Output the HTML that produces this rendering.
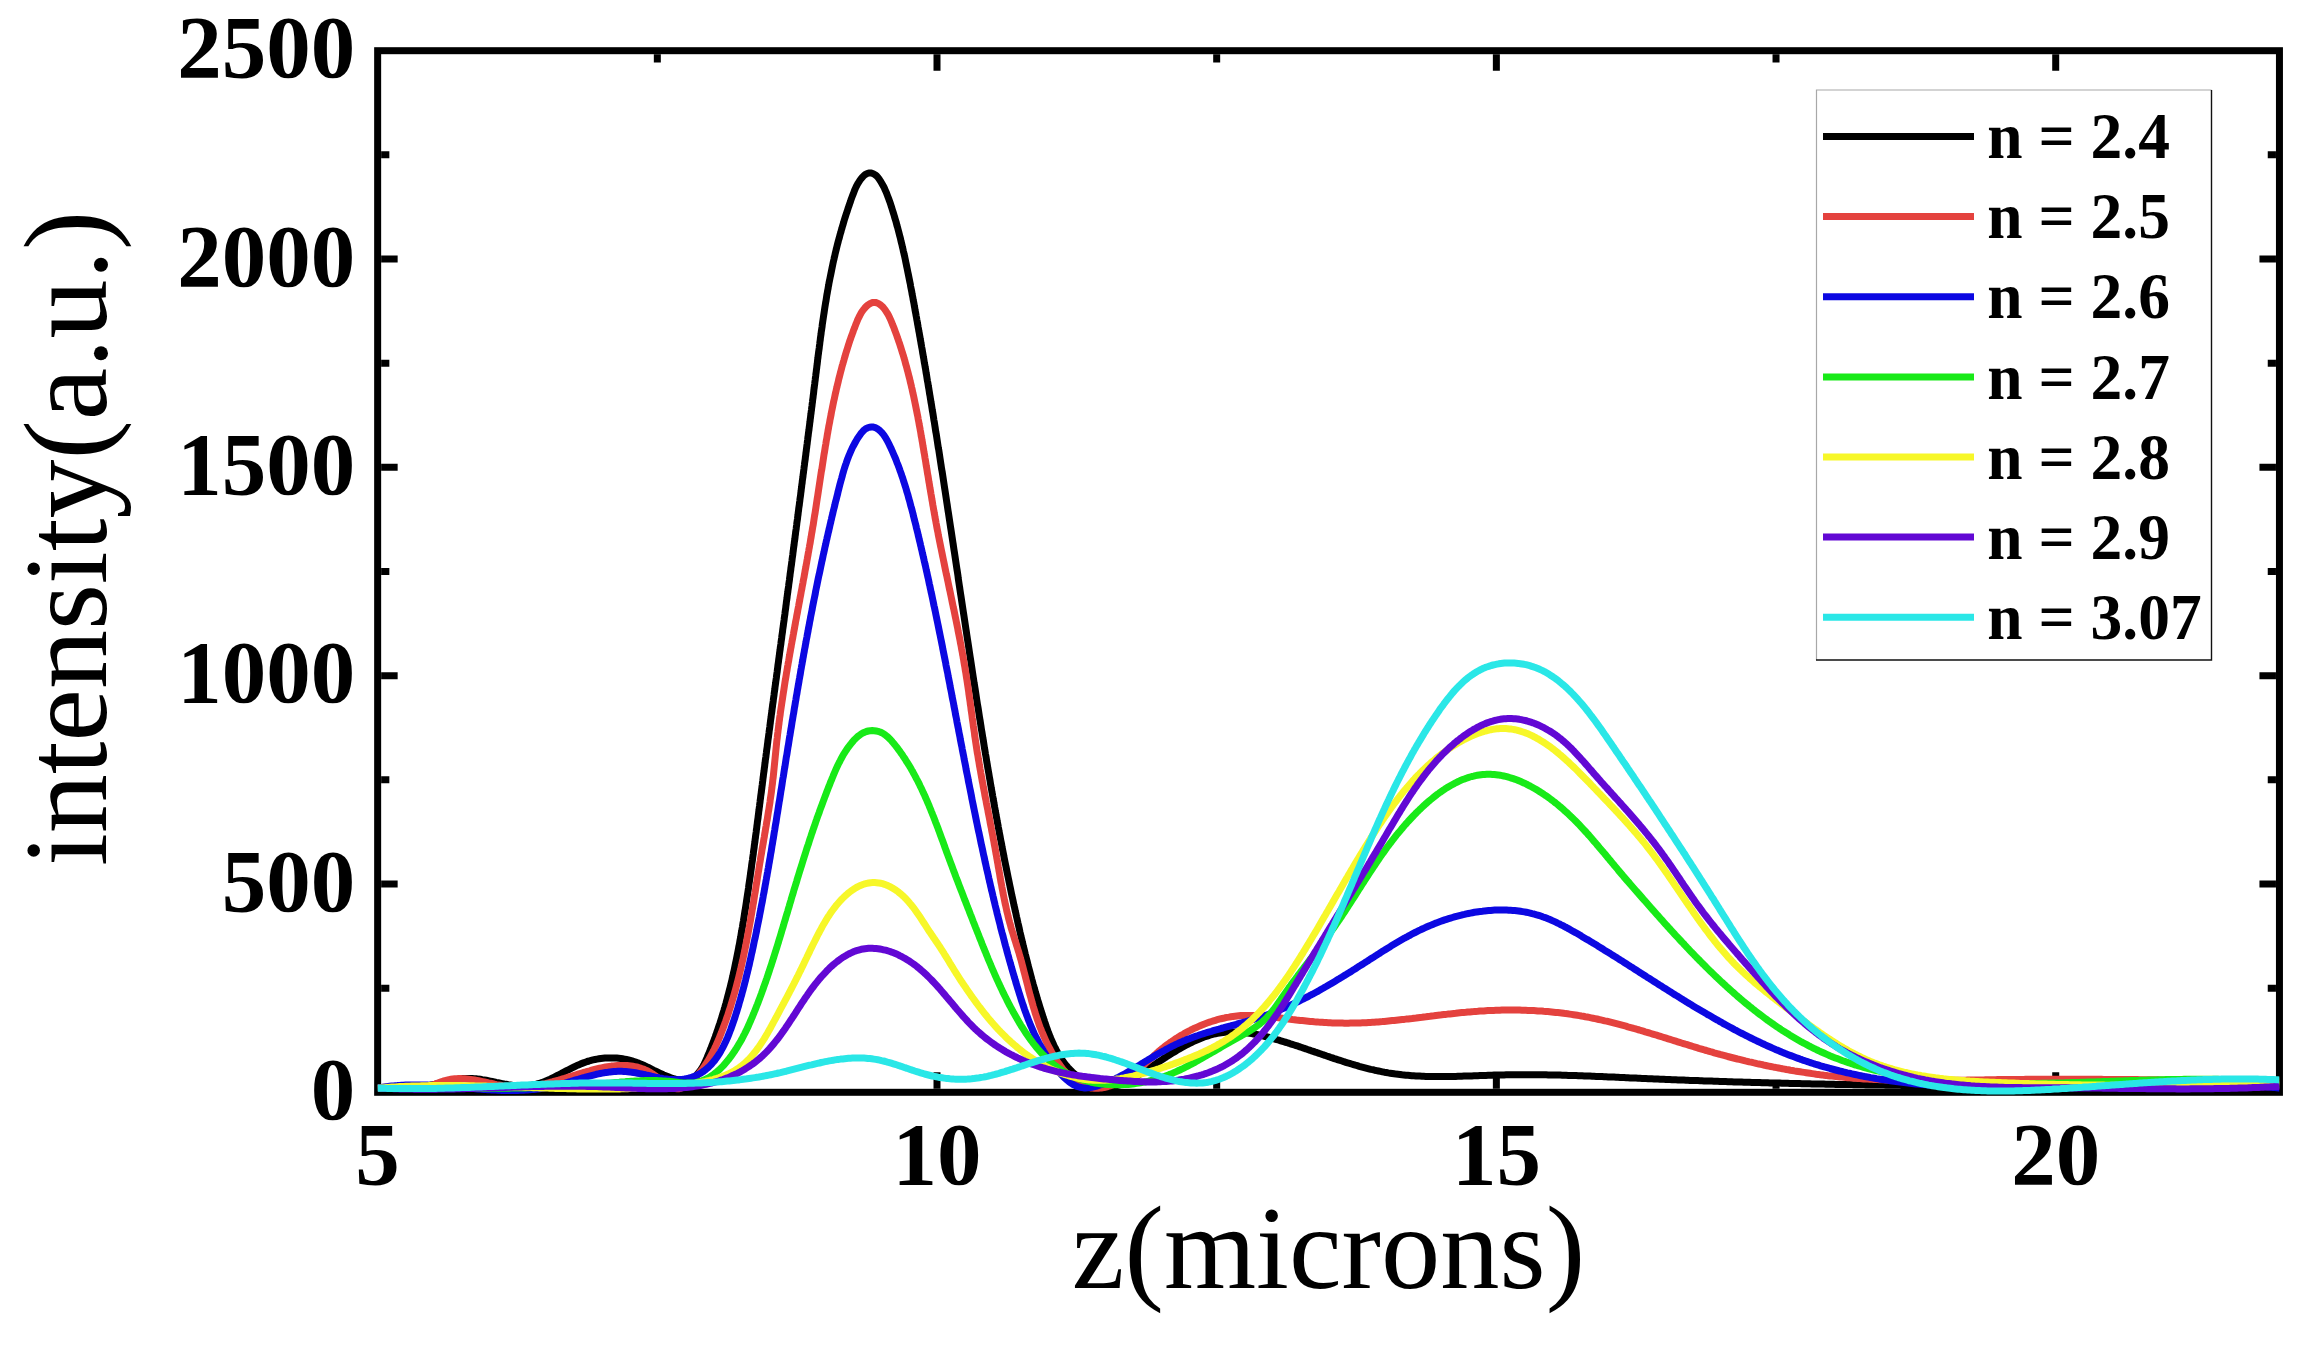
<!DOCTYPE html><html><head><meta charset="utf-8"><title>intensity vs z</title>
<style>html,body{margin:0;padding:0;background:#fff}svg{display:block}text{font-family:"Liberation Serif","Times New Roman",serif;fill:#000}</style></head><body>
<svg width="2304" height="1350" viewBox="0 0 2304 1350">
<rect width="2304" height="1350" fill="#fff"/>
<path d="M937.00 1088.80v-16.5M937.00 54.20v16.5M1496.36 1088.80v-16.5M1496.36 54.20v16.5M2055.71 1088.80v-16.5M2055.71 54.20v16.5M657.33 1088.80v-8.2M657.33 54.20v8.2M1216.68 1088.80v-8.2M1216.68 54.20v8.2M1776.03 1088.80v-8.2M1776.03 54.20v8.2M381.15 883.98h16.5M2275.95 883.98h-16.5M381.15 675.66h16.5M2275.95 675.66h-16.5M381.15 467.34h16.5M2275.95 467.34h-16.5M381.15 259.02h16.5M2275.95 259.02h-16.5M381.15 988.14h8.2M2275.95 988.14h-8.2M381.15 779.82h8.2M2275.95 779.82h-8.2M381.15 571.50h8.2M2275.95 571.50h-8.2M381.15 363.18h8.2M2275.95 363.18h-8.2M381.15 154.86h8.2M2275.95 154.86h-8.2" stroke="#000" stroke-width="7.0" fill="none"/>
<rect x="377.65" y="50.7" width="1901.80" height="1041.60" fill="none" stroke="#000" stroke-width="7.0"/>
<rect x="1816.5" y="90" width="395" height="570" fill="#fff" stroke="none"/>
<path d="M1816.5 660V90H2211.5" fill="none" stroke="#a8a8a8" stroke-width="1.2"/>
<path d="M1816 660H2211.5V90" fill="none" stroke="#111" stroke-width="1.4"/>
<clipPath id="c"><rect x="377.65" y="0" width="1901.80" height="1350"/></clipPath>
<g clip-path="url(#c)" fill="none" stroke-width="7" stroke-linejoin="round">
<path d="M377.6 1088.0 L379.6 1088.0 L381.5 1088.1 L383.5 1088.1 L385.5 1088.2 L387.5 1088.2 L389.5 1088.3 L391.5 1088.3 L393.5 1088.3 L395.5 1088.3 L397.5 1088.3 L399.5 1088.3 L401.5 1088.3 L403.6 1088.2 L405.6 1088.1 L407.6 1088.1 L409.6 1087.9 L411.6 1087.8 L413.6 1087.7 L415.7 1087.5 L417.7 1087.3 L419.7 1087.0 L421.6 1086.8 L423.6 1086.5 L425.6 1086.2 L427.6 1085.8 L429.5 1085.4 L431.5 1085.0 L433.4 1084.6 L435.4 1084.1 L437.3 1083.7 L439.3 1083.2 L441.2 1082.7 L443.1 1082.2 L445.0 1081.8 L447.0 1081.3 L448.9 1080.9 L450.8 1080.5 L452.7 1080.1 L454.7 1079.7 L456.6 1079.4 L458.5 1079.1 L460.5 1078.8 L462.4 1078.6 L464.3 1078.5 L466.3 1078.4 L468.3 1078.4 L470.2 1078.4 L472.2 1078.5 L474.2 1078.7 L476.2 1078.8 L478.2 1079.1 L480.2 1079.3 L482.2 1079.7 L484.2 1080.0 L486.2 1080.3 L488.2 1080.7 L490.2 1081.1 L492.2 1081.5 L494.2 1081.9 L496.2 1082.4 L498.2 1082.8 L500.2 1083.2 L502.2 1083.6 L504.2 1084.0 L506.2 1084.3 L508.2 1084.7 L510.2 1085.0 L512.1 1085.3 L514.1 1085.5 L516.1 1085.7 L518.1 1085.9 L520.0 1086.0 L522.0 1086.0 L523.9 1086.0 L525.8 1085.9 L527.8 1085.8 L529.7 1085.6 L531.6 1085.3 L533.5 1085.0 L535.3 1084.5 L537.2 1084.0 L539.1 1083.5 L540.9 1082.9 L542.8 1082.2 L544.6 1081.5 L546.5 1080.7 L548.3 1079.9 L550.1 1079.1 L552.0 1078.2 L553.8 1077.3 L555.6 1076.4 L557.4 1075.5 L559.3 1074.5 L561.1 1073.6 L562.9 1072.6 L564.7 1071.7 L566.6 1070.7 L568.4 1069.8 L570.3 1068.8 L572.1 1067.9 L574.0 1067.0 L575.8 1066.1 L577.7 1065.2 L579.6 1064.4 L581.5 1063.6 L583.4 1062.9 L585.3 1062.2 L587.2 1061.5 L589.1 1061.0 L591.1 1060.4 L593.0 1059.9 L595.0 1059.5 L597.0 1059.1 L598.9 1058.8 L600.9 1058.5 L602.9 1058.3 L604.9 1058.1 L606.9 1058.0 L608.9 1057.9 L610.8 1057.9 L612.8 1057.9 L614.8 1058.0 L616.8 1058.1 L618.7 1058.3 L620.7 1058.5 L622.6 1058.8 L624.5 1059.1 L626.5 1059.5 L628.4 1059.9 L630.2 1060.4 L632.1 1060.9 L634.0 1061.5 L635.8 1062.1 L637.6 1062.7 L639.4 1063.5 L641.2 1064.2 L643.0 1065.0 L644.8 1065.8 L646.6 1066.7 L648.4 1067.5 L650.2 1068.4 L652.0 1069.3 L653.9 1070.3 L655.8 1071.2 L657.8 1072.2 L659.7 1073.1 L661.7 1074.0 L663.7 1074.9 L665.7 1075.7 L667.7 1076.5 L669.7 1077.3 L671.6 1078.0 L673.6 1078.6 L675.6 1079.1 L677.5 1079.5 L679.4 1079.9 L681.3 1080.1 L683.1 1080.2 L684.9 1080.2 L686.6 1080.0 L688.3 1079.7 L690.0 1079.2 L691.5 1078.6 L693.1 1077.8 L694.5 1076.8 L695.9 1075.7 L697.2 1074.4 L698.4 1073.0 L699.6 1071.4 L700.8 1069.8 L701.9 1068.0 L703.0 1066.2 L704.0 1064.3 L704.9 1062.4 L705.9 1060.4 L706.8 1058.4 L707.6 1056.3 L708.5 1054.3 L709.3 1052.3 L710.1 1050.2 L710.9 1048.3 L711.6 1046.3 L712.4 1044.4 L713.1 1042.5 L713.8 1040.6 L714.5 1038.7 L715.2 1036.9 L715.8 1035.0 L716.5 1033.2 L717.1 1031.3 L717.8 1029.5 L718.4 1027.6 L719.0 1025.8 L719.7 1023.9 L720.3 1022.0 L720.9 1020.2 L721.5 1018.3 L722.1 1016.4 L722.6 1014.5 L723.2 1012.6 L723.8 1010.7 L724.3 1008.9 L724.9 1007.0 L725.4 1005.1 L726.0 1003.2 L726.5 1001.2 L727.0 999.3 L727.5 997.4 L728.0 995.5 L728.5 993.6 L729.0 991.7 L729.5 989.7 L730.0 987.8 L730.5 985.9 L730.9 984.0 L731.4 982.0 L731.9 980.1 L732.3 978.1 L732.8 976.2 L733.2 974.3 L733.6 972.3 L734.1 970.4 L734.5 968.4 L734.9 966.5 L735.3 964.5 L735.7 962.5 L736.1 960.6 L736.5 958.6 L736.9 956.7 L737.3 954.7 L737.7 952.7 L738.1 950.8 L738.5 948.8 L738.8 946.8 L739.2 944.9 L739.6 942.9 L739.9 940.9 L740.3 938.9 L740.7 937.0 L741.0 935.0 L741.3 933.0 L741.7 931.0 L742.0 929.1 L742.4 927.1 L742.7 925.1 L743.0 923.1 L743.4 921.1 L743.7 919.1 L744.0 917.2 L744.3 915.2 L744.6 913.2 L744.9 911.2 L745.3 909.2 L745.6 907.2 L745.9 905.3 L746.2 903.3 L746.5 901.3 L746.8 899.3 L747.1 897.3 L747.4 895.3 L747.7 893.4 L748.0 891.4 L748.3 889.4 L748.6 887.4 L748.8 885.4 L749.1 883.4 L749.4 881.5 L749.7 879.5 L750.0 877.5 L750.3 875.5 L750.5 873.5 L750.8 871.5 L751.1 869.6 L751.4 867.6 L751.6 865.6 L751.9 863.6 L752.2 861.6 L752.5 859.7 L752.7 857.7 L753.0 855.7 L753.3 853.7 L753.5 851.7 L753.8 849.7 L754.1 847.8 L754.3 845.8 L754.6 843.8 L754.9 841.8 L755.1 839.8 L755.4 837.9 L755.6 835.9 L755.9 833.9 L756.2 831.9 L756.4 829.9 L756.7 828.0 L756.9 826.0 L757.2 824.0 L757.4 822.0 L757.7 820.0 L758.0 818.1 L758.2 816.1 L758.5 814.1 L758.7 812.1 L759.0 810.1 L759.2 808.2 L759.5 806.2 L759.7 804.2 L760.0 802.2 L760.2 800.2 L760.5 798.3 L760.7 796.3 L761.0 794.3 L761.3 792.3 L761.5 790.3 L761.8 788.4 L762.0 786.4 L762.3 784.4 L762.5 782.4 L762.8 780.4 L763.0 778.5 L763.3 776.5 L763.5 774.5 L763.8 772.5 L764.1 770.5 L764.3 768.5 L764.6 766.6 L764.8 764.6 L765.1 762.6 L765.3 760.6 L765.6 758.6 L765.9 756.7 L766.1 754.7 L766.4 752.7 L766.6 750.7 L766.9 748.7 L767.2 746.8 L767.4 744.8 L767.7 742.8 L767.9 740.8 L768.2 738.8 L768.5 736.8 L768.7 734.9 L769.0 732.9 L769.2 730.9 L769.5 728.9 L769.8 726.9 L770.0 725.0 L770.3 723.0 L770.5 721.0 L770.8 719.0 L771.1 717.0 L771.3 715.0 L771.6 713.1 L771.9 711.1 L772.1 709.1 L772.4 707.1 L772.6 705.1 L772.9 703.2 L773.2 701.2 L773.4 699.2 L773.7 697.2 L774.0 695.2 L774.2 693.2 L774.5 691.3 L774.8 689.3 L775.0 687.3 L775.3 685.3 L775.6 683.3 L775.8 681.4 L776.1 679.4 L776.4 677.4 L776.6 675.4 L776.9 673.4 L777.2 671.4 L777.4 669.5 L777.7 667.5 L777.9 665.5 L778.2 663.5 L778.5 661.5 L778.7 659.5 L779.0 657.6 L779.3 655.6 L779.5 653.6 L779.8 651.6 L780.1 649.6 L780.3 647.6 L780.6 645.7 L780.9 643.7 L781.1 641.7 L781.4 639.7 L781.7 637.7 L781.9 635.7 L782.2 633.8 L782.5 631.8 L782.7 629.8 L783.0 627.8 L783.3 625.8 L783.5 623.9 L783.8 621.9 L784.1 619.9 L784.3 617.9 L784.6 615.9 L784.9 613.9 L785.1 612.0 L785.4 610.0 L785.7 608.0 L785.9 606.0 L786.2 604.0 L786.4 602.0 L786.7 600.1 L787.0 598.1 L787.2 596.1 L787.5 594.1 L787.8 592.1 L788.0 590.1 L788.3 588.2 L788.6 586.2 L788.8 584.2 L789.1 582.2 L789.4 580.2 L789.6 578.2 L789.9 576.3 L790.1 574.3 L790.4 572.3 L790.7 570.3 L790.9 568.3 L791.2 566.3 L791.5 564.4 L791.7 562.4 L792.0 560.4 L792.2 558.4 L792.5 556.4 L792.8 554.4 L793.0 552.5 L793.3 550.5 L793.5 548.5 L793.8 546.5 L794.1 544.5 L794.3 542.5 L794.6 540.6 L794.9 538.6 L795.1 536.6 L795.4 534.6 L795.6 532.6 L795.9 530.6 L796.2 528.7 L796.4 526.7 L796.7 524.7 L796.9 522.7 L797.2 520.7 L797.5 518.7 L797.7 516.8 L798.0 514.8 L798.2 512.8 L798.5 510.8 L798.7 508.8 L799.0 506.8 L799.3 504.9 L799.5 502.9 L799.8 500.9 L800.0 498.9 L800.3 496.9 L800.6 495.0 L800.8 493.0 L801.1 491.0 L801.3 489.0 L801.6 487.0 L801.8 485.0 L802.1 483.1 L802.3 481.1 L802.6 479.1 L802.9 477.1 L803.1 475.1 L803.4 473.1 L803.6 471.2 L803.9 469.2 L804.1 467.2 L804.4 465.2 L804.6 463.2 L804.9 461.2 L805.2 459.3 L805.4 457.3 L805.7 455.3 L805.9 453.3 L806.2 451.3 L806.4 449.3 L806.7 447.4 L806.9 445.4 L807.2 443.4 L807.4 441.4 L807.7 439.4 L807.9 437.4 L808.2 435.5 L808.4 433.5 L808.7 431.5 L809.0 429.5 L809.2 427.5 L809.5 425.5 L809.7 423.6 L810.0 421.6 L810.2 419.6 L810.5 417.6 L810.7 415.6 L811.0 413.6 L811.2 411.7 L811.5 409.7 L811.7 407.7 L812.0 405.7 L812.2 403.7 L812.5 401.7 L812.7 399.7 L813.0 397.8 L813.2 395.8 L813.5 393.8 L813.7 391.8 L813.9 389.8 L814.2 387.8 L814.4 385.9 L814.7 383.9 L814.9 381.9 L815.2 379.9 L815.4 377.9 L815.7 375.9 L815.9 374.0 L816.2 372.0 L816.4 370.0 L816.7 368.0 L816.9 366.0 L817.2 364.0 L817.4 362.1 L817.6 360.1 L817.9 358.1 L818.1 356.1 L818.4 354.1 L818.6 352.2 L818.9 350.2 L819.2 348.2 L819.4 346.2 L819.7 344.2 L819.9 342.2 L820.2 340.3 L820.4 338.3 L820.7 336.3 L821.0 334.3 L821.2 332.3 L821.5 330.4 L821.8 328.4 L822.1 326.4 L822.3 324.4 L822.6 322.4 L822.9 320.5 L823.2 318.5 L823.5 316.5 L823.8 314.5 L824.1 312.6 L824.4 310.6 L824.7 308.6 L825.0 306.6 L825.3 304.7 L825.6 302.7 L826.0 300.7 L826.3 298.8 L826.6 296.8 L826.9 294.8 L827.3 292.8 L827.6 290.9 L828.0 288.9 L828.3 286.9 L828.7 285.0 L829.0 283.0 L829.4 281.0 L829.8 279.1 L830.2 277.1 L830.6 275.2 L831.0 273.2 L831.4 271.2 L831.8 269.3 L832.2 267.3 L832.6 265.4 L833.0 263.4 L833.4 261.5 L833.9 259.5 L834.3 257.5 L834.8 255.6 L835.2 253.6 L835.7 251.7 L836.2 249.7 L836.6 247.8 L837.1 245.9 L837.6 243.9 L838.1 242.0 L838.6 240.0 L839.2 238.1 L839.7 236.1 L840.2 234.2 L840.8 232.3 L841.3 230.3 L841.9 228.4 L842.4 226.5 L843.0 224.6 L843.6 222.6 L844.1 220.7 L844.7 218.8 L845.3 216.9 L845.9 215.0 L846.5 213.1 L847.2 211.2 L847.8 209.3 L848.4 207.4 L849.1 205.5 L849.7 203.6 L850.4 201.7 L851.0 199.8 L851.7 197.9 L852.4 196.1 L853.1 194.2 L853.8 192.4 L854.5 190.5 L855.3 188.7 L856.1 186.9 L857.0 185.1 L858.0 183.3 L859.1 181.6 L860.2 179.9 L861.5 178.3 L862.8 176.7 L864.3 175.3 L865.9 174.1 L867.6 173.3 L869.4 172.9 L871.3 173.0 L873.3 173.7 L875.1 174.7 L876.7 176.0 L878.0 177.5 L879.2 179.1 L880.3 180.8 L881.3 182.5 L882.3 184.2 L883.3 186.0 L884.2 187.7 L885.0 189.6 L885.8 191.4 L886.6 193.2 L887.3 195.1 L888.0 196.9 L888.7 198.8 L889.4 200.7 L890.1 202.6 L890.7 204.5 L891.3 206.4 L891.9 208.3 L892.5 210.2 L893.1 212.1 L893.7 214.1 L894.3 216.0 L894.8 217.9 L895.4 219.8 L896.0 221.7 L896.5 223.7 L897.0 225.6 L897.6 227.5 L898.1 229.5 L898.6 231.4 L899.1 233.3 L899.6 235.3 L900.1 237.2 L900.6 239.2 L901.0 241.1 L901.5 243.0 L902.0 245.0 L902.4 246.9 L902.9 248.9 L903.3 250.8 L903.8 252.8 L904.2 254.7 L904.7 256.7 L905.1 258.6 L905.5 260.6 L905.9 262.6 L906.3 264.5 L906.7 266.5 L907.1 268.4 L907.5 270.4 L907.9 272.4 L908.3 274.3 L908.7 276.3 L909.1 278.2 L909.5 280.2 L909.9 282.2 L910.3 284.1 L910.6 286.1 L911.0 288.1 L911.4 290.0 L911.8 292.0 L912.1 294.0 L912.5 295.9 L912.9 297.9 L913.2 299.9 L913.6 301.8 L914.0 303.8 L914.3 305.8 L914.7 307.7 L915.0 309.7 L915.4 311.7 L915.8 313.7 L916.1 315.6 L916.5 317.6 L916.8 319.6 L917.2 321.5 L917.5 323.5 L917.9 325.5 L918.2 327.4 L918.6 329.4 L918.9 331.4 L919.3 333.3 L919.6 335.3 L920.0 337.3 L920.3 339.2 L920.7 341.2 L921.0 343.2 L921.4 345.2 L921.7 347.1 L922.1 349.1 L922.4 351.1 L922.7 353.0 L923.1 355.0 L923.4 357.0 L923.8 358.9 L924.1 360.9 L924.4 362.9 L924.8 364.9 L925.1 366.8 L925.5 368.8 L925.8 370.8 L926.1 372.7 L926.5 374.7 L926.8 376.7 L927.1 378.7 L927.4 380.6 L927.8 382.6 L928.1 384.6 L928.4 386.5 L928.8 388.5 L929.1 390.5 L929.4 392.4 L929.7 394.4 L930.1 396.4 L930.4 398.4 L930.7 400.3 L931.0 402.3 L931.4 404.3 L931.7 406.3 L932.0 408.2 L932.3 410.2 L932.7 412.2 L933.0 414.1 L933.3 416.1 L933.6 418.1 L933.9 420.1 L934.3 422.0 L934.6 424.0 L934.9 426.0 L935.2 427.9 L935.5 429.9 L935.8 431.9 L936.2 433.9 L936.5 435.8 L936.8 437.8 L937.1 439.8 L937.4 441.8 L937.7 443.7 L938.0 445.7 L938.3 447.7 L938.7 449.6 L939.0 451.6 L939.3 453.6 L939.6 455.6 L939.9 457.5 L940.2 459.5 L940.5 461.5 L940.8 463.5 L941.1 465.4 L941.4 467.4 L941.7 469.4 L942.1 471.4 L942.4 473.3 L942.7 475.3 L943.0 477.3 L943.3 479.3 L943.6 481.2 L943.9 483.2 L944.2 485.2 L944.5 487.2 L944.8 489.1 L945.1 491.1 L945.4 493.1 L945.7 495.1 L946.0 497.0 L946.3 499.0 L946.6 501.0 L946.9 503.0 L947.2 504.9 L947.5 506.9 L947.8 508.9 L948.1 510.9 L948.4 512.8 L948.7 514.8 L949.0 516.8 L949.3 518.8 L949.6 520.7 L949.9 522.7 L950.2 524.7 L950.5 526.7 L950.8 528.6 L951.1 530.6 L951.4 532.6 L951.7 534.6 L952.0 536.5 L952.3 538.5 L952.6 540.5 L952.9 542.5 L953.2 544.4 L953.5 546.4 L953.8 548.4 L954.1 550.4 L954.4 552.3 L954.7 554.3 L955.0 556.3 L955.3 558.3 L955.6 560.3 L955.9 562.2 L956.2 564.2 L956.5 566.2 L956.8 568.2 L957.1 570.1 L957.4 572.1 L957.7 574.1 L958.0 576.1 L958.2 578.0 L958.5 580.0 L958.8 582.0 L959.1 584.0 L959.4 586.0 L959.7 587.9 L960.0 589.9 L960.3 591.9 L960.6 593.9 L960.9 595.8 L961.2 597.8 L961.5 599.8 L961.8 601.8 L962.1 603.8 L962.4 605.7 L962.7 607.7 L963.0 609.7 L963.3 611.7 L963.6 613.6 L963.9 615.6 L964.2 617.6 L964.5 619.6 L964.8 621.6 L965.1 623.5 L965.4 625.5 L965.7 627.5 L966.0 629.5 L966.3 631.4 L966.6 633.4 L966.9 635.4 L967.2 637.4 L967.5 639.4 L967.8 641.3 L968.1 643.3 L968.4 645.3 L968.7 647.3 L969.0 649.3 L969.3 651.2 L969.6 653.2 L969.9 655.2 L970.2 657.2 L970.5 659.1 L970.8 661.1 L971.1 663.1 L971.4 665.1 L971.7 667.1 L972.0 669.0 L972.3 671.0 L972.6 673.0 L972.9 675.0 L973.2 677.0 L973.5 678.9 L973.8 680.9 L974.1 682.9 L974.5 684.9 L974.8 686.9 L975.1 688.8 L975.4 690.8 L975.7 692.8 L976.0 694.8 L976.3 696.8 L976.6 698.7 L976.9 700.7 L977.2 702.7 L977.5 704.7 L977.9 706.7 L978.2 708.6 L978.5 710.6 L978.8 712.6 L979.1 714.6 L979.4 716.6 L979.7 718.5 L980.1 720.5 L980.4 722.5 L980.7 724.5 L981.0 726.4 L981.3 728.4 L981.6 730.4 L982.0 732.4 L982.3 734.4 L982.6 736.3 L982.9 738.3 L983.3 740.3 L983.6 742.3 L983.9 744.3 L984.2 746.2 L984.5 748.2 L984.9 750.2 L985.2 752.2 L985.5 754.1 L985.9 756.1 L986.2 758.1 L986.5 760.1 L986.8 762.0 L987.2 764.0 L987.5 766.0 L987.8 768.0 L988.2 769.9 L988.5 771.9 L988.9 773.9 L989.2 775.9 L989.5 777.8 L989.9 779.8 L990.2 781.8 L990.5 783.8 L990.9 785.7 L991.2 787.7 L991.6 789.7 L991.9 791.7 L992.3 793.6 L992.6 795.6 L993.0 797.6 L993.3 799.5 L993.7 801.5 L994.0 803.5 L994.4 805.5 L994.7 807.4 L995.1 809.4 L995.4 811.4 L995.8 813.3 L996.1 815.3 L996.5 817.3 L996.9 819.2 L997.2 821.2 L997.6 823.2 L998.0 825.1 L998.3 827.1 L998.7 829.1 L999.0 831.0 L999.4 833.0 L999.8 835.0 L1000.2 836.9 L1000.5 838.9 L1000.9 840.9 L1001.3 842.8 L1001.7 844.8 L1002.0 846.7 L1002.4 848.7 L1002.8 850.7 L1003.2 852.6 L1003.6 854.6 L1003.9 856.5 L1004.3 858.5 L1004.7 860.5 L1005.1 862.4 L1005.5 864.4 L1005.9 866.3 L1006.3 868.3 L1006.7 870.2 L1007.1 872.2 L1007.5 874.2 L1007.9 876.1 L1008.3 878.1 L1008.7 880.0 L1009.1 882.0 L1009.5 883.9 L1009.9 885.9 L1010.3 887.8 L1010.7 889.8 L1011.1 891.7 L1011.5 893.7 L1011.9 895.6 L1012.4 897.6 L1012.8 899.5 L1013.2 901.5 L1013.6 903.4 L1014.0 905.4 L1014.5 907.3 L1014.9 909.3 L1015.3 911.2 L1015.8 913.1 L1016.2 915.1 L1016.6 917.0 L1017.1 919.0 L1017.5 920.9 L1017.9 922.8 L1018.4 924.8 L1018.8 926.7 L1019.3 928.7 L1019.7 930.6 L1020.1 932.5 L1020.6 934.5 L1021.0 936.4 L1021.5 938.3 L1022.0 940.3 L1022.4 942.2 L1022.9 944.1 L1023.3 946.1 L1023.8 948.0 L1024.3 949.9 L1024.8 951.9 L1025.2 953.8 L1025.7 955.7 L1026.2 957.7 L1026.7 959.6 L1027.2 961.5 L1027.7 963.5 L1028.1 965.4 L1028.6 967.3 L1029.2 969.3 L1029.7 971.2 L1030.2 973.1 L1030.7 975.1 L1031.2 977.0 L1031.7 978.9 L1032.3 980.9 L1032.8 982.8 L1033.3 984.7 L1033.9 986.7 L1034.4 988.6 L1035.0 990.5 L1035.5 992.5 L1036.1 994.4 L1036.7 996.3 L1037.2 998.3 L1037.8 1000.2 L1038.4 1002.1 L1039.0 1004.1 L1039.6 1006.0 L1040.2 1008.0 L1040.8 1009.9 L1041.4 1011.9 L1042.1 1013.8 L1042.7 1015.7 L1043.3 1017.7 L1044.0 1019.6 L1044.6 1021.6 L1045.3 1023.5 L1045.9 1025.5 L1046.6 1027.4 L1047.3 1029.3 L1048.0 1031.3 L1048.7 1033.2 L1049.5 1035.1 L1050.2 1037.0 L1051.0 1038.8 L1051.8 1040.7 L1052.6 1042.5 L1053.4 1044.4 L1054.3 1046.2 L1055.2 1048.0 L1056.1 1049.7 L1057.0 1051.5 L1057.9 1053.2 L1058.9 1054.9 L1059.9 1056.6 L1060.9 1058.2 L1062.0 1059.8 L1063.1 1061.4 L1064.2 1062.9 L1065.4 1064.4 L1066.6 1065.9 L1067.8 1067.3 L1069.1 1068.7 L1070.4 1070.1 L1071.8 1071.4 L1073.1 1072.7 L1074.6 1073.9 L1076.0 1075.1 L1077.6 1076.2 L1079.1 1077.3 L1080.7 1078.4 L1082.4 1079.4 L1084.1 1080.3 L1085.8 1081.2 L1087.6 1082.0 L1089.4 1082.8 L1091.3 1083.5 L1093.2 1084.1 L1095.2 1084.7 L1097.1 1085.2 L1099.1 1085.6 L1101.1 1086.0 L1103.1 1086.2 L1105.1 1086.4 L1107.1 1086.5 L1109.1 1086.5 L1111.1 1086.5 L1113.0 1086.3 L1115.0 1086.0 L1116.9 1085.6 L1118.8 1085.1 L1120.6 1084.6 L1122.4 1083.9 L1124.2 1083.1 L1126.0 1082.3 L1127.8 1081.4 L1129.5 1080.4 L1131.3 1079.4 L1133.0 1078.4 L1134.7 1077.3 L1136.5 1076.3 L1138.2 1075.2 L1140.0 1074.1 L1141.7 1073.0 L1143.4 1071.8 L1145.2 1070.7 L1146.9 1069.6 L1148.7 1068.4 L1150.4 1067.3 L1152.2 1066.1 L1153.9 1065.0 L1155.7 1063.8 L1157.4 1062.6 L1159.2 1061.5 L1161.0 1060.3 L1162.7 1059.2 L1164.5 1058.0 L1166.3 1056.9 L1168.0 1055.8 L1169.8 1054.7 L1171.6 1053.5 L1173.4 1052.5 L1175.2 1051.4 L1177.0 1050.3 L1178.8 1049.3 L1180.6 1048.2 L1182.4 1047.2 L1184.2 1046.2 L1186.0 1045.2 L1187.8 1044.3 L1189.6 1043.4 L1191.4 1042.5 L1193.2 1041.6 L1195.1 1040.8 L1196.9 1040.0 L1198.7 1039.2 L1200.6 1038.4 L1202.4 1037.7 L1204.2 1037.0 L1206.1 1036.4 L1208.0 1035.8 L1209.8 1035.2 L1211.7 1034.7 L1213.5 1034.2 L1215.4 1033.8 L1217.3 1033.4 L1219.2 1033.0 L1221.1 1032.7 L1223.0 1032.5 L1224.9 1032.3 L1226.8 1032.1 L1228.7 1032.0 L1230.6 1031.9 L1232.5 1031.9 L1234.4 1031.9 L1236.3 1032.0 L1238.2 1032.1 L1240.2 1032.2 L1242.1 1032.3 L1244.0 1032.5 L1246.0 1032.8 L1247.9 1033.0 L1249.8 1033.3 L1251.8 1033.6 L1253.7 1034.0 L1255.6 1034.3 L1257.6 1034.7 L1259.5 1035.2 L1261.5 1035.6 L1263.4 1036.0 L1265.3 1036.5 L1267.3 1037.0 L1269.2 1037.5 L1271.1 1038.0 L1273.1 1038.6 L1275.0 1039.1 L1276.9 1039.7 L1278.9 1040.2 L1280.8 1040.8 L1282.7 1041.4 L1284.6 1042.0 L1286.6 1042.5 L1288.5 1043.1 L1290.4 1043.8 L1292.3 1044.4 L1294.2 1045.0 L1296.1 1045.6 L1298.1 1046.2 L1300.0 1046.9 L1301.9 1047.5 L1303.8 1048.2 L1305.7 1048.8 L1307.6 1049.5 L1309.5 1050.1 L1311.4 1050.8 L1313.3 1051.4 L1315.3 1052.1 L1317.2 1052.7 L1319.1 1053.4 L1321.0 1054.0 L1322.9 1054.7 L1324.8 1055.3 L1326.7 1056.0 L1328.6 1056.6 L1330.5 1057.3 L1332.4 1057.9 L1334.3 1058.6 L1336.2 1059.2 L1338.1 1059.8 L1340.1 1060.4 L1342.0 1061.0 L1343.9 1061.7 L1345.8 1062.3 L1347.7 1062.9 L1349.6 1063.4 L1351.5 1064.0 L1353.5 1064.6 L1355.4 1065.2 L1357.3 1065.7 L1359.2 1066.3 L1361.1 1066.8 L1363.1 1067.3 L1365.0 1067.8 L1366.9 1068.3 L1368.8 1068.8 L1370.8 1069.3 L1372.7 1069.7 L1374.6 1070.2 L1376.6 1070.6 L1378.5 1071.0 L1380.5 1071.4 L1382.4 1071.8 L1384.3 1072.2 L1386.3 1072.5 L1388.2 1072.9 L1390.2 1073.2 L1392.2 1073.5 L1394.1 1073.8 L1396.1 1074.1 L1398.0 1074.3 L1400.0 1074.5 L1402.0 1074.8 L1403.9 1075.0 L1405.9 1075.2 L1407.9 1075.3 L1409.9 1075.5 L1411.8 1075.7 L1413.8 1075.8 L1415.8 1075.9 L1417.8 1076.0 L1419.8 1076.1 L1421.8 1076.2 L1423.8 1076.3 L1425.7 1076.4 L1427.7 1076.4 L1429.7 1076.5 L1431.7 1076.5 L1433.7 1076.5 L1435.7 1076.6 L1437.7 1076.6 L1439.7 1076.6 L1441.7 1076.6 L1443.7 1076.6 L1445.7 1076.5 L1447.7 1076.5 L1449.8 1076.5 L1451.8 1076.4 L1453.8 1076.4 L1455.8 1076.4 L1457.8 1076.3 L1459.8 1076.3 L1461.8 1076.2 L1463.8 1076.1 L1465.8 1076.1 L1467.8 1076.0 L1469.9 1075.9 L1471.9 1075.9 L1473.9 1075.8 L1475.9 1075.7 L1477.9 1075.7 L1479.9 1075.6 L1481.9 1075.5 L1484.0 1075.4 L1486.0 1075.4 L1488.0 1075.3 L1490.0 1075.2 L1492.0 1075.2 L1494.0 1075.1 L1496.0 1075.1 L1498.0 1075.0 L1500.1 1075.0 L1502.1 1074.9 L1504.1 1074.9 L1506.1 1074.8 L1508.1 1074.8 L1510.1 1074.8 L1512.1 1074.7 L1514.1 1074.7 L1516.1 1074.7 L1518.1 1074.7 L1520.1 1074.7 L1522.1 1074.7 L1524.2 1074.7 L1526.2 1074.7 L1528.2 1074.7 L1530.2 1074.7 L1532.2 1074.7 L1534.2 1074.7 L1536.2 1074.7 L1538.2 1074.7 L1540.2 1074.8 L1542.2 1074.8 L1544.2 1074.8 L1546.2 1074.8 L1548.2 1074.9 L1550.2 1074.9 L1552.2 1075.0 L1554.2 1075.0 L1556.2 1075.0 L1558.2 1075.1 L1560.2 1075.1 L1562.2 1075.2 L1564.2 1075.3 L1566.2 1075.3 L1568.2 1075.4 L1570.2 1075.4 L1572.2 1075.5 L1574.2 1075.6 L1576.2 1075.6 L1578.2 1075.7 L1580.2 1075.8 L1582.2 1075.8 L1584.2 1075.9 L1586.2 1076.0 L1588.2 1076.1 L1590.1 1076.1 L1592.1 1076.2 L1594.1 1076.3 L1596.1 1076.4 L1598.1 1076.5 L1600.1 1076.5 L1602.1 1076.6 L1604.1 1076.7 L1606.1 1076.8 L1608.1 1076.9 L1610.1 1077.0 L1612.1 1077.1 L1614.1 1077.1 L1616.1 1077.2 L1618.1 1077.3 L1620.1 1077.4 L1622.1 1077.5 L1624.1 1077.6 L1626.1 1077.7 L1628.0 1077.8 L1630.0 1077.9 L1632.0 1077.9 L1634.0 1078.0 L1636.0 1078.1 L1638.0 1078.2 L1640.0 1078.3 L1642.0 1078.4 L1644.0 1078.5 L1646.0 1078.6 L1648.0 1078.7 L1650.0 1078.7 L1652.0 1078.8 L1654.0 1078.9 L1656.0 1079.0 L1658.0 1079.1 L1660.0 1079.2 L1662.0 1079.3 L1663.9 1079.3 L1665.9 1079.4 L1667.9 1079.5 L1669.9 1079.6 L1671.9 1079.7 L1673.9 1079.7 L1675.9 1079.8 L1677.9 1079.9 L1679.9 1080.0 L1681.9 1080.1 L1683.9 1080.1 L1685.9 1080.2 L1687.9 1080.3 L1689.9 1080.4 L1691.9 1080.4 L1693.9 1080.5 L1695.9 1080.6 L1697.9 1080.6 L1699.9 1080.7 L1701.9 1080.8 L1703.9 1080.9 L1705.9 1080.9 L1707.9 1081.0 L1709.9 1081.1 L1711.9 1081.1 L1713.8 1081.2 L1715.8 1081.3 L1717.8 1081.3 L1719.8 1081.4 L1721.8 1081.5 L1723.8 1081.5 L1725.8 1081.6 L1727.8 1081.7 L1729.8 1081.7 L1731.8 1081.8 L1733.8 1081.9 L1735.8 1081.9 L1737.8 1082.0 L1739.8 1082.0 L1741.8 1082.1 L1743.8 1082.2 L1745.8 1082.2 L1747.8 1082.3 L1749.8 1082.3 L1751.8 1082.4 L1753.8 1082.4 L1755.8 1082.5 L1757.8 1082.6 L1759.8 1082.6 L1761.8 1082.7 L1763.8 1082.7 L1765.8 1082.8 L1767.8 1082.8 L1769.8 1082.9 L1771.8 1082.9 L1773.8 1083.0 L1775.8 1083.0 L1777.8 1083.1 L1779.8 1083.1 L1781.8 1083.2 L1783.8 1083.2 L1785.8 1083.3 L1787.8 1083.3 L1789.8 1083.4 L1791.8 1083.4 L1793.8 1083.5 L1795.8 1083.5 L1797.8 1083.6 L1799.8 1083.6 L1801.8 1083.7 L1803.8 1083.7 L1805.8 1083.8 L1807.8 1083.8 L1809.8 1083.8 L1811.8 1083.9 L1813.8 1083.9 L1815.8 1084.0 L1817.8 1084.0 L1819.8 1084.1 L1821.8 1084.1 L1823.8 1084.1 L1825.8 1084.2 L1827.8 1084.2 L1829.8 1084.2 L1831.8 1084.3 L1833.8 1084.3 L1835.8 1084.4 L1837.8 1084.4 L1839.8 1084.4 L1841.8 1084.5 L1843.8 1084.5 L1845.8 1084.5 L1847.8 1084.6 L1849.8 1084.6 L1851.8 1084.6 L1853.8 1084.7 L1855.8 1084.7 L1857.8 1084.7 L1859.8 1084.8 L1861.8 1084.8 L1863.8 1084.8 L1865.8 1084.9 L1867.8 1084.9 L1869.8 1084.9 L1871.8 1085.0 L1873.8 1085.0 L1875.8 1085.0 L1877.8 1085.1 L1879.8 1085.1 L1881.8 1085.1 L1883.8 1085.1 L1885.8 1085.2 L1887.8 1085.2 L1889.8 1085.2 L1891.8 1085.2 L1893.8 1085.3 L1895.8 1085.3 L1897.8 1085.3 L1899.8 1085.3 L1901.8 1085.4 L1903.8 1085.4 L1905.8 1085.4 L1907.8 1085.4 L1909.8 1085.5 L1911.8 1085.5 L1913.8 1085.5 L1915.8 1085.5 L1917.8 1085.6 L1919.8 1085.6 L1921.8 1085.6 L1923.8 1085.6 L1925.8 1085.6 L1927.8 1085.7 L1929.8 1085.7 L1931.8 1085.7 L1933.8 1085.7 L1935.8 1085.7 L1937.8 1085.8 L1939.8 1085.8 L1941.8 1085.8 L1943.8 1085.8 L1945.8 1085.8 L1947.8 1085.8 L1949.8 1085.9 L1951.8 1085.9 L1953.8 1085.9 L1955.8 1085.9 L1957.8 1085.9 L1959.8 1085.9 L1961.8 1085.9 L1963.8 1086.0 L1965.8 1086.0 L1967.8 1086.0 L1969.8 1086.0 L1971.8 1086.0 L1973.8 1086.0 L1975.8 1086.0 L1977.8 1086.1 L1979.8 1086.1 L1981.8 1086.1 L1983.8 1086.1 L1985.8 1086.1 L1987.8 1086.1 L1989.8 1086.1 L1991.8 1086.1 L1993.8 1086.1 L1995.8 1086.1 L1997.8 1086.2 L1999.8 1086.2 L2001.8 1086.2 L2003.8 1086.2 L2005.8 1086.2 L2007.8 1086.2 L2009.8 1086.2 L2011.8 1086.2 L2013.8 1086.2 L2015.8 1086.2 L2017.8 1086.2 L2019.8 1086.2 L2021.8 1086.3 L2023.8 1086.3 L2025.8 1086.3 L2027.8 1086.3 L2029.8 1086.3 L2031.8 1086.3 L2033.8 1086.3 L2035.8 1086.3 L2037.8 1086.3 L2039.8 1086.3 L2041.8 1086.3 L2043.8 1086.3 L2045.8 1086.3 L2047.8 1086.3 L2049.8 1086.3 L2051.8 1086.3 L2053.8 1086.3 L2055.8 1086.3 L2057.8 1086.3 L2059.9 1086.3 L2061.9 1086.3 L2063.9 1086.3 L2065.9 1086.3 L2067.9 1086.3 L2069.9 1086.3 L2071.9 1086.3 L2073.9 1086.3 L2075.9 1086.3 L2077.9 1086.3 L2079.9 1086.3 L2081.9 1086.3 L2083.9 1086.3 L2085.9 1086.3 L2087.9 1086.3 L2089.9 1086.3 L2091.9 1086.3 L2093.9 1086.3 L2095.9 1086.3 L2097.9 1086.3 L2099.9 1086.3 L2101.9 1086.3 L2103.9 1086.3 L2105.9 1086.3 L2107.9 1086.3 L2109.9 1086.3 L2111.9 1086.3 L2113.9 1086.3 L2115.9 1086.3 L2117.9 1086.3 L2119.9 1086.3 L2121.9 1086.3 L2123.9 1086.3 L2125.9 1086.3 L2127.9 1086.3 L2129.9 1086.3 L2131.9 1086.3 L2133.9 1086.3 L2135.9 1086.3 L2137.9 1086.3 L2139.9 1086.3 L2141.9 1086.3 L2143.9 1086.3 L2145.9 1086.3 L2147.9 1086.3 L2149.9 1086.3 L2151.9 1086.3 L2153.9 1086.3 L2155.9 1086.3 L2157.9 1086.2 L2159.9 1086.2 L2161.9 1086.2 L2163.9 1086.2 L2165.9 1086.2 L2167.9 1086.2 L2169.9 1086.2 L2171.9 1086.2 L2173.9 1086.2 L2175.9 1086.2 L2177.9 1086.2 L2179.9 1086.2 L2181.9 1086.2 L2183.9 1086.2 L2185.9 1086.2 L2187.9 1086.2 L2189.9 1086.2 L2191.9 1086.2 L2193.9 1086.1 L2195.9 1086.1 L2197.9 1086.1 L2199.9 1086.1 L2201.9 1086.1 L2203.9 1086.1 L2205.9 1086.1 L2207.9 1086.1 L2209.9 1086.1 L2211.9 1086.1 L2213.9 1086.1 L2215.9 1086.1 L2217.9 1086.1 L2219.9 1086.1 L2221.9 1086.1 L2223.8 1086.0 L2225.8 1086.0 L2227.8 1086.0 L2229.8 1086.0 L2231.8 1086.0 L2233.8 1086.0 L2235.8 1086.0 L2237.8 1086.0 L2239.8 1086.0 L2241.8 1086.0 L2243.8 1086.0 L2245.8 1086.0 L2247.8 1086.0 L2249.8 1086.0 L2251.8 1085.9 L2253.8 1085.9 L2255.8 1085.9 L2257.8 1085.9 L2259.8 1085.9 L2261.8 1085.9 L2263.8 1085.9 L2265.8 1085.9 L2267.8 1085.9 L2269.8 1085.9 L2271.8 1085.9 L2273.8 1085.9 L2275.8 1085.9 L2277.8 1085.9 L2279.5 1085.9" stroke="#000000"/>
<path d="M377.6 1088.0 L379.6 1087.6 L381.5 1087.4 L383.5 1087.2 L385.5 1087.1 L387.5 1087.0 L389.5 1087.0 L391.5 1087.1 L393.5 1087.2 L395.5 1087.3 L397.5 1087.5 L399.5 1087.6 L401.6 1087.8 L403.6 1087.9 L405.6 1088.1 L407.6 1088.2 L409.6 1088.3 L411.7 1088.4 L413.7 1088.4 L415.7 1088.4 L417.7 1088.3 L419.7 1088.2 L421.7 1087.9 L423.6 1087.6 L425.6 1087.2 L427.6 1086.7 L429.5 1086.2 L431.5 1085.5 L433.4 1084.8 L435.3 1084.1 L437.3 1083.3 L439.2 1082.6 L441.1 1081.9 L443.0 1081.2 L445.0 1080.6 L446.9 1080.1 L448.9 1079.6 L450.8 1079.3 L452.8 1079.0 L454.7 1078.8 L456.7 1078.7 L458.7 1078.6 L460.7 1078.6 L462.6 1078.7 L464.6 1078.8 L466.6 1079.0 L468.6 1079.2 L470.6 1079.4 L472.6 1079.7 L474.6 1080.0 L476.6 1080.4 L478.6 1080.8 L480.6 1081.2 L482.6 1081.6 L484.6 1082.0 L486.6 1082.4 L488.6 1082.9 L490.6 1083.3 L492.6 1083.7 L494.6 1084.2 L496.6 1084.6 L498.6 1084.9 L500.6 1085.3 L502.5 1085.7 L504.5 1086.0 L506.5 1086.2 L508.5 1086.5 L510.4 1086.7 L512.4 1086.8 L514.4 1086.9 L516.3 1087.0 L518.3 1087.0 L520.2 1087.0 L522.2 1086.9 L524.1 1086.8 L526.0 1086.7 L528.0 1086.5 L529.9 1086.3 L531.8 1086.1 L533.8 1085.8 L535.7 1085.5 L537.6 1085.2 L539.5 1084.8 L541.5 1084.4 L543.4 1084.0 L545.3 1083.6 L547.2 1083.1 L549.1 1082.7 L551.0 1082.2 L553.0 1081.7 L554.9 1081.1 L556.8 1080.6 L558.7 1080.1 L560.6 1079.5 L562.6 1078.9 L564.5 1078.4 L566.4 1077.8 L568.3 1077.2 L570.3 1076.6 L572.2 1076.0 L574.1 1075.4 L576.1 1074.8 L578.0 1074.2 L579.9 1073.6 L581.9 1073.0 L583.8 1072.4 L585.8 1071.9 L587.7 1071.3 L589.7 1070.8 L591.7 1070.2 L593.6 1069.7 L595.6 1069.2 L597.6 1068.7 L599.6 1068.2 L601.5 1067.8 L603.5 1067.4 L605.5 1067.0 L607.5 1066.7 L609.4 1066.4 L611.4 1066.1 L613.4 1065.9 L615.3 1065.7 L617.3 1065.5 L619.3 1065.4 L621.2 1065.4 L623.2 1065.4 L625.1 1065.4 L627.0 1065.5 L629.0 1065.7 L630.9 1065.9 L632.8 1066.2 L634.7 1066.6 L636.6 1067.0 L638.5 1067.5 L640.4 1068.1 L642.2 1068.7 L644.1 1069.4 L645.9 1070.3 L647.8 1071.1 L649.6 1072.1 L651.4 1073.2 L653.2 1074.3 L655.0 1075.6 L656.7 1076.9 L658.5 1078.2 L660.2 1079.6 L661.9 1080.9 L663.7 1082.2 L665.4 1083.5 L667.1 1084.6 L668.8 1085.7 L670.4 1086.7 L672.1 1087.4 L673.8 1088.1 L675.4 1088.5 L677.1 1088.7 L678.7 1088.7 L680.4 1088.4 L682.0 1087.8 L683.7 1087.0 L685.3 1086.0 L686.9 1084.9 L688.4 1083.7 L690.0 1082.5 L691.4 1081.2 L692.9 1079.8 L694.3 1078.5 L695.7 1077.1 L697.0 1075.6 L698.3 1074.2 L699.6 1072.7 L700.8 1071.1 L702.0 1069.6 L703.2 1068.0 L704.3 1066.4 L705.4 1064.8 L706.5 1063.1 L707.6 1061.4 L708.6 1059.7 L709.6 1058.0 L710.6 1056.3 L711.5 1054.5 L712.5 1052.7 L713.4 1051.0 L714.3 1049.2 L715.1 1047.3 L716.0 1045.5 L716.8 1043.7 L717.6 1041.8 L718.4 1040.0 L719.2 1038.1 L720.0 1036.2 L720.7 1034.3 L721.5 1032.4 L722.2 1030.5 L722.9 1028.7 L723.6 1026.8 L724.3 1024.9 L725.0 1023.0 L725.7 1021.1 L726.3 1019.2 L727.0 1017.3 L727.7 1015.4 L728.3 1013.4 L728.9 1011.5 L729.5 1009.6 L730.2 1007.7 L730.8 1005.8 L731.3 1003.9 L731.9 1002.0 L732.5 1000.0 L733.1 998.1 L733.6 996.2 L734.2 994.3 L734.7 992.3 L735.3 990.4 L735.8 988.5 L736.3 986.6 L736.8 984.6 L737.3 982.7 L737.8 980.8 L738.3 978.8 L738.8 976.9 L739.3 974.9 L739.7 973.0 L740.2 971.1 L740.7 969.1 L741.1 967.2 L741.6 965.2 L742.0 963.3 L742.4 961.3 L742.9 959.4 L743.3 957.4 L743.7 955.5 L744.1 953.5 L744.5 951.6 L744.9 949.6 L745.3 947.7 L745.7 945.7 L746.1 943.8 L746.5 941.8 L746.9 939.8 L747.2 937.9 L747.6 935.9 L748.0 934.0 L748.3 932.0 L748.7 930.0 L749.1 928.1 L749.4 926.1 L749.8 924.1 L750.1 922.2 L750.5 920.2 L750.8 918.2 L751.1 916.3 L751.5 914.3 L751.8 912.3 L752.1 910.4 L752.5 908.4 L752.8 906.4 L753.1 904.5 L753.5 902.5 L753.8 900.5 L754.1 898.6 L754.4 896.6 L754.7 894.6 L755.1 892.6 L755.4 890.7 L755.7 888.7 L756.0 886.7 L756.3 884.8 L756.7 882.8 L757.0 880.8 L757.3 878.8 L757.6 876.9 L757.9 874.9 L758.2 872.9 L758.6 870.9 L758.9 869.0 L759.2 867.0 L759.5 865.0 L759.8 863.1 L760.2 861.1 L760.5 859.1 L760.8 857.1 L761.1 855.2 L761.5 853.2 L761.8 851.2 L762.1 849.2 L762.5 847.3 L762.8 845.3 L763.2 843.3 L763.5 841.4 L763.8 839.4 L764.2 837.4 L764.5 835.5 L764.8 833.5 L765.2 831.5 L765.5 829.5 L765.8 827.6 L766.2 825.6 L766.5 823.6 L766.8 821.6 L767.2 819.7 L767.5 817.7 L767.8 815.7 L768.1 813.7 L768.4 811.8 L768.8 809.8 L769.1 807.8 L769.4 805.8 L769.7 803.9 L770.0 801.9 L770.2 799.9 L770.5 797.9 L770.8 795.9 L771.1 794.0 L771.4 792.0 L771.6 790.0 L771.9 788.0 L772.1 786.0 L772.4 784.0 L772.6 782.0 L772.8 780.1 L773.1 778.1 L773.3 776.1 L773.5 774.1 L773.7 772.1 L773.9 770.1 L774.1 768.1 L774.3 766.1 L774.5 764.1 L774.7 762.1 L774.9 760.1 L775.1 758.1 L775.3 756.1 L775.5 754.1 L775.7 752.1 L775.9 750.1 L776.1 748.1 L776.3 746.1 L776.5 744.2 L776.7 742.2 L776.9 740.2 L777.2 738.2 L777.4 736.2 L777.6 734.2 L777.9 732.2 L778.1 730.2 L778.4 728.3 L778.6 726.3 L778.9 724.3 L779.1 722.3 L779.4 720.3 L779.6 718.3 L779.9 716.4 L780.2 714.4 L780.4 712.4 L780.7 710.4 L781.0 708.4 L781.3 706.5 L781.6 704.5 L781.9 702.5 L782.2 700.5 L782.5 698.6 L782.8 696.6 L783.1 694.6 L783.4 692.6 L783.7 690.7 L784.0 688.7 L784.3 686.7 L784.6 684.8 L784.9 682.8 L785.2 680.8 L785.6 678.8 L785.9 676.9 L786.2 674.9 L786.5 672.9 L786.9 671.0 L787.2 669.0 L787.5 667.0 L787.9 665.1 L788.2 663.1 L788.6 661.1 L788.9 659.2 L789.2 657.2 L789.6 655.2 L789.9 653.3 L790.3 651.3 L790.6 649.3 L791.0 647.4 L791.3 645.4 L791.7 643.4 L792.0 641.5 L792.4 639.5 L792.8 637.5 L793.1 635.6 L793.5 633.6 L793.8 631.7 L794.2 629.7 L794.6 627.7 L794.9 625.8 L795.3 623.8 L795.6 621.8 L796.0 619.9 L796.4 617.9 L796.7 615.9 L797.1 614.0 L797.5 612.0 L797.8 610.1 L798.2 608.1 L798.6 606.1 L798.9 604.2 L799.3 602.2 L799.7 600.2 L800.0 598.3 L800.4 596.3 L800.8 594.3 L801.1 592.4 L801.5 590.4 L801.9 588.5 L802.2 586.5 L802.6 584.5 L803.0 582.6 L803.3 580.6 L803.7 578.6 L804.1 576.7 L804.4 574.7 L804.8 572.7 L805.1 570.8 L805.5 568.8 L805.9 566.8 L806.2 564.9 L806.6 562.9 L806.9 560.9 L807.3 558.9 L807.6 557.0 L808.0 555.0 L808.3 553.0 L808.7 551.1 L809.0 549.1 L809.4 547.1 L809.7 545.1 L810.1 543.2 L810.4 541.2 L810.7 539.2 L811.1 537.2 L811.4 535.3 L811.7 533.3 L812.1 531.3 L812.4 529.3 L812.7 527.4 L813.1 525.4 L813.4 523.4 L813.7 521.4 L814.0 519.4 L814.3 517.5 L814.6 515.5 L815.0 513.5 L815.3 511.5 L815.6 509.5 L815.9 507.6 L816.2 505.6 L816.5 503.6 L816.8 501.6 L817.1 499.6 L817.4 497.6 L817.7 495.7 L818.0 493.7 L818.3 491.7 L818.6 489.7 L818.9 487.7 L819.2 485.7 L819.5 483.7 L819.8 481.8 L820.1 479.8 L820.4 477.8 L820.7 475.8 L821.0 473.8 L821.3 471.8 L821.7 469.9 L822.0 467.9 L822.3 465.9 L822.6 463.9 L822.9 461.9 L823.2 459.9 L823.5 458.0 L823.8 456.0 L824.1 454.0 L824.5 452.0 L824.8 450.0 L825.1 448.1 L825.4 446.1 L825.8 444.1 L826.1 442.1 L826.4 440.1 L826.8 438.2 L827.1 436.2 L827.4 434.2 L827.8 432.3 L828.1 430.3 L828.5 428.3 L828.8 426.3 L829.2 424.4 L829.6 422.4 L829.9 420.4 L830.3 418.5 L830.7 416.5 L831.1 414.5 L831.4 412.6 L831.8 410.6 L832.2 408.7 L832.6 406.7 L833.0 404.7 L833.4 402.8 L833.8 400.8 L834.3 398.9 L834.7 396.9 L835.1 395.0 L835.5 393.0 L836.0 391.1 L836.4 389.1 L836.9 387.2 L837.3 385.3 L837.8 383.3 L838.3 381.4 L838.7 379.4 L839.2 377.5 L839.7 375.6 L840.2 373.6 L840.7 371.7 L841.2 369.8 L841.7 367.9 L842.2 365.9 L842.8 364.0 L843.3 362.1 L843.9 360.2 L844.4 358.3 L845.0 356.4 L845.5 354.5 L846.1 352.5 L846.7 350.6 L847.3 348.7 L847.9 346.8 L848.5 344.9 L849.1 343.0 L849.7 341.1 L850.4 339.3 L851.0 337.4 L851.7 335.5 L852.4 333.6 L853.1 331.7 L853.7 329.8 L854.5 328.0 L855.2 326.1 L855.9 324.2 L856.7 322.4 L857.4 320.5 L858.2 318.7 L859.1 316.9 L860.0 315.1 L861.0 313.3 L862.0 311.6 L863.2 310.0 L864.5 308.4 L865.8 306.9 L867.4 305.4 L869.0 304.2 L870.7 303.2 L872.4 302.6 L874.2 302.4 L876.1 302.6 L877.9 303.2 L879.6 304.2 L881.2 305.5 L882.7 306.9 L884.1 308.5 L885.3 310.1 L886.4 311.8 L887.5 313.5 L888.5 315.3 L889.4 317.1 L890.2 318.9 L891.0 320.7 L891.8 322.6 L892.5 324.4 L893.3 326.3 L894.0 328.1 L894.7 330.0 L895.4 331.9 L896.1 333.7 L896.8 335.6 L897.4 337.5 L898.1 339.4 L898.7 341.2 L899.4 343.1 L900.0 345.0 L900.6 346.9 L901.2 348.8 L901.8 350.7 L902.4 352.6 L903.0 354.5 L903.6 356.4 L904.1 358.3 L904.7 360.2 L905.2 362.1 L905.7 364.1 L906.3 366.0 L906.8 367.9 L907.3 369.8 L907.8 371.7 L908.3 373.7 L908.8 375.6 L909.3 377.5 L909.8 379.5 L910.2 381.4 L910.7 383.4 L911.2 385.3 L911.6 387.3 L912.1 389.2 L912.5 391.2 L912.9 393.1 L913.4 395.1 L913.8 397.0 L914.2 399.0 L914.6 400.9 L915.0 402.9 L915.4 404.8 L915.8 406.8 L916.2 408.8 L916.6 410.7 L917.0 412.7 L917.4 414.7 L917.8 416.6 L918.1 418.6 L918.5 420.6 L918.9 422.6 L919.2 424.5 L919.6 426.5 L920.0 428.5 L920.3 430.4 L920.7 432.4 L921.0 434.4 L921.3 436.4 L921.7 438.3 L922.0 440.3 L922.4 442.3 L922.7 444.3 L923.0 446.2 L923.4 448.2 L923.7 450.2 L924.0 452.2 L924.4 454.1 L924.7 456.1 L925.0 458.1 L925.4 460.1 L925.7 462.0 L926.0 464.0 L926.3 466.0 L926.7 468.0 L927.0 469.9 L927.3 471.9 L927.6 473.9 L928.0 475.9 L928.3 477.8 L928.6 479.8 L928.9 481.8 L929.3 483.7 L929.6 485.7 L929.9 487.7 L930.3 489.7 L930.6 491.6 L930.9 493.6 L931.3 495.6 L931.6 497.5 L931.9 499.5 L932.3 501.5 L932.6 503.5 L932.9 505.4 L933.3 507.4 L933.6 509.4 L934.0 511.3 L934.3 513.3 L934.7 515.3 L935.0 517.2 L935.4 519.2 L935.8 521.2 L936.1 523.1 L936.5 525.1 L936.8 527.0 L937.2 529.0 L937.6 531.0 L938.0 532.9 L938.3 534.9 L938.7 536.9 L939.1 538.8 L939.5 540.8 L939.9 542.7 L940.3 544.7 L940.7 546.7 L941.1 548.6 L941.5 550.6 L941.9 552.5 L942.3 554.5 L942.7 556.5 L943.1 558.4 L943.5 560.4 L943.9 562.3 L944.3 564.3 L944.7 566.3 L945.1 568.2 L945.5 570.2 L945.9 572.1 L946.3 574.1 L946.8 576.0 L947.2 578.0 L947.6 580.0 L948.0 581.9 L948.4 583.9 L948.8 585.8 L949.2 587.8 L949.6 589.7 L950.1 591.7 L950.5 593.7 L950.9 595.6 L951.3 597.6 L951.7 599.5 L952.1 601.5 L952.5 603.5 L952.9 605.4 L953.3 607.4 L953.8 609.3 L954.2 611.3 L954.6 613.2 L955.0 615.2 L955.4 617.2 L955.8 619.1 L956.2 621.1 L956.6 623.1 L957.0 625.0 L957.4 627.0 L957.8 628.9 L958.1 630.9 L958.5 632.9 L958.9 634.8 L959.3 636.8 L959.7 638.7 L960.1 640.7 L960.4 642.7 L960.8 644.6 L961.2 646.6 L961.5 648.6 L961.9 650.5 L962.3 652.5 L962.6 654.5 L963.0 656.4 L963.3 658.4 L963.7 660.4 L964.0 662.4 L964.3 664.3 L964.7 666.3 L965.0 668.3 L965.3 670.2 L965.7 672.2 L966.0 674.2 L966.3 676.2 L966.6 678.1 L966.9 680.1 L967.2 682.1 L967.5 684.1 L967.8 686.0 L968.1 688.0 L968.4 690.0 L968.7 692.0 L968.9 694.0 L969.2 695.9 L969.5 697.9 L969.8 699.9 L970.1 701.9 L970.3 703.9 L970.6 705.8 L970.9 707.8 L971.1 709.8 L971.4 711.8 L971.7 713.8 L972.0 715.8 L972.2 717.7 L972.5 719.7 L972.8 721.7 L973.1 723.7 L973.3 725.7 L973.6 727.6 L973.9 729.6 L974.2 731.6 L974.5 733.6 L974.7 735.6 L975.0 737.5 L975.3 739.5 L975.6 741.5 L975.9 743.5 L976.2 745.5 L976.5 747.4 L976.8 749.4 L977.1 751.4 L977.4 753.4 L977.8 755.3 L978.1 757.3 L978.4 759.3 L978.8 761.3 L979.1 763.2 L979.4 765.2 L979.8 767.2 L980.1 769.1 L980.5 771.1 L980.8 773.1 L981.2 775.1 L981.5 777.0 L981.9 779.0 L982.2 781.0 L982.6 782.9 L983.0 784.9 L983.3 786.9 L983.7 788.8 L984.1 790.8 L984.5 792.8 L984.8 794.7 L985.2 796.7 L985.6 798.7 L986.0 800.6 L986.3 802.6 L986.7 804.6 L987.1 806.5 L987.5 808.5 L987.9 810.4 L988.2 812.4 L988.6 814.4 L989.0 816.3 L989.4 818.3 L989.8 820.3 L990.1 822.2 L990.5 824.2 L990.9 826.2 L991.3 828.1 L991.6 830.1 L992.0 832.1 L992.4 834.0 L992.8 836.0 L993.1 838.0 L993.5 839.9 L993.9 841.9 L994.2 843.8 L994.6 845.8 L995.0 847.8 L995.3 849.7 L995.7 851.7 L996.0 853.7 L996.4 855.6 L996.7 857.6 L997.1 859.6 L997.4 861.5 L997.8 863.5 L998.1 865.5 L998.4 867.4 L998.8 869.4 L999.1 871.4 L999.5 873.3 L999.8 875.3 L1000.1 877.3 L1000.5 879.2 L1000.8 881.2 L1001.2 883.2 L1001.6 885.1 L1001.9 887.1 L1002.3 889.1 L1002.7 891.0 L1003.0 893.0 L1003.4 894.9 L1003.8 896.9 L1004.2 898.9 L1004.6 900.8 L1005.0 902.8 L1005.4 904.7 L1005.9 906.7 L1006.3 908.6 L1006.7 910.6 L1007.2 912.5 L1007.7 914.5 L1008.1 916.4 L1008.6 918.4 L1009.1 920.3 L1009.6 922.2 L1010.2 924.2 L1010.7 926.1 L1011.2 928.0 L1011.8 930.0 L1012.4 931.9 L1013.0 933.8 L1013.6 935.8 L1014.2 937.7 L1014.8 939.6 L1015.4 941.5 L1016.0 943.4 L1016.6 945.4 L1017.2 947.3 L1017.8 949.2 L1018.4 951.1 L1019.0 953.0 L1019.5 955.0 L1020.1 956.9 L1020.6 958.8 L1021.2 960.7 L1021.7 962.7 L1022.2 964.6 L1022.7 966.5 L1023.2 968.4 L1023.7 970.4 L1024.2 972.3 L1024.7 974.2 L1025.2 976.1 L1025.7 978.0 L1026.2 980.0 L1026.7 981.9 L1027.2 983.8 L1027.7 985.7 L1028.1 987.6 L1028.6 989.6 L1029.1 991.5 L1029.6 993.4 L1030.1 995.3 L1030.7 997.2 L1031.2 999.1 L1031.7 1001.0 L1032.2 1002.9 L1032.8 1004.8 L1033.3 1006.7 L1033.9 1008.6 L1034.5 1010.5 L1035.0 1012.4 L1035.6 1014.3 L1036.3 1016.2 L1036.9 1018.1 L1037.5 1020.0 L1038.2 1021.9 L1038.8 1023.8 L1039.5 1025.7 L1040.2 1027.5 L1041.0 1029.4 L1041.7 1031.3 L1042.5 1033.2 L1043.3 1035.0 L1044.1 1036.9 L1044.9 1038.7 L1045.7 1040.6 L1046.6 1042.5 L1047.5 1044.3 L1048.4 1046.2 L1049.4 1048.0 L1050.4 1049.8 L1051.4 1051.7 L1052.4 1053.5 L1053.5 1055.3 L1054.5 1057.1 L1055.7 1058.9 L1056.8 1060.7 L1058.0 1062.4 L1059.2 1064.1 L1060.4 1065.8 L1061.6 1067.5 L1062.9 1069.1 L1064.2 1070.7 L1065.6 1072.2 L1066.9 1073.7 L1068.3 1075.1 L1069.7 1076.5 L1071.2 1077.8 L1072.7 1079.1 L1074.2 1080.2 L1075.7 1081.4 L1077.3 1082.4 L1078.9 1083.4 L1080.5 1084.3 L1082.1 1085.1 L1083.8 1085.9 L1085.5 1086.5 L1087.2 1087.1 L1089.0 1087.5 L1090.8 1087.9 L1092.6 1088.1 L1094.4 1088.3 L1096.3 1088.3 L1098.2 1088.3 L1100.1 1088.1 L1102.0 1087.9 L1104.0 1087.5 L1106.0 1087.0 L1107.9 1086.5 L1109.9 1085.9 L1111.9 1085.2 L1113.9 1084.5 L1115.8 1083.6 L1117.8 1082.7 L1119.7 1081.8 L1121.6 1080.8 L1123.5 1079.8 L1125.4 1078.7 L1127.2 1077.6 L1129.0 1076.4 L1130.7 1075.3 L1132.4 1074.1 L1134.1 1072.9 L1135.7 1071.6 L1137.3 1070.4 L1138.8 1069.1 L1140.4 1067.9 L1141.9 1066.6 L1143.3 1065.3 L1144.8 1064.0 L1146.3 1062.7 L1147.7 1061.4 L1149.1 1060.1 L1150.6 1058.8 L1152.0 1057.5 L1153.4 1056.2 L1154.8 1054.9 L1156.3 1053.6 L1157.7 1052.3 L1159.2 1051.0 L1160.7 1049.8 L1162.2 1048.5 L1163.8 1047.3 L1165.3 1046.1 L1166.9 1044.9 L1168.5 1043.7 L1170.1 1042.5 L1171.8 1041.4 L1173.4 1040.3 L1175.1 1039.1 L1176.8 1038.1 L1178.5 1037.0 L1180.2 1035.9 L1182.0 1034.9 L1183.7 1033.9 L1185.5 1032.9 L1187.3 1031.9 L1189.1 1031.0 L1190.9 1030.0 L1192.7 1029.1 L1194.5 1028.2 L1196.4 1027.4 L1198.2 1026.6 L1200.1 1025.8 L1202.0 1025.0 L1203.9 1024.2 L1205.8 1023.5 L1207.7 1022.8 L1209.6 1022.1 L1211.5 1021.5 L1213.4 1020.9 L1215.4 1020.3 L1217.3 1019.7 L1219.2 1019.2 L1221.2 1018.7 L1223.2 1018.3 L1225.1 1017.8 L1227.1 1017.4 L1229.0 1017.1 L1231.0 1016.7 L1233.0 1016.4 L1235.0 1016.2 L1236.9 1016.0 L1238.9 1015.8 L1240.9 1015.6 L1242.8 1015.5 L1244.8 1015.4 L1246.8 1015.4 L1248.8 1015.4 L1250.7 1015.4 L1252.7 1015.4 L1254.7 1015.5 L1256.7 1015.6 L1258.6 1015.7 L1260.6 1015.8 L1262.6 1016.0 L1264.6 1016.1 L1266.5 1016.3 L1268.5 1016.5 L1270.5 1016.7 L1272.5 1017.0 L1274.4 1017.2 L1276.4 1017.4 L1278.4 1017.7 L1280.4 1017.9 L1282.4 1018.2 L1284.3 1018.5 L1286.3 1018.7 L1288.3 1019.0 L1290.3 1019.2 L1292.3 1019.5 L1294.3 1019.7 L1296.3 1020.0 L1298.3 1020.2 L1300.3 1020.4 L1302.3 1020.6 L1304.3 1020.8 L1306.3 1021.0 L1308.3 1021.2 L1310.3 1021.4 L1312.3 1021.6 L1314.3 1021.8 L1316.3 1021.9 L1318.3 1022.1 L1320.3 1022.2 L1322.3 1022.3 L1324.3 1022.5 L1326.3 1022.6 L1328.3 1022.7 L1330.3 1022.8 L1332.3 1022.9 L1334.3 1022.9 L1336.3 1023.0 L1338.4 1023.1 L1340.4 1023.1 L1342.4 1023.1 L1344.4 1023.2 L1346.4 1023.2 L1348.4 1023.2 L1350.4 1023.1 L1352.4 1023.1 L1354.4 1023.1 L1356.4 1023.0 L1358.4 1023.0 L1360.4 1022.9 L1362.4 1022.8 L1364.4 1022.7 L1366.4 1022.7 L1368.4 1022.5 L1370.4 1022.4 L1372.3 1022.3 L1374.3 1022.2 L1376.3 1022.0 L1378.3 1021.9 L1380.3 1021.7 L1382.3 1021.6 L1384.3 1021.4 L1386.3 1021.2 L1388.3 1021.0 L1390.3 1020.8 L1392.3 1020.6 L1394.2 1020.4 L1396.2 1020.2 L1398.2 1020.0 L1400.2 1019.8 L1402.2 1019.6 L1404.2 1019.4 L1406.2 1019.1 L1408.2 1018.9 L1410.1 1018.7 L1412.1 1018.5 L1414.1 1018.2 L1416.1 1018.0 L1418.1 1017.7 L1420.1 1017.5 L1422.1 1017.3 L1424.1 1017.0 L1426.0 1016.8 L1428.0 1016.5 L1430.0 1016.3 L1432.0 1016.0 L1434.0 1015.8 L1436.0 1015.5 L1438.0 1015.3 L1439.9 1015.1 L1441.9 1014.8 L1443.9 1014.6 L1445.9 1014.4 L1447.9 1014.1 L1449.9 1013.9 L1451.9 1013.7 L1453.9 1013.5 L1455.8 1013.3 L1457.8 1013.0 L1459.8 1012.8 L1461.8 1012.6 L1463.8 1012.4 L1465.8 1012.3 L1467.8 1012.1 L1469.8 1011.9 L1471.8 1011.7 L1473.8 1011.6 L1475.8 1011.4 L1477.8 1011.3 L1479.8 1011.1 L1481.8 1011.0 L1483.8 1010.9 L1485.8 1010.7 L1487.8 1010.6 L1489.7 1010.5 L1491.7 1010.4 L1493.7 1010.4 L1495.8 1010.3 L1497.8 1010.2 L1499.8 1010.2 L1501.8 1010.1 L1503.8 1010.1 L1505.8 1010.1 L1507.8 1010.0 L1509.8 1010.0 L1511.8 1010.0 L1513.8 1010.0 L1515.8 1010.1 L1517.8 1010.1 L1519.8 1010.1 L1521.8 1010.2 L1523.8 1010.2 L1525.8 1010.3 L1527.8 1010.4 L1529.8 1010.4 L1531.8 1010.5 L1533.8 1010.6 L1535.8 1010.7 L1537.8 1010.9 L1539.8 1011.0 L1541.8 1011.1 L1543.7 1011.3 L1545.7 1011.4 L1547.7 1011.6 L1549.7 1011.8 L1551.7 1012.0 L1553.7 1012.2 L1555.7 1012.4 L1557.7 1012.6 L1559.7 1012.8 L1561.6 1013.0 L1563.6 1013.3 L1565.6 1013.6 L1567.6 1013.8 L1569.5 1014.1 L1571.5 1014.4 L1573.5 1014.7 L1575.5 1015.0 L1577.4 1015.3 L1579.4 1015.6 L1581.4 1016.0 L1583.3 1016.3 L1585.3 1016.7 L1587.2 1017.0 L1589.2 1017.4 L1591.1 1017.8 L1593.1 1018.2 L1595.0 1018.6 L1597.0 1019.0 L1598.9 1019.5 L1600.9 1019.9 L1602.8 1020.3 L1604.8 1020.8 L1606.7 1021.2 L1608.6 1021.7 L1610.6 1022.2 L1612.5 1022.7 L1614.4 1023.2 L1616.4 1023.7 L1618.3 1024.2 L1620.2 1024.7 L1622.1 1025.2 L1624.1 1025.7 L1626.0 1026.2 L1627.9 1026.8 L1629.8 1027.3 L1631.8 1027.8 L1633.7 1028.4 L1635.6 1028.9 L1637.5 1029.5 L1639.4 1030.0 L1641.4 1030.6 L1643.3 1031.2 L1645.2 1031.8 L1647.1 1032.3 L1649.0 1032.9 L1650.9 1033.5 L1652.8 1034.1 L1654.8 1034.7 L1656.7 1035.2 L1658.6 1035.8 L1660.5 1036.4 L1662.4 1037.0 L1664.3 1037.6 L1666.2 1038.2 L1668.1 1038.8 L1670.1 1039.4 L1672.0 1040.0 L1673.9 1040.6 L1675.8 1041.2 L1677.7 1041.8 L1679.6 1042.4 L1681.5 1043.0 L1683.4 1043.6 L1685.4 1044.2 L1687.3 1044.7 L1689.2 1045.3 L1691.1 1045.9 L1693.0 1046.5 L1695.0 1047.1 L1696.9 1047.7 L1698.8 1048.3 L1700.7 1048.8 L1702.6 1049.4 L1704.6 1050.0 L1706.5 1050.5 L1708.4 1051.1 L1710.3 1051.7 L1712.3 1052.2 L1714.2 1052.8 L1716.1 1053.3 L1718.1 1053.8 L1720.0 1054.4 L1721.9 1054.9 L1723.9 1055.4 L1725.8 1055.9 L1727.7 1056.5 L1729.7 1057.0 L1731.6 1057.5 L1733.6 1058.0 L1735.5 1058.5 L1737.5 1059.0 L1739.4 1059.4 L1741.4 1059.9 L1743.3 1060.4 L1745.3 1060.9 L1747.2 1061.3 L1749.2 1061.8 L1751.1 1062.2 L1753.1 1062.7 L1755.0 1063.1 L1757.0 1063.6 L1758.9 1064.0 L1760.9 1064.4 L1762.9 1064.8 L1764.8 1065.3 L1766.8 1065.7 L1768.7 1066.1 L1770.7 1066.5 L1772.7 1066.9 L1774.6 1067.3 L1776.6 1067.6 L1778.6 1068.0 L1780.5 1068.4 L1782.5 1068.8 L1784.5 1069.1 L1786.4 1069.5 L1788.4 1069.8 L1790.4 1070.2 L1792.4 1070.5 L1794.3 1070.9 L1796.3 1071.2 L1798.3 1071.5 L1800.3 1071.8 L1802.2 1072.1 L1804.2 1072.4 L1806.2 1072.7 L1808.2 1073.0 L1810.2 1073.3 L1812.1 1073.6 L1814.1 1073.9 L1816.1 1074.2 L1818.1 1074.4 L1820.1 1074.7 L1822.0 1074.9 L1824.0 1075.2 L1826.0 1075.4 L1828.0 1075.7 L1830.0 1075.9 L1832.0 1076.1 L1834.0 1076.3 L1835.9 1076.5 L1837.9 1076.7 L1839.9 1076.9 L1841.9 1077.1 L1843.9 1077.3 L1845.9 1077.5 L1847.9 1077.7 L1849.9 1077.8 L1851.8 1078.0 L1853.8 1078.2 L1855.8 1078.3 L1857.8 1078.5 L1859.8 1078.6 L1861.8 1078.7 L1863.8 1078.9 L1865.8 1079.0 L1867.8 1079.1 L1869.8 1079.2 L1871.8 1079.3 L1873.7 1079.4 L1875.7 1079.5 L1877.7 1079.6 L1879.7 1079.7 L1881.7 1079.8 L1883.7 1079.8 L1885.7 1079.9 L1887.7 1080.0 L1889.7 1080.0 L1891.7 1080.1 L1893.7 1080.1 L1895.7 1080.2 L1897.7 1080.2 L1899.7 1080.3 L1901.7 1080.3 L1903.7 1080.4 L1905.7 1080.4 L1907.7 1080.4 L1909.7 1080.4 L1911.7 1080.5 L1913.7 1080.5 L1915.6 1080.5 L1917.6 1080.5 L1919.6 1080.5 L1921.6 1080.5 L1923.6 1080.5 L1925.6 1080.5 L1927.6 1080.5 L1929.6 1080.5 L1931.6 1080.5 L1933.6 1080.5 L1935.6 1080.5 L1937.6 1080.5 L1939.6 1080.5 L1941.6 1080.5 L1943.6 1080.4 L1945.6 1080.4 L1947.6 1080.4 L1949.6 1080.4 L1951.6 1080.4 L1953.6 1080.3 L1955.6 1080.3 L1957.6 1080.3 L1959.6 1080.2 L1961.6 1080.2 L1963.6 1080.2 L1965.6 1080.2 L1967.6 1080.1 L1969.6 1080.1 L1971.6 1080.1 L1973.6 1080.0 L1975.6 1080.0 L1977.6 1080.0 L1979.6 1079.9 L1981.6 1079.9 L1983.6 1079.9 L1985.6 1079.8 L1987.6 1079.8 L1989.6 1079.8 L1991.6 1079.7 L1993.6 1079.7 L1995.6 1079.7 L1997.6 1079.6 L1999.6 1079.6 L2001.6 1079.6 L2003.6 1079.6 L2005.6 1079.5 L2007.6 1079.5 L2009.6 1079.5 L2011.6 1079.5 L2013.6 1079.4 L2015.6 1079.4 L2017.6 1079.4 L2019.6 1079.4 L2021.6 1079.4 L2023.6 1079.4 L2025.6 1079.3 L2027.6 1079.3 L2029.6 1079.3 L2031.6 1079.3 L2033.6 1079.3 L2035.6 1079.3 L2037.6 1079.3 L2039.6 1079.3 L2041.6 1079.3 L2043.6 1079.2 L2045.6 1079.2 L2047.6 1079.2 L2049.6 1079.2 L2051.6 1079.2 L2053.6 1079.2 L2055.6 1079.2 L2057.6 1079.2 L2059.6 1079.2 L2061.6 1079.2 L2063.6 1079.2 L2065.6 1079.2 L2067.6 1079.2 L2069.6 1079.2 L2071.6 1079.2 L2073.6 1079.2 L2075.6 1079.2 L2077.6 1079.2 L2079.6 1079.2 L2081.6 1079.3 L2083.6 1079.3 L2085.6 1079.3 L2087.6 1079.3 L2089.6 1079.3 L2091.6 1079.3 L2093.6 1079.3 L2095.6 1079.3 L2097.6 1079.3 L2099.6 1079.3 L2101.6 1079.3 L2103.6 1079.4 L2105.6 1079.4 L2107.6 1079.4 L2109.6 1079.4 L2111.6 1079.4 L2113.6 1079.4 L2115.6 1079.4 L2117.6 1079.5 L2119.6 1079.5 L2121.6 1079.5 L2123.6 1079.5 L2125.6 1079.5 L2127.6 1079.5 L2129.6 1079.6 L2131.6 1079.6 L2133.6 1079.6 L2135.6 1079.6 L2137.6 1079.6 L2139.6 1079.7 L2141.6 1079.7 L2143.6 1079.7 L2145.6 1079.7 L2147.6 1079.7 L2149.6 1079.8 L2151.6 1079.8 L2153.6 1079.8 L2155.6 1079.8 L2157.6 1079.8 L2159.6 1079.9 L2161.6 1079.9 L2163.6 1079.9 L2165.6 1079.9 L2167.6 1079.9 L2169.6 1080.0 L2171.6 1080.0 L2173.6 1080.0 L2175.6 1080.0 L2177.6 1080.1 L2179.6 1080.1 L2181.6 1080.1 L2183.6 1080.1 L2185.6 1080.1 L2187.6 1080.2 L2189.6 1080.2 L2191.6 1080.2 L2193.6 1080.2 L2195.6 1080.3 L2197.6 1080.3 L2199.6 1080.3 L2201.6 1080.3 L2203.6 1080.4 L2205.6 1080.4 L2207.6 1080.4 L2209.6 1080.4 L2211.6 1080.4 L2213.6 1080.5 L2215.6 1080.5 L2217.6 1080.5 L2219.6 1080.5 L2221.6 1080.5 L2223.6 1080.6 L2225.6 1080.6 L2227.6 1080.6 L2229.6 1080.6 L2231.6 1080.7 L2233.6 1080.7 L2235.6 1080.7 L2237.6 1080.7 L2239.6 1080.7 L2241.6 1080.7 L2243.6 1080.8 L2245.6 1080.8 L2247.6 1080.8 L2249.6 1080.8 L2251.6 1080.8 L2253.6 1080.9 L2255.6 1080.9 L2257.6 1080.9 L2259.6 1080.9 L2261.6 1080.9 L2263.6 1080.9 L2265.6 1080.9 L2267.6 1081.0 L2269.6 1081.0 L2271.6 1081.0 L2273.6 1081.0 L2275.6 1081.0 L2277.6 1081.0 L2279.5 1081.0" stroke="#e4423e"/>
<path d="M377.6 1088.2 L379.6 1087.8 L381.6 1087.5 L383.5 1087.2 L385.5 1086.9 L387.5 1086.6 L389.5 1086.3 L391.5 1086.1 L393.4 1085.9 L395.4 1085.7 L397.4 1085.6 L399.4 1085.4 L401.4 1085.3 L403.4 1085.2 L405.4 1085.1 L407.4 1085.0 L409.4 1085.0 L411.4 1084.9 L413.4 1084.9 L415.4 1084.9 L417.4 1084.9 L419.4 1084.9 L421.4 1085.0 L423.4 1085.0 L425.4 1085.1 L427.4 1085.1 L429.4 1085.2 L431.4 1085.3 L433.4 1085.4 L435.4 1085.5 L437.4 1085.7 L439.4 1085.8 L441.5 1085.9 L443.5 1086.1 L445.5 1086.2 L447.5 1086.4 L449.5 1086.5 L451.5 1086.7 L453.5 1086.9 L455.5 1087.0 L457.6 1087.2 L459.6 1087.4 L461.6 1087.6 L463.6 1087.7 L465.6 1087.9 L467.6 1088.1 L469.6 1088.3 L471.6 1088.4 L473.7 1088.6 L475.7 1088.8 L477.7 1088.9 L479.7 1089.1 L481.7 1089.2 L483.7 1089.4 L485.7 1089.5 L487.7 1089.7 L489.7 1089.8 L491.8 1089.9 L493.8 1090.0 L495.8 1090.1 L497.8 1090.2 L499.8 1090.3 L501.8 1090.4 L503.8 1090.4 L505.8 1090.4 L507.8 1090.5 L509.8 1090.5 L511.8 1090.5 L513.8 1090.5 L515.8 1090.5 L517.8 1090.4 L519.8 1090.3 L521.8 1090.3 L523.8 1090.2 L525.7 1090.1 L527.7 1089.9 L529.7 1089.8 L531.7 1089.6 L533.7 1089.4 L535.7 1089.2 L537.6 1088.9 L539.6 1088.7 L541.6 1088.4 L543.6 1088.1 L545.5 1087.7 L547.5 1087.4 L549.5 1087.0 L551.4 1086.6 L553.4 1086.1 L555.4 1085.7 L557.3 1085.2 L559.3 1084.7 L561.2 1084.1 L563.2 1083.6 L565.1 1083.1 L567.1 1082.5 L569.1 1081.9 L571.0 1081.4 L572.9 1080.8 L574.9 1080.2 L576.8 1079.6 L578.8 1079.1 L580.7 1078.5 L582.7 1077.9 L584.6 1077.4 L586.6 1076.8 L588.5 1076.3 L590.5 1075.8 L592.4 1075.3 L594.4 1074.8 L596.3 1074.3 L598.3 1073.9 L600.2 1073.5 L602.2 1073.1 L604.1 1072.8 L606.1 1072.4 L608.0 1072.2 L610.0 1071.9 L611.9 1071.7 L613.9 1071.5 L615.9 1071.4 L617.8 1071.3 L619.8 1071.3 L621.8 1071.3 L623.7 1071.4 L625.7 1071.5 L627.7 1071.7 L629.7 1071.9 L631.6 1072.2 L633.6 1072.5 L635.6 1072.8 L637.6 1073.2 L639.6 1073.6 L641.5 1074.0 L643.5 1074.4 L645.5 1074.8 L647.5 1075.3 L649.5 1075.7 L651.5 1076.2 L653.4 1076.6 L655.4 1077.1 L657.4 1077.5 L659.4 1077.9 L661.3 1078.2 L663.3 1078.6 L665.3 1078.9 L667.2 1079.1 L669.2 1079.4 L671.2 1079.5 L673.1 1079.6 L675.1 1079.7 L677.0 1079.7 L678.9 1079.6 L680.9 1079.5 L682.8 1079.3 L684.7 1079.0 L686.6 1078.6 L688.5 1078.2 L690.4 1077.7 L692.2 1077.1 L694.0 1076.4 L695.7 1075.7 L697.5 1074.9 L699.1 1074.0 L700.8 1073.1 L702.3 1072.1 L703.9 1071.0 L705.4 1069.9 L706.8 1068.7 L708.2 1067.5 L709.6 1066.1 L710.9 1064.8 L712.2 1063.4 L713.4 1061.9 L714.7 1060.4 L715.8 1058.8 L717.0 1057.2 L718.1 1055.6 L719.2 1053.9 L720.2 1052.2 L721.2 1050.4 L722.2 1048.6 L723.2 1046.8 L724.1 1045.0 L725.0 1043.1 L725.9 1041.2 L726.7 1039.3 L727.6 1037.4 L728.4 1035.4 L729.2 1033.4 L729.9 1031.5 L730.7 1029.5 L731.4 1027.5 L732.1 1025.5 L732.8 1023.5 L733.5 1021.5 L734.2 1019.5 L734.9 1017.5 L735.5 1015.5 L736.1 1013.5 L736.8 1011.5 L737.4 1009.5 L738.0 1007.5 L738.6 1005.6 L739.1 1003.6 L739.7 1001.6 L740.3 999.7 L740.8 997.7 L741.4 995.8 L741.9 993.8 L742.4 991.9 L743.0 990.0 L743.5 988.0 L744.0 986.1 L744.5 984.2 L745.0 982.2 L745.5 980.3 L745.9 978.4 L746.4 976.5 L746.9 974.5 L747.4 972.6 L747.8 970.7 L748.3 968.8 L748.7 966.9 L749.2 965.0 L749.6 963.0 L750.0 961.1 L750.5 959.2 L750.9 957.3 L751.3 955.4 L751.7 953.4 L752.2 951.5 L752.6 949.6 L753.0 947.7 L753.4 945.7 L753.8 943.8 L754.2 941.9 L754.6 939.9 L755.1 938.0 L755.5 936.1 L755.9 934.1 L756.3 932.2 L756.7 930.3 L757.0 928.3 L757.4 926.4 L757.8 924.4 L758.2 922.5 L758.6 920.5 L759.0 918.6 L759.4 916.6 L759.7 914.7 L760.1 912.7 L760.5 910.8 L760.9 908.8 L761.2 906.9 L761.6 904.9 L762.0 903.0 L762.4 901.0 L762.7 899.1 L763.1 897.1 L763.4 895.1 L763.8 893.2 L764.2 891.2 L764.5 889.3 L764.9 887.3 L765.2 885.3 L765.6 883.4 L765.9 881.4 L766.3 879.4 L766.6 877.5 L767.0 875.5 L767.3 873.5 L767.7 871.6 L768.0 869.6 L768.4 867.6 L768.7 865.7 L769.0 863.7 L769.4 861.7 L769.7 859.7 L770.1 857.8 L770.4 855.8 L770.7 853.8 L771.1 851.9 L771.4 849.9 L771.7 847.9 L772.0 845.9 L772.4 844.0 L772.7 842.0 L773.0 840.0 L773.4 838.0 L773.7 836.0 L774.0 834.1 L774.3 832.1 L774.7 830.1 L775.0 828.1 L775.3 826.1 L775.6 824.2 L776.0 822.2 L776.3 820.2 L776.6 818.2 L776.9 816.2 L777.2 814.3 L777.6 812.3 L777.9 810.3 L778.2 808.3 L778.5 806.3 L778.8 804.4 L779.1 802.4 L779.5 800.4 L779.8 798.4 L780.1 796.4 L780.4 794.5 L780.7 792.5 L781.0 790.5 L781.4 788.5 L781.7 786.5 L782.0 784.6 L782.3 782.6 L782.6 780.6 L782.9 778.6 L783.3 776.6 L783.6 774.7 L783.9 772.7 L784.2 770.7 L784.5 768.7 L784.9 766.7 L785.2 764.8 L785.5 762.8 L785.8 760.8 L786.1 758.8 L786.4 756.8 L786.8 754.9 L787.1 752.9 L787.4 750.9 L787.7 748.9 L788.0 747.0 L788.4 745.0 L788.7 743.0 L789.0 741.0 L789.3 739.1 L789.6 737.1 L790.0 735.1 L790.3 733.1 L790.6 731.2 L790.9 729.2 L791.3 727.2 L791.6 725.2 L791.9 723.3 L792.2 721.3 L792.6 719.3 L792.9 717.3 L793.2 715.4 L793.6 713.4 L793.9 711.4 L794.2 709.4 L794.5 707.5 L794.9 705.5 L795.2 703.5 L795.5 701.6 L795.9 699.6 L796.2 697.6 L796.5 695.6 L796.9 693.7 L797.2 691.7 L797.5 689.7 L797.9 687.8 L798.2 685.8 L798.6 683.8 L798.9 681.9 L799.2 679.9 L799.6 677.9 L799.9 676.0 L800.3 674.0 L800.6 672.0 L800.9 670.0 L801.3 668.1 L801.6 666.1 L802.0 664.1 L802.3 662.2 L802.7 660.2 L803.0 658.2 L803.4 656.3 L803.7 654.3 L804.1 652.4 L804.4 650.4 L804.8 648.4 L805.2 646.5 L805.5 644.5 L805.9 642.5 L806.2 640.6 L806.6 638.6 L807.0 636.6 L807.3 634.7 L807.7 632.7 L808.1 630.7 L808.4 628.8 L808.8 626.8 L809.2 624.9 L809.5 622.9 L809.9 620.9 L810.3 619.0 L810.6 617.0 L811.0 615.1 L811.4 613.1 L811.8 611.1 L812.2 609.2 L812.5 607.2 L812.9 605.2 L813.3 603.3 L813.7 601.3 L814.1 599.4 L814.5 597.4 L814.9 595.5 L815.3 593.5 L815.6 591.5 L816.0 589.6 L816.4 587.6 L816.8 585.7 L817.2 583.7 L817.6 581.8 L818.0 579.8 L818.4 577.8 L818.8 575.9 L819.3 573.9 L819.7 572.0 L820.1 570.0 L820.5 568.1 L820.9 566.1 L821.3 564.2 L821.7 562.2 L822.2 560.2 L822.6 558.3 L823.0 556.3 L823.4 554.4 L823.9 552.4 L824.3 550.5 L824.7 548.5 L825.1 546.6 L825.6 544.6 L826.0 542.7 L826.4 540.7 L826.9 538.8 L827.3 536.8 L827.8 534.9 L828.2 532.9 L828.7 531.0 L829.1 529.0 L829.6 527.1 L830.0 525.1 L830.5 523.2 L830.9 521.2 L831.4 519.3 L831.8 517.3 L832.3 515.4 L832.8 513.4 L833.2 511.5 L833.7 509.5 L834.2 507.6 L834.7 505.6 L835.1 503.7 L835.6 501.7 L836.1 499.8 L836.6 497.9 L837.1 495.9 L837.6 494.0 L838.0 492.0 L838.5 490.1 L839.0 488.1 L839.5 486.2 L840.0 484.2 L840.5 482.3 L841.0 480.4 L841.6 478.4 L842.1 476.5 L842.6 474.6 L843.2 472.6 L843.7 470.7 L844.3 468.8 L844.9 466.9 L845.5 465.0 L846.2 463.1 L846.8 461.2 L847.5 459.3 L848.2 457.5 L848.9 455.6 L849.7 453.8 L850.5 451.9 L851.3 450.1 L852.1 448.3 L853.0 446.5 L854.0 444.7 L854.9 443.0 L855.9 441.2 L856.9 439.5 L858.0 437.7 L859.2 436.0 L860.3 434.4 L861.6 432.7 L862.9 431.2 L864.3 429.8 L865.9 428.7 L867.7 427.8 L869.5 427.2 L871.5 427.0 L873.4 427.1 L875.3 427.6 L877.0 428.5 L878.7 429.6 L880.2 431.0 L881.6 432.4 L883.0 434.0 L884.2 435.6 L885.3 437.3 L886.3 439.0 L887.3 440.7 L888.2 442.5 L889.1 444.3 L890.0 446.2 L890.9 448.0 L891.7 449.8 L892.5 451.6 L893.3 453.5 L894.1 455.3 L894.9 457.2 L895.7 459.0 L896.4 460.9 L897.1 462.8 L897.9 464.6 L898.6 466.5 L899.3 468.4 L899.9 470.2 L900.6 472.1 L901.3 474.0 L901.9 475.9 L902.6 477.8 L903.2 479.7 L903.8 481.6 L904.4 483.5 L905.0 485.4 L905.6 487.3 L906.2 489.2 L906.7 491.1 L907.3 493.0 L907.9 494.9 L908.4 496.9 L908.9 498.8 L909.5 500.7 L910.0 502.6 L910.5 504.6 L911.0 506.5 L911.6 508.4 L912.1 510.4 L912.6 512.3 L913.1 514.2 L913.5 516.2 L914.0 518.1 L914.5 520.0 L915.0 522.0 L915.5 523.9 L916.0 525.8 L916.4 527.8 L916.9 529.7 L917.4 531.7 L917.9 533.6 L918.3 535.6 L918.8 537.5 L919.2 539.4 L919.7 541.4 L920.2 543.3 L920.6 545.3 L921.1 547.2 L921.5 549.2 L922.0 551.1 L922.4 553.1 L922.9 555.0 L923.3 556.9 L923.8 558.9 L924.2 560.8 L924.7 562.8 L925.1 564.7 L925.6 566.7 L926.0 568.6 L926.4 570.6 L926.9 572.5 L927.3 574.5 L927.7 576.4 L928.2 578.4 L928.6 580.3 L929.0 582.3 L929.4 584.3 L929.9 586.2 L930.3 588.2 L930.7 590.1 L931.1 592.1 L931.6 594.0 L932.0 596.0 L932.4 597.9 L932.8 599.9 L933.2 601.8 L933.6 603.8 L934.0 605.8 L934.5 607.7 L934.9 609.7 L935.3 611.6 L935.7 613.6 L936.1 615.6 L936.5 617.5 L936.9 619.5 L937.3 621.4 L937.7 623.4 L938.1 625.3 L938.5 627.3 L938.9 629.3 L939.3 631.2 L939.7 633.2 L940.1 635.1 L940.5 637.1 L940.9 639.1 L941.3 641.0 L941.7 643.0 L942.1 645.0 L942.5 646.9 L942.8 648.9 L943.2 650.8 L943.6 652.8 L944.0 654.8 L944.4 656.7 L944.8 658.7 L945.2 660.7 L945.6 662.6 L945.9 664.6 L946.3 666.6 L946.7 668.5 L947.1 670.5 L947.5 672.4 L947.9 674.4 L948.2 676.4 L948.6 678.3 L949.0 680.3 L949.4 682.3 L949.8 684.2 L950.1 686.2 L950.5 688.2 L950.9 690.1 L951.3 692.1 L951.7 694.1 L952.0 696.0 L952.4 698.0 L952.8 700.0 L953.2 701.9 L953.6 703.9 L953.9 705.8 L954.3 707.8 L954.7 709.8 L955.1 711.7 L955.4 713.7 L955.8 715.7 L956.2 717.6 L956.6 719.6 L956.9 721.6 L957.3 723.5 L957.7 725.5 L958.1 727.5 L958.5 729.4 L958.8 731.4 L959.2 733.4 L959.6 735.3 L960.0 737.3 L960.3 739.3 L960.7 741.2 L961.1 743.2 L961.5 745.2 L961.9 747.1 L962.2 749.1 L962.6 751.0 L963.0 753.0 L963.4 755.0 L963.8 756.9 L964.1 758.9 L964.5 760.9 L964.9 762.8 L965.3 764.8 L965.7 766.8 L966.0 768.7 L966.4 770.7 L966.8 772.7 L967.2 774.6 L967.6 776.6 L968.0 778.5 L968.3 780.5 L968.7 782.5 L969.1 784.4 L969.5 786.4 L969.9 788.4 L970.3 790.3 L970.7 792.3 L971.1 794.2 L971.5 796.2 L971.8 798.2 L972.2 800.1 L972.6 802.1 L973.0 804.0 L973.4 806.0 L973.8 808.0 L974.2 809.9 L974.6 811.9 L975.0 813.8 L975.4 815.8 L975.8 817.8 L976.2 819.7 L976.6 821.7 L977.0 823.6 L977.4 825.6 L977.8 827.5 L978.2 829.5 L978.6 831.4 L979.1 833.4 L979.5 835.4 L979.9 837.3 L980.3 839.3 L980.7 841.2 L981.1 843.2 L981.5 845.1 L982.0 847.1 L982.4 849.0 L982.8 851.0 L983.2 852.9 L983.6 854.9 L984.1 856.8 L984.5 858.8 L984.9 860.8 L985.3 862.7 L985.8 864.7 L986.2 866.6 L986.6 868.6 L987.1 870.5 L987.5 872.4 L988.0 874.4 L988.4 876.3 L988.8 878.3 L989.3 880.2 L989.7 882.2 L990.2 884.1 L990.6 886.1 L991.1 888.0 L991.5 890.0 L992.0 891.9 L992.5 893.9 L992.9 895.8 L993.4 897.7 L993.8 899.7 L994.3 901.6 L994.8 903.6 L995.2 905.5 L995.7 907.5 L996.2 909.4 L996.7 911.3 L997.1 913.3 L997.6 915.2 L998.1 917.2 L998.6 919.1 L999.1 921.0 L999.6 923.0 L1000.1 924.9 L1000.5 926.9 L1001.0 928.8 L1001.5 930.7 L1002.0 932.7 L1002.6 934.6 L1003.1 936.5 L1003.6 938.5 L1004.1 940.4 L1004.6 942.3 L1005.1 944.3 L1005.6 946.2 L1006.2 948.1 L1006.7 950.1 L1007.2 952.0 L1007.7 953.9 L1008.3 955.9 L1008.8 957.8 L1009.3 959.7 L1009.9 961.7 L1010.4 963.6 L1011.0 965.5 L1011.5 967.5 L1012.1 969.4 L1012.6 971.3 L1013.2 973.2 L1013.8 975.2 L1014.3 977.1 L1014.9 979.0 L1015.5 980.9 L1016.0 982.9 L1016.6 984.8 L1017.2 986.7 L1017.8 988.6 L1018.4 990.6 L1019.0 992.5 L1019.6 994.4 L1020.2 996.3 L1020.8 998.2 L1021.4 1000.1 L1022.0 1002.0 L1022.7 1003.9 L1023.3 1005.8 L1024.0 1007.7 L1024.6 1009.6 L1025.3 1011.5 L1026.0 1013.4 L1026.7 1015.3 L1027.4 1017.1 L1028.1 1019.0 L1028.8 1020.9 L1029.6 1022.7 L1030.3 1024.6 L1031.1 1026.4 L1031.9 1028.2 L1032.7 1030.1 L1033.5 1031.9 L1034.3 1033.7 L1035.2 1035.5 L1036.1 1037.3 L1037.0 1039.0 L1037.9 1040.8 L1038.8 1042.6 L1039.7 1044.3 L1040.7 1046.1 L1041.7 1047.8 L1042.7 1049.5 L1043.7 1051.2 L1044.7 1052.9 L1045.8 1054.6 L1046.9 1056.3 L1048.0 1057.9 L1049.2 1059.6 L1050.3 1061.2 L1051.5 1062.8 L1052.7 1064.4 L1054.0 1066.0 L1055.2 1067.6 L1056.5 1069.2 L1057.9 1070.7 L1059.2 1072.2 L1060.6 1073.8 L1062.0 1075.3 L1063.4 1076.7 L1064.9 1078.2 L1066.4 1079.5 L1068.0 1080.8 L1069.5 1082.1 L1071.2 1083.2 L1072.8 1084.3 L1074.5 1085.2 L1076.3 1086.1 L1078.1 1086.7 L1079.9 1087.3 L1081.8 1087.6 L1083.7 1087.9 L1085.7 1087.9 L1087.7 1087.8 L1089.8 1087.6 L1091.8 1087.2 L1093.9 1086.8 L1096.0 1086.3 L1098.0 1085.7 L1100.1 1085.0 L1102.0 1084.4 L1104.0 1083.7 L1105.9 1082.9 L1107.9 1082.2 L1109.7 1081.4 L1111.6 1080.6 L1113.4 1079.7 L1115.2 1078.9 L1117.0 1078.0 L1118.8 1077.1 L1120.6 1076.1 L1122.3 1075.2 L1124.0 1074.3 L1125.8 1073.3 L1127.5 1072.3 L1129.2 1071.3 L1130.9 1070.3 L1132.6 1069.3 L1134.3 1068.3 L1136.0 1067.2 L1137.7 1066.2 L1139.4 1065.2 L1141.1 1064.1 L1142.8 1063.1 L1144.5 1062.0 L1146.2 1061.0 L1147.9 1060.0 L1149.6 1058.9 L1151.3 1057.9 L1153.0 1056.9 L1154.8 1055.9 L1156.5 1054.8 L1158.2 1053.8 L1160.0 1052.8 L1161.7 1051.8 L1163.5 1050.9 L1165.2 1049.9 L1167.0 1049.0 L1168.8 1048.0 L1170.5 1047.1 L1172.3 1046.2 L1174.1 1045.3 L1175.9 1044.4 L1177.7 1043.6 L1179.5 1042.7 L1181.4 1041.9 L1183.2 1041.1 L1185.0 1040.4 L1186.9 1039.6 L1188.7 1038.9 L1190.6 1038.2 L1192.4 1037.5 L1194.3 1036.8 L1196.2 1036.1 L1198.1 1035.5 L1200.0 1034.8 L1201.8 1034.2 L1203.7 1033.6 L1205.6 1033.0 L1207.5 1032.4 L1209.5 1031.8 L1211.4 1031.3 L1213.3 1030.7 L1215.2 1030.1 L1217.1 1029.6 L1219.0 1029.1 L1221.0 1028.5 L1222.9 1028.0 L1224.8 1027.4 L1226.7 1026.9 L1228.7 1026.4 L1230.6 1025.9 L1232.5 1025.3 L1234.5 1024.8 L1236.4 1024.3 L1238.3 1023.7 L1240.2 1023.2 L1242.2 1022.7 L1244.1 1022.1 L1246.0 1021.6 L1247.9 1021.0 L1249.8 1020.4 L1251.8 1019.9 L1253.7 1019.3 L1255.6 1018.7 L1257.5 1018.1 L1259.4 1017.5 L1261.3 1016.9 L1263.2 1016.2 L1265.1 1015.6 L1266.9 1014.9 L1268.8 1014.2 L1270.7 1013.5 L1272.6 1012.8 L1274.4 1012.1 L1276.3 1011.3 L1278.1 1010.6 L1280.0 1009.8 L1281.8 1009.0 L1283.7 1008.3 L1285.5 1007.5 L1287.3 1006.6 L1289.2 1005.8 L1291.0 1005.0 L1292.8 1004.1 L1294.6 1003.3 L1296.4 1002.4 L1298.2 1001.5 L1300.0 1000.6 L1301.8 999.7 L1303.6 998.8 L1305.4 997.9 L1307.2 997.0 L1309.0 996.1 L1310.7 995.1 L1312.5 994.2 L1314.3 993.2 L1316.1 992.2 L1317.8 991.3 L1319.6 990.3 L1321.3 989.3 L1323.1 988.3 L1324.8 987.3 L1326.6 986.3 L1328.3 985.3 L1330.0 984.3 L1331.8 983.2 L1333.5 982.2 L1335.2 981.2 L1337.0 980.1 L1338.7 979.1 L1340.4 978.0 L1342.1 977.0 L1343.8 975.9 L1345.6 974.9 L1347.3 973.8 L1349.0 972.8 L1350.7 971.7 L1352.4 970.6 L1354.1 969.6 L1355.8 968.5 L1357.4 967.4 L1359.1 966.3 L1360.8 965.3 L1362.5 964.2 L1364.2 963.1 L1365.9 962.0 L1367.6 961.0 L1369.2 959.9 L1370.9 958.8 L1372.6 957.7 L1374.3 956.7 L1375.9 955.6 L1377.6 954.5 L1379.3 953.5 L1380.9 952.4 L1382.6 951.3 L1384.3 950.3 L1386.0 949.2 L1387.6 948.2 L1389.3 947.2 L1391.0 946.1 L1392.7 945.1 L1394.4 944.1 L1396.1 943.1 L1397.8 942.1 L1399.5 941.1 L1401.2 940.1 L1402.9 939.1 L1404.6 938.1 L1406.4 937.2 L1408.1 936.2 L1409.8 935.3 L1411.6 934.3 L1413.3 933.4 L1415.1 932.5 L1416.9 931.6 L1418.7 930.7 L1420.4 929.9 L1422.2 929.0 L1424.0 928.2 L1425.9 927.3 L1427.7 926.5 L1429.5 925.7 L1431.4 925.0 L1433.3 924.2 L1435.1 923.4 L1437.0 922.7 L1438.9 922.0 L1440.8 921.3 L1442.7 920.6 L1444.7 919.9 L1446.6 919.3 L1448.6 918.7 L1450.5 918.1 L1452.5 917.5 L1454.4 916.9 L1456.4 916.3 L1458.4 915.8 L1460.4 915.3 L1462.4 914.8 L1464.4 914.4 L1466.4 913.9 L1468.4 913.5 L1470.4 913.1 L1472.4 912.7 L1474.4 912.3 L1476.5 912.0 L1478.5 911.7 L1480.5 911.4 L1482.5 911.2 L1484.6 910.9 L1486.6 910.7 L1488.6 910.5 L1490.6 910.4 L1492.6 910.2 L1494.7 910.1 L1496.7 910.1 L1498.7 910.0 L1500.7 910.0 L1502.7 910.0 L1504.7 910.0 L1506.7 910.1 L1508.7 910.2 L1510.7 910.3 L1512.7 910.4 L1514.7 910.6 L1516.6 910.8 L1518.6 911.0 L1520.5 911.3 L1522.5 911.6 L1524.4 911.9 L1526.4 912.3 L1528.3 912.7 L1530.2 913.1 L1532.1 913.6 L1534.0 914.0 L1535.9 914.6 L1537.7 915.1 L1539.6 915.7 L1541.4 916.3 L1543.2 917.0 L1545.1 917.6 L1546.9 918.3 L1548.7 919.1 L1550.5 919.8 L1552.3 920.6 L1554.1 921.4 L1555.8 922.2 L1557.6 923.1 L1559.4 923.9 L1561.1 924.8 L1562.9 925.7 L1564.6 926.6 L1566.4 927.5 L1568.1 928.5 L1569.9 929.4 L1571.6 930.4 L1573.3 931.4 L1575.0 932.3 L1576.8 933.3 L1578.5 934.3 L1580.2 935.3 L1581.9 936.4 L1583.6 937.4 L1585.3 938.4 L1587.0 939.4 L1588.8 940.4 L1590.5 941.5 L1592.2 942.5 L1593.9 943.6 L1595.6 944.6 L1597.3 945.6 L1599.0 946.7 L1600.7 947.7 L1602.4 948.8 L1604.1 949.9 L1605.8 950.9 L1607.6 952.0 L1609.3 953.0 L1611.0 954.1 L1612.7 955.2 L1614.4 956.3 L1616.1 957.3 L1617.8 958.4 L1619.5 959.5 L1621.2 960.6 L1622.9 961.6 L1624.6 962.7 L1626.3 963.8 L1628.0 964.9 L1629.7 966.0 L1631.4 967.1 L1633.1 968.1 L1634.8 969.2 L1636.5 970.3 L1638.2 971.4 L1639.9 972.5 L1641.6 973.6 L1643.4 974.7 L1645.1 975.8 L1646.8 976.9 L1648.5 977.9 L1650.2 979.0 L1651.9 980.1 L1653.6 981.2 L1655.3 982.3 L1657.0 983.4 L1658.7 984.5 L1660.4 985.6 L1662.1 986.6 L1663.8 987.7 L1665.6 988.8 L1667.3 989.9 L1669.0 991.0 L1670.7 992.0 L1672.4 993.1 L1674.1 994.2 L1675.8 995.3 L1677.6 996.3 L1679.3 997.4 L1681.0 998.5 L1682.7 999.5 L1684.4 1000.6 L1686.2 1001.7 L1687.9 1002.7 L1689.6 1003.8 L1691.3 1004.8 L1693.1 1005.9 L1694.8 1006.9 L1696.5 1007.9 L1698.3 1009.0 L1700.0 1010.0 L1701.7 1011.0 L1703.5 1012.1 L1705.2 1013.1 L1706.9 1014.1 L1708.7 1015.1 L1710.4 1016.1 L1712.1 1017.1 L1713.9 1018.2 L1715.6 1019.1 L1717.4 1020.1 L1719.1 1021.1 L1720.9 1022.1 L1722.6 1023.1 L1724.4 1024.1 L1726.1 1025.0 L1727.9 1026.0 L1729.7 1027.0 L1731.4 1027.9 L1733.2 1028.9 L1734.9 1029.8 L1736.7 1030.7 L1738.5 1031.7 L1740.2 1032.6 L1742.0 1033.5 L1743.8 1034.4 L1745.6 1035.3 L1747.3 1036.2 L1749.1 1037.1 L1750.9 1038.0 L1752.7 1038.9 L1754.5 1039.8 L1756.3 1040.6 L1758.1 1041.5 L1759.9 1042.3 L1761.7 1043.2 L1763.5 1044.0 L1765.3 1044.9 L1767.1 1045.7 L1768.9 1046.5 L1770.7 1047.3 L1772.5 1048.1 L1774.3 1048.9 L1776.1 1049.7 L1778.0 1050.4 L1779.8 1051.2 L1781.6 1052.0 L1783.4 1052.7 L1785.3 1053.5 L1787.1 1054.2 L1788.9 1054.9 L1790.8 1055.6 L1792.6 1056.3 L1794.5 1057.0 L1796.3 1057.7 L1798.2 1058.4 L1800.0 1059.1 L1801.9 1059.7 L1803.7 1060.4 L1805.6 1061.0 L1807.5 1061.6 L1809.3 1062.2 L1811.2 1062.9 L1813.1 1063.5 L1815.0 1064.1 L1816.8 1064.6 L1818.7 1065.2 L1820.6 1065.8 L1822.5 1066.3 L1824.4 1066.9 L1826.3 1067.4 L1828.2 1067.9 L1830.1 1068.5 L1832.0 1069.0 L1833.9 1069.5 L1835.8 1070.0 L1837.7 1070.5 L1839.6 1071.0 L1841.6 1071.4 L1843.5 1071.9 L1845.4 1072.3 L1847.3 1072.8 L1849.2 1073.2 L1851.2 1073.7 L1853.1 1074.1 L1855.0 1074.5 L1857.0 1074.9 L1858.9 1075.3 L1860.9 1075.7 L1862.8 1076.1 L1864.7 1076.5 L1866.7 1076.8 L1868.6 1077.2 L1870.6 1077.6 L1872.5 1077.9 L1874.5 1078.2 L1876.5 1078.6 L1878.4 1078.9 L1880.4 1079.2 L1882.3 1079.5 L1884.3 1079.8 L1886.3 1080.1 L1888.2 1080.4 L1890.2 1080.7 L1892.2 1081.0 L1894.2 1081.3 L1896.1 1081.5 L1898.1 1081.8 L1900.1 1082.1 L1902.1 1082.3 L1904.1 1082.6 L1906.1 1082.8 L1908.0 1083.0 L1910.0 1083.2 L1912.0 1083.5 L1914.0 1083.7 L1916.0 1083.9 L1918.0 1084.1 L1920.0 1084.3 L1922.0 1084.5 L1924.0 1084.6 L1926.0 1084.8 L1928.0 1085.0 L1930.0 1085.2 L1932.0 1085.3 L1934.0 1085.5 L1936.0 1085.6 L1938.1 1085.8 L1940.1 1085.9 L1942.1 1086.1 L1944.1 1086.2 L1946.1 1086.3 L1948.1 1086.4 L1950.1 1086.5 L1952.2 1086.7 L1954.2 1086.8 L1956.2 1086.9 L1958.2 1087.0 L1960.3 1087.1 L1962.3 1087.2 L1964.3 1087.2 L1966.3 1087.3 L1968.4 1087.4 L1970.4 1087.5 L1972.4 1087.5 L1974.4 1087.6 L1976.5 1087.7 L1978.5 1087.7 L1980.5 1087.8 L1982.6 1087.8 L1984.6 1087.9 L1986.6 1087.9 L1988.7 1087.9 L1990.7 1088.0 L1992.8 1088.0 L1994.8 1088.0 L1996.8 1088.1 L1998.9 1088.1 L2000.9 1088.1 L2002.9 1088.1 L2005.0 1088.1 L2007.0 1088.1 L2009.1 1088.1 L2011.1 1088.1 L2013.2 1088.1 L2015.2 1088.1 L2017.2 1088.1 L2019.3 1088.1 L2021.3 1088.1 L2023.4 1088.1 L2025.4 1088.1 L2027.5 1088.1 L2029.5 1088.0 L2031.6 1088.0 L2033.6 1088.0 L2035.6 1088.0 L2037.7 1087.9 L2039.7 1087.9 L2041.8 1087.9 L2043.8 1087.8 L2045.9 1087.8 L2047.9 1087.8 L2050.0 1087.7 L2052.0 1087.7 L2054.1 1087.6 L2056.1 1087.6 L2058.1 1087.5 L2060.2 1087.5 L2062.2 1087.4 L2064.3 1087.4 L2066.3 1087.3 L2068.4 1087.3 L2070.4 1087.2 L2072.5 1087.2 L2074.5 1087.1 L2076.6 1087.1 L2078.6 1087.0 L2080.6 1087.0 L2082.7 1086.9 L2084.7 1086.8 L2086.8 1086.8 L2088.8 1086.7 L2090.8 1086.7 L2092.9 1086.6 L2094.9 1086.5 L2097.0 1086.5 L2099.0 1086.4 L2101.0 1086.3 L2103.1 1086.3 L2105.1 1086.2 L2107.1 1086.2 L2109.2 1086.1 L2111.2 1086.0 L2113.3 1086.0 L2115.3 1085.9 L2117.3 1085.8 L2119.3 1085.8 L2121.4 1085.7 L2123.4 1085.7 L2125.4 1085.6 L2127.5 1085.5 L2129.5 1085.5 L2131.5 1085.4 L2133.5 1085.4 L2135.6 1085.3 L2137.6 1085.3 L2139.6 1085.2 L2141.6 1085.2 L2143.6 1085.1 L2145.7 1085.0 L2147.7 1085.0 L2149.7 1085.0 L2151.7 1084.9 L2153.7 1084.9 L2155.7 1084.8 L2157.7 1084.8 L2159.8 1084.7 L2161.8 1084.7 L2163.8 1084.7 L2165.8 1084.6 L2167.8 1084.6 L2169.8 1084.6 L2171.8 1084.5 L2173.8 1084.5 L2175.8 1084.5 L2177.8 1084.5 L2179.8 1084.4 L2181.8 1084.4 L2183.7 1084.4 L2185.7 1084.4 L2187.7 1084.4 L2189.7 1084.4 L2191.7 1084.4 L2193.7 1084.4 L2195.7 1084.4 L2197.6 1084.4 L2199.6 1084.4 L2201.6 1084.4 L2203.6 1084.4 L2205.5 1084.4 L2207.5 1084.5 L2209.5 1084.5 L2211.4 1084.5 L2213.4 1084.5 L2215.4 1084.6 L2217.3 1084.6 L2219.3 1084.6 L2221.2 1084.7 L2223.2 1084.7 L2225.1 1084.8 L2227.1 1084.8 L2229.0 1084.9 L2231.0 1085.0 L2232.9 1085.0 L2234.9 1085.1 L2236.8 1085.2 L2238.7 1085.2 L2240.7 1085.3 L2242.6 1085.4 L2244.5 1085.5 L2246.4 1085.6 L2248.4 1085.7 L2250.3 1085.8 L2252.2 1085.9 L2254.1 1086.0 L2256.0 1086.2 L2258.0 1086.3 L2259.9 1086.4 L2261.8 1086.5 L2263.7 1086.7 L2265.6 1086.8 L2267.5 1087.0 L2269.4 1087.1 L2271.3 1087.3 L2273.1 1087.4 L2275.0 1087.6 L2276.9 1087.8 L2278.8 1088.0 L2279.4 1088.0" stroke="#0c08e2"/>
<path d="M377.6 1087.9 L379.6 1087.9 L381.6 1087.9 L383.6 1087.9 L385.6 1087.9 L387.6 1087.9 L389.6 1087.9 L391.6 1087.9 L393.6 1087.9 L395.6 1087.9 L397.6 1088.0 L399.5 1088.0 L401.5 1088.0 L403.5 1088.0 L405.5 1088.0 L407.5 1088.0 L409.5 1088.0 L411.5 1088.0 L413.5 1088.1 L415.5 1088.1 L417.5 1088.1 L419.5 1088.1 L421.5 1088.1 L423.5 1088.1 L425.5 1088.1 L427.5 1088.2 L429.5 1088.2 L431.6 1088.2 L433.6 1088.2 L435.6 1088.2 L437.6 1088.2 L439.6 1088.2 L441.6 1088.3 L443.6 1088.3 L445.6 1088.3 L447.6 1088.3 L449.6 1088.3 L451.6 1088.3 L453.6 1088.3 L455.6 1088.3 L457.6 1088.3 L459.6 1088.4 L461.6 1088.4 L463.6 1088.4 L465.6 1088.4 L467.6 1088.4 L469.6 1088.4 L471.6 1088.4 L473.6 1088.4 L475.6 1088.4 L477.6 1088.4 L479.6 1088.4 L481.7 1088.4 L483.7 1088.4 L485.7 1088.4 L487.7 1088.4 L489.7 1088.4 L491.7 1088.3 L493.7 1088.3 L495.7 1088.3 L497.7 1088.3 L499.7 1088.3 L501.7 1088.3 L503.7 1088.2 L505.7 1088.2 L507.7 1088.2 L509.7 1088.2 L511.7 1088.1 L513.7 1088.1 L515.7 1088.1 L517.7 1088.0 L519.7 1088.0 L521.7 1088.0 L523.7 1087.9 L525.7 1087.9 L527.7 1087.8 L529.7 1087.8 L531.7 1087.7 L533.7 1087.7 L535.7 1087.6 L537.7 1087.6 L539.7 1087.5 L541.7 1087.4 L543.7 1087.4 L545.7 1087.3 L547.7 1087.2 L549.7 1087.1 L551.7 1087.1 L553.7 1087.0 L555.7 1086.9 L557.7 1086.8 L559.7 1086.7 L561.7 1086.6 L563.6 1086.5 L565.6 1086.4 L567.6 1086.3 L569.6 1086.2 L571.6 1086.1 L573.6 1085.9 L575.6 1085.8 L577.6 1085.7 L579.6 1085.6 L581.6 1085.4 L583.5 1085.3 L585.5 1085.2 L587.5 1085.0 L589.5 1084.9 L591.5 1084.7 L593.5 1084.6 L595.4 1084.4 L597.4 1084.2 L599.4 1084.1 L601.4 1083.9 L603.4 1083.7 L605.3 1083.5 L607.3 1083.3 L609.3 1083.2 L611.3 1083.0 L613.3 1082.8 L615.2 1082.6 L617.2 1082.4 L619.2 1082.3 L621.2 1082.1 L623.1 1081.9 L625.1 1081.8 L627.1 1081.6 L629.1 1081.5 L631.1 1081.3 L633.1 1081.2 L635.0 1081.1 L637.0 1081.0 L639.0 1080.9 L641.0 1080.8 L643.0 1080.7 L645.0 1080.6 L647.0 1080.6 L649.0 1080.6 L650.9 1080.6 L652.9 1080.6 L654.9 1080.6 L656.9 1080.6 L658.9 1080.7 L661.0 1080.8 L663.0 1080.9 L665.0 1081.0 L667.0 1081.2 L669.0 1081.3 L671.0 1081.6 L673.0 1081.8 L675.1 1082.0 L677.1 1082.2 L679.1 1082.5 L681.1 1082.7 L683.1 1082.9 L685.1 1083.0 L687.1 1083.1 L689.0 1083.1 L690.9 1083.0 L692.9 1082.9 L694.8 1082.7 L696.6 1082.4 L698.5 1082.0 L700.3 1081.4 L702.1 1080.8 L703.8 1080.1 L705.6 1079.3 L707.3 1078.5 L709.0 1077.5 L710.6 1076.5 L712.2 1075.4 L713.8 1074.3 L715.4 1073.0 L717.0 1071.7 L718.5 1070.4 L720.0 1069.0 L721.4 1067.6 L722.9 1066.1 L724.3 1064.6 L725.6 1063.0 L727.0 1061.4 L728.3 1059.8 L729.6 1058.1 L730.9 1056.4 L732.1 1054.7 L733.3 1053.0 L734.5 1051.3 L735.6 1049.5 L736.7 1047.8 L737.8 1046.0 L738.8 1044.3 L739.9 1042.5 L740.9 1040.8 L741.9 1039.0 L742.8 1037.2 L743.7 1035.4 L744.7 1033.6 L745.5 1031.9 L746.4 1030.1 L747.3 1028.3 L748.1 1026.5 L748.9 1024.6 L749.7 1022.8 L750.5 1021.0 L751.3 1019.2 L752.1 1017.4 L752.8 1015.6 L753.6 1013.7 L754.3 1011.9 L755.1 1010.1 L755.8 1008.2 L756.5 1006.4 L757.3 1004.5 L758.0 1002.7 L758.7 1000.8 L759.4 999.0 L760.1 997.1 L760.8 995.3 L761.5 993.4 L762.1 991.6 L762.8 989.7 L763.5 987.8 L764.1 985.9 L764.8 984.1 L765.5 982.2 L766.1 980.3 L766.8 978.4 L767.4 976.6 L768.0 974.7 L768.7 972.8 L769.3 970.9 L769.9 969.0 L770.5 967.1 L771.2 965.2 L771.8 963.3 L772.4 961.4 L773.0 959.5 L773.6 957.6 L774.2 955.7 L774.8 953.8 L775.4 951.9 L776.0 950.0 L776.6 948.1 L777.2 946.2 L777.8 944.3 L778.4 942.4 L778.9 940.5 L779.5 938.6 L780.1 936.7 L780.7 934.7 L781.3 932.8 L781.8 930.9 L782.4 929.0 L783.0 927.1 L783.6 925.1 L784.1 923.2 L784.7 921.3 L785.3 919.4 L785.8 917.5 L786.4 915.5 L787.0 913.6 L787.6 911.7 L788.1 909.8 L788.7 907.9 L789.3 905.9 L789.8 904.0 L790.4 902.1 L791.0 900.2 L791.5 898.2 L792.1 896.3 L792.7 894.4 L793.3 892.5 L793.8 890.5 L794.4 888.6 L795.0 886.7 L795.6 884.8 L796.2 882.9 L796.8 880.9 L797.3 879.0 L797.9 877.1 L798.5 875.2 L799.1 873.3 L799.7 871.3 L800.3 869.4 L800.9 867.5 L801.5 865.6 L802.1 863.7 L802.7 861.8 L803.3 859.8 L803.9 857.9 L804.5 856.0 L805.1 854.1 L805.7 852.2 L806.3 850.3 L806.9 848.4 L807.5 846.5 L808.2 844.6 L808.8 842.7 L809.4 840.8 L810.0 838.9 L810.7 836.9 L811.3 835.0 L811.9 833.2 L812.6 831.3 L813.2 829.4 L813.9 827.5 L814.5 825.6 L815.2 823.7 L815.8 821.8 L816.5 819.9 L817.1 818.0 L817.8 816.1 L818.5 814.2 L819.2 812.4 L819.8 810.5 L820.5 808.6 L821.2 806.7 L821.9 804.9 L822.6 803.0 L823.3 801.1 L824.0 799.3 L824.7 797.4 L825.4 795.5 L826.1 793.7 L826.8 791.8 L827.5 790.0 L828.2 788.1 L829.0 786.2 L829.7 784.4 L830.4 782.5 L831.2 780.7 L831.9 778.9 L832.7 777.0 L833.4 775.2 L834.2 773.4 L835.0 771.5 L835.8 769.7 L836.6 767.9 L837.4 766.1 L838.3 764.3 L839.2 762.5 L840.1 760.8 L841.0 759.0 L841.9 757.3 L842.9 755.5 L843.9 753.8 L845.0 752.1 L846.1 750.4 L847.2 748.8 L848.4 747.1 L849.6 745.5 L850.9 743.9 L852.2 742.3 L853.5 740.7 L854.9 739.2 L856.4 737.8 L857.9 736.4 L859.5 735.2 L861.1 734.0 L862.8 733.0 L864.6 732.2 L866.4 731.5 L868.3 731.0 L870.3 730.7 L872.2 730.6 L874.2 730.7 L876.2 731.0 L878.1 731.4 L880.0 732.0 L881.8 732.8 L883.6 733.8 L885.2 734.9 L886.8 736.2 L888.3 737.5 L889.8 739.0 L891.2 740.4 L892.5 742.0 L893.8 743.5 L895.1 745.1 L896.3 746.6 L897.5 748.2 L898.7 749.8 L899.9 751.4 L901.0 753.1 L902.2 754.7 L903.3 756.4 L904.4 758.0 L905.5 759.7 L906.5 761.4 L907.6 763.0 L908.6 764.7 L909.7 766.4 L910.7 768.1 L911.7 769.9 L912.7 771.6 L913.6 773.3 L914.6 775.1 L915.5 776.8 L916.4 778.6 L917.4 780.4 L918.3 782.1 L919.2 783.9 L920.0 785.7 L920.9 787.5 L921.8 789.3 L922.6 791.1 L923.4 792.9 L924.3 794.7 L925.1 796.5 L925.9 798.4 L926.7 800.2 L927.5 802.0 L928.3 803.9 L929.1 805.7 L929.8 807.6 L930.6 809.4 L931.3 811.3 L932.1 813.1 L932.8 815.0 L933.6 816.9 L934.3 818.8 L935.0 820.6 L935.7 822.5 L936.5 824.4 L937.2 826.3 L937.9 828.1 L938.6 830.0 L939.3 831.9 L940.0 833.8 L940.7 835.7 L941.4 837.6 L942.1 839.5 L942.8 841.3 L943.5 843.2 L944.2 845.1 L944.8 847.0 L945.5 848.9 L946.2 850.8 L946.9 852.7 L947.6 854.6 L948.3 856.4 L949.0 858.3 L949.7 860.2 L950.4 862.1 L951.1 864.0 L951.8 865.8 L952.5 867.7 L953.2 869.6 L953.9 871.5 L954.6 873.3 L955.3 875.2 L956.0 877.1 L956.7 878.9 L957.5 880.8 L958.2 882.7 L958.9 884.6 L959.6 886.4 L960.3 888.3 L961.0 890.1 L961.8 892.0 L962.5 893.9 L963.2 895.7 L963.9 897.6 L964.6 899.5 L965.4 901.3 L966.1 903.2 L966.8 905.0 L967.5 906.9 L968.3 908.8 L969.0 910.6 L969.7 912.5 L970.4 914.3 L971.2 916.2 L971.9 918.0 L972.6 919.9 L973.3 921.8 L974.1 923.6 L974.8 925.5 L975.5 927.3 L976.3 929.2 L977.0 931.0 L977.7 932.9 L978.5 934.7 L979.2 936.6 L979.9 938.4 L980.7 940.3 L981.4 942.1 L982.1 944.0 L982.9 945.9 L983.6 947.7 L984.4 949.6 L985.1 951.4 L985.9 953.2 L986.6 955.1 L987.4 956.9 L988.1 958.8 L988.9 960.6 L989.7 962.5 L990.5 964.3 L991.2 966.1 L992.0 968.0 L992.8 969.8 L993.6 971.6 L994.4 973.5 L995.2 975.3 L996.0 977.1 L996.8 978.9 L997.7 980.8 L998.5 982.6 L999.3 984.4 L1000.2 986.2 L1001.0 988.0 L1001.9 989.8 L1002.7 991.6 L1003.6 993.4 L1004.5 995.2 L1005.4 997.0 L1006.3 998.8 L1007.2 1000.6 L1008.1 1002.4 L1009.0 1004.2 L1010.0 1006.0 L1010.9 1007.8 L1011.9 1009.5 L1012.8 1011.3 L1013.8 1013.1 L1014.8 1014.8 L1015.8 1016.6 L1016.8 1018.3 L1017.8 1020.1 L1018.8 1021.8 L1019.9 1023.6 L1020.9 1025.3 L1022.0 1027.0 L1023.1 1028.7 L1024.2 1030.4 L1025.3 1032.1 L1026.4 1033.8 L1027.6 1035.5 L1028.7 1037.1 L1029.9 1038.7 L1031.1 1040.4 L1032.3 1042.0 L1033.5 1043.6 L1034.7 1045.1 L1036.0 1046.7 L1037.2 1048.2 L1038.5 1049.7 L1039.8 1051.2 L1041.1 1052.7 L1042.5 1054.1 L1043.9 1055.5 L1045.2 1056.9 L1046.6 1058.3 L1048.1 1059.6 L1049.5 1061.0 L1051.0 1062.2 L1052.5 1063.5 L1054.0 1064.7 L1055.5 1065.9 L1057.1 1067.1 L1058.6 1068.2 L1060.2 1069.3 L1061.9 1070.4 L1063.5 1071.4 L1065.2 1072.4 L1066.9 1073.3 L1068.6 1074.2 L1070.4 1075.1 L1072.1 1076.0 L1073.9 1076.7 L1075.8 1077.5 L1077.6 1078.2 L1079.5 1078.9 L1081.4 1079.5 L1083.3 1080.1 L1085.2 1080.7 L1087.2 1081.2 L1089.2 1081.7 L1091.1 1082.2 L1093.1 1082.6 L1095.1 1083.0 L1097.2 1083.3 L1099.2 1083.6 L1101.2 1083.9 L1103.3 1084.1 L1105.4 1084.3 L1107.4 1084.5 L1109.5 1084.6 L1111.6 1084.7 L1113.7 1084.8 L1115.7 1084.8 L1117.8 1084.8 L1119.9 1084.8 L1122.0 1084.7 L1124.1 1084.6 L1126.2 1084.5 L1128.2 1084.4 L1130.3 1084.2 L1132.4 1084.0 L1134.4 1083.7 L1136.5 1083.4 L1138.5 1083.1 L1140.5 1082.8 L1142.5 1082.4 L1144.5 1082.1 L1146.5 1081.6 L1148.5 1081.2 L1150.5 1080.7 L1152.4 1080.2 L1154.3 1079.7 L1156.2 1079.2 L1158.1 1078.6 L1160.0 1078.0 L1161.9 1077.4 L1163.7 1076.7 L1165.5 1076.0 L1167.4 1075.4 L1169.2 1074.6 L1171.0 1073.9 L1172.8 1073.2 L1174.5 1072.4 L1176.3 1071.6 L1178.1 1070.8 L1179.8 1070.0 L1181.6 1069.1 L1183.3 1068.3 L1185.1 1067.4 L1186.8 1066.5 L1188.6 1065.6 L1190.3 1064.7 L1192.0 1063.8 L1193.8 1062.9 L1195.5 1061.9 L1197.2 1061.0 L1198.9 1060.0 L1200.7 1059.0 L1202.4 1058.0 L1204.1 1057.0 L1205.9 1056.0 L1207.6 1055.0 L1209.4 1054.0 L1211.1 1053.0 L1212.9 1052.0 L1214.7 1050.9 L1216.4 1049.9 L1218.2 1048.9 L1220.0 1047.9 L1221.7 1046.8 L1223.5 1045.8 L1225.3 1044.8 L1227.1 1043.8 L1228.9 1042.8 L1230.6 1041.8 L1232.4 1040.8 L1234.2 1039.8 L1236.0 1038.8 L1237.8 1037.8 L1239.6 1036.8 L1241.3 1035.8 L1243.1 1034.8 L1244.9 1033.8 L1246.6 1032.8 L1248.3 1031.7 L1250.0 1030.7 L1251.7 1029.6 L1253.4 1028.5 L1255.0 1027.4 L1256.6 1026.2 L1258.2 1025.1 L1259.7 1023.9 L1261.3 1022.6 L1262.8 1021.4 L1264.2 1020.1 L1265.6 1018.7 L1267.0 1017.4 L1268.3 1015.9 L1269.6 1014.5 L1270.9 1013.0 L1272.1 1011.5 L1273.3 1009.9 L1274.5 1008.4 L1275.7 1006.8 L1276.9 1005.2 L1278.0 1003.5 L1279.1 1001.9 L1280.3 1000.3 L1281.4 998.6 L1282.5 997.0 L1283.7 995.3 L1284.8 993.7 L1286.0 992.0 L1287.1 990.4 L1288.3 988.7 L1289.4 987.1 L1290.6 985.5 L1291.8 983.8 L1293.0 982.2 L1294.2 980.6 L1295.4 979.0 L1296.6 977.4 L1297.8 975.7 L1299.0 974.1 L1300.2 972.5 L1301.4 970.9 L1302.7 969.3 L1303.9 967.7 L1305.1 966.1 L1306.3 964.5 L1307.6 962.9 L1308.8 961.3 L1310.0 959.7 L1311.2 958.1 L1312.5 956.5 L1313.7 954.9 L1314.9 953.3 L1316.1 951.6 L1317.4 950.0 L1318.6 948.4 L1319.8 946.8 L1321.0 945.2 L1322.2 943.6 L1323.4 942.0 L1324.6 940.4 L1325.8 938.8 L1327.0 937.1 L1328.2 935.5 L1329.4 933.9 L1330.5 932.3 L1331.7 930.6 L1332.9 929.0 L1334.0 927.4 L1335.2 925.7 L1336.3 924.1 L1337.4 922.5 L1338.6 920.8 L1339.7 919.2 L1340.8 917.5 L1341.9 915.9 L1343.0 914.2 L1344.1 912.5 L1345.2 910.9 L1346.3 909.2 L1347.3 907.6 L1348.4 905.9 L1349.5 904.2 L1350.6 902.6 L1351.6 900.9 L1352.7 899.2 L1353.8 897.6 L1354.9 895.9 L1355.9 894.2 L1357.0 892.6 L1358.0 890.9 L1359.1 889.2 L1360.2 887.5 L1361.2 885.9 L1362.3 884.2 L1363.4 882.5 L1364.4 880.9 L1365.5 879.2 L1366.6 877.6 L1367.7 875.9 L1368.7 874.2 L1369.8 872.6 L1370.9 870.9 L1372.0 869.3 L1373.1 867.6 L1374.2 866.0 L1375.3 864.3 L1376.4 862.7 L1377.5 861.0 L1378.6 859.4 L1379.7 857.8 L1380.9 856.1 L1382.0 854.5 L1383.2 852.9 L1384.3 851.3 L1385.5 849.7 L1386.6 848.0 L1387.8 846.4 L1389.0 844.8 L1390.2 843.2 L1391.4 841.7 L1392.6 840.1 L1393.9 838.5 L1395.1 836.9 L1396.3 835.3 L1397.6 833.8 L1398.9 832.2 L1400.2 830.7 L1401.5 829.1 L1402.8 827.6 L1404.1 826.0 L1405.4 824.5 L1406.8 823.0 L1408.1 821.5 L1409.5 820.0 L1410.9 818.5 L1412.3 817.0 L1413.7 815.5 L1415.2 814.0 L1416.6 812.5 L1418.1 811.1 L1419.6 809.6 L1421.1 808.2 L1422.6 806.8 L1424.1 805.4 L1425.6 804.0 L1427.2 802.6 L1428.8 801.2 L1430.4 799.9 L1432.0 798.6 L1433.6 797.3 L1435.2 796.0 L1436.8 794.7 L1438.5 793.5 L1440.1 792.3 L1441.8 791.1 L1443.5 790.0 L1445.2 788.8 L1446.9 787.8 L1448.6 786.7 L1450.3 785.7 L1452.1 784.7 L1453.8 783.8 L1455.6 782.8 L1457.3 782.0 L1459.1 781.1 L1460.9 780.3 L1462.7 779.6 L1464.5 778.9 L1466.3 778.2 L1468.1 777.6 L1470.0 777.0 L1471.8 776.5 L1473.6 776.1 L1475.5 775.6 L1477.3 775.3 L1479.2 775.0 L1481.1 774.7 L1482.9 774.5 L1484.8 774.4 L1486.7 774.3 L1488.6 774.2 L1490.5 774.3 L1492.4 774.4 L1494.3 774.5 L1496.2 774.7 L1498.1 774.9 L1500.0 775.2 L1501.9 775.6 L1503.8 776.0 L1505.7 776.4 L1507.6 776.9 L1509.5 777.5 L1511.4 778.1 L1513.3 778.7 L1515.2 779.3 L1517.1 780.0 L1518.9 780.8 L1520.8 781.6 L1522.7 782.4 L1524.5 783.2 L1526.4 784.1 L1528.2 785.1 L1530.0 786.0 L1531.8 787.0 L1533.6 788.0 L1535.4 789.0 L1537.2 790.1 L1539.0 791.2 L1540.7 792.3 L1542.5 793.4 L1544.2 794.6 L1545.9 795.7 L1547.6 796.9 L1549.3 798.1 L1550.9 799.4 L1552.6 800.6 L1554.2 801.9 L1555.8 803.1 L1557.4 804.4 L1558.9 805.7 L1560.5 807.0 L1562.1 808.4 L1563.6 809.7 L1565.1 811.1 L1566.6 812.4 L1568.1 813.8 L1569.6 815.2 L1571.0 816.6 L1572.5 818.0 L1573.9 819.4 L1575.3 820.8 L1576.8 822.3 L1578.2 823.7 L1579.6 825.2 L1580.9 826.6 L1582.3 828.1 L1583.7 829.6 L1585.0 831.0 L1586.4 832.5 L1587.7 834.0 L1589.1 835.5 L1590.4 837.0 L1591.7 838.5 L1593.0 840.1 L1594.3 841.6 L1595.7 843.1 L1596.9 844.6 L1598.2 846.1 L1599.5 847.7 L1600.8 849.2 L1602.1 850.7 L1603.4 852.3 L1604.7 853.8 L1605.9 855.3 L1607.2 856.9 L1608.5 858.4 L1609.7 859.9 L1611.0 861.4 L1612.3 863.0 L1613.6 864.5 L1614.8 866.0 L1616.1 867.5 L1617.4 869.0 L1618.6 870.6 L1619.9 872.1 L1621.2 873.6 L1622.5 875.1 L1623.7 876.6 L1625.0 878.1 L1626.3 879.6 L1627.6 881.1 L1628.9 882.5 L1630.1 884.0 L1631.4 885.5 L1632.7 887.0 L1634.0 888.5 L1635.3 890.0 L1636.6 891.5 L1637.9 892.9 L1639.2 894.4 L1640.5 895.9 L1641.8 897.4 L1643.1 898.9 L1644.4 900.3 L1645.7 901.8 L1647.0 903.3 L1648.3 904.8 L1649.6 906.3 L1650.9 907.8 L1652.2 909.3 L1653.6 910.7 L1654.9 912.2 L1656.2 913.7 L1657.5 915.2 L1658.9 916.7 L1660.2 918.2 L1661.5 919.7 L1662.9 921.2 L1664.2 922.7 L1665.5 924.2 L1666.9 925.6 L1668.2 927.1 L1669.6 928.6 L1670.9 930.1 L1672.3 931.6 L1673.7 933.1 L1675.0 934.6 L1676.4 936.1 L1677.8 937.5 L1679.1 939.0 L1680.5 940.5 L1681.9 942.0 L1683.3 943.4 L1684.6 944.9 L1686.0 946.4 L1687.4 947.9 L1688.8 949.3 L1690.2 950.8 L1691.6 952.3 L1693.0 953.7 L1694.4 955.2 L1695.8 956.6 L1697.2 958.1 L1698.7 959.5 L1700.1 961.0 L1701.5 962.4 L1702.9 963.9 L1704.4 965.3 L1705.8 966.7 L1707.2 968.1 L1708.7 969.6 L1710.1 971.0 L1711.6 972.4 L1713.0 973.8 L1714.5 975.2 L1715.9 976.6 L1717.4 978.0 L1718.9 979.4 L1720.3 980.8 L1721.8 982.2 L1723.3 983.5 L1724.8 984.9 L1726.3 986.3 L1727.8 987.6 L1729.3 989.0 L1730.8 990.3 L1732.3 991.7 L1733.8 993.0 L1735.3 994.3 L1736.8 995.7 L1738.3 997.0 L1739.9 998.3 L1741.4 999.6 L1742.9 1000.9 L1744.5 1002.2 L1746.0 1003.4 L1747.6 1004.7 L1749.1 1006.0 L1750.7 1007.2 L1752.2 1008.5 L1753.8 1009.7 L1755.4 1011.0 L1757.0 1012.2 L1758.5 1013.4 L1760.1 1014.6 L1761.7 1015.8 L1763.3 1017.0 L1764.9 1018.2 L1766.5 1019.4 L1768.1 1020.6 L1769.8 1021.7 L1771.4 1022.9 L1773.0 1024.0 L1774.6 1025.1 L1776.3 1026.3 L1777.9 1027.4 L1779.6 1028.5 L1781.2 1029.6 L1782.9 1030.7 L1784.6 1031.7 L1786.2 1032.8 L1787.9 1033.8 L1789.6 1034.9 L1791.3 1035.9 L1793.0 1036.9 L1794.7 1037.9 L1796.4 1038.9 L1798.1 1039.9 L1799.8 1040.9 L1801.5 1041.9 L1803.2 1042.8 L1805.0 1043.8 L1806.7 1044.7 L1808.4 1045.6 L1810.2 1046.5 L1811.9 1047.4 L1813.7 1048.3 L1815.5 1049.2 L1817.2 1050.0 L1819.0 1050.9 L1820.8 1051.7 L1822.6 1052.5 L1824.4 1053.3 L1826.2 1054.1 L1828.0 1054.9 L1829.8 1055.7 L1831.6 1056.4 L1833.5 1057.2 L1835.3 1057.9 L1837.1 1058.6 L1839.0 1059.3 L1840.8 1060.0 L1842.7 1060.7 L1844.5 1061.3 L1846.4 1062.0 L1848.3 1062.6 L1850.2 1063.2 L1852.1 1063.8 L1853.9 1064.5 L1855.8 1065.0 L1857.7 1065.6 L1859.6 1066.2 L1861.5 1066.7 L1863.5 1067.3 L1865.4 1067.8 L1867.3 1068.3 L1869.2 1068.8 L1871.2 1069.3 L1873.1 1069.8 L1875.0 1070.3 L1877.0 1070.8 L1878.9 1071.2 L1880.9 1071.7 L1882.8 1072.1 L1884.8 1072.5 L1886.8 1072.9 L1888.7 1073.3 L1890.7 1073.7 L1892.7 1074.1 L1894.6 1074.5 L1896.6 1074.8 L1898.6 1075.2 L1900.6 1075.5 L1902.6 1075.9 L1904.6 1076.2 L1906.6 1076.5 L1908.6 1076.8 L1910.6 1077.1 L1912.6 1077.4 L1914.6 1077.7 L1916.6 1078.0 L1918.6 1078.2 L1920.6 1078.5 L1922.6 1078.7 L1924.6 1079.0 L1926.6 1079.2 L1928.7 1079.5 L1930.7 1079.7 L1932.7 1079.9 L1934.7 1080.1 L1936.7 1080.3 L1938.8 1080.5 L1940.8 1080.7 L1942.8 1080.8 L1944.9 1081.0 L1946.9 1081.2 L1948.9 1081.3 L1950.9 1081.5 L1953.0 1081.6 L1955.0 1081.7 L1957.0 1081.9 L1959.1 1082.0 L1961.1 1082.1 L1963.1 1082.2 L1965.2 1082.3 L1967.2 1082.4 L1969.2 1082.5 L1971.3 1082.6 L1973.3 1082.7 L1975.3 1082.8 L1977.4 1082.9 L1979.4 1083.0 L1981.4 1083.0 L1983.5 1083.1 L1985.5 1083.1 L1987.5 1083.2 L1989.5 1083.2 L1991.6 1083.3 L1993.6 1083.3 L1995.6 1083.4 L1997.6 1083.4 L1999.6 1083.4 L2001.7 1083.5 L2003.7 1083.5 L2005.7 1083.5 L2007.7 1083.5 L2009.7 1083.5 L2011.7 1083.5 L2013.7 1083.5 L2015.7 1083.5 L2017.8 1083.5 L2019.8 1083.5 L2021.8 1083.5 L2023.8 1083.5 L2025.8 1083.5 L2027.8 1083.5 L2029.8 1083.5 L2031.8 1083.5 L2033.7 1083.4 L2035.7 1083.4 L2037.7 1083.4 L2039.7 1083.4 L2041.7 1083.3 L2043.7 1083.3 L2045.7 1083.3 L2047.7 1083.2 L2049.7 1083.2 L2051.7 1083.1 L2053.6 1083.1 L2055.6 1083.1 L2057.6 1083.0 L2059.6 1083.0 L2061.6 1082.9 L2063.6 1082.9 L2065.5 1082.8 L2067.5 1082.8 L2069.5 1082.7 L2071.5 1082.6 L2073.4 1082.6 L2075.4 1082.5 L2077.4 1082.5 L2079.4 1082.4 L2081.3 1082.3 L2083.3 1082.3 L2085.3 1082.2 L2087.3 1082.1 L2089.2 1082.1 L2091.2 1082.0 L2093.2 1081.9 L2095.2 1081.9 L2097.1 1081.8 L2099.1 1081.7 L2101.1 1081.7 L2103.0 1081.6 L2105.0 1081.5 L2107.0 1081.5 L2108.9 1081.4 L2110.9 1081.3 L2112.9 1081.3 L2114.9 1081.2 L2116.8 1081.1 L2118.8 1081.1 L2120.8 1081.0 L2122.7 1080.9 L2124.7 1080.8 L2126.7 1080.8 L2128.6 1080.7 L2130.6 1080.6 L2132.6 1080.6 L2134.6 1080.5 L2136.5 1080.5 L2138.5 1080.4 L2140.5 1080.3 L2142.4 1080.3 L2144.4 1080.2 L2146.4 1080.2 L2148.4 1080.1 L2150.3 1080.0 L2152.3 1080.0 L2154.3 1079.9 L2156.3 1079.9 L2158.2 1079.8 L2160.2 1079.8 L2162.2 1079.7 L2164.2 1079.7 L2166.1 1079.6 L2168.1 1079.6 L2170.1 1079.6 L2172.1 1079.5 L2174.1 1079.5 L2176.0 1079.4 L2178.0 1079.4 L2180.0 1079.4 L2182.0 1079.4 L2184.0 1079.3 L2186.0 1079.3 L2187.9 1079.3 L2189.9 1079.3 L2191.9 1079.3 L2193.9 1079.2 L2195.9 1079.2 L2197.9 1079.2 L2199.9 1079.2 L2201.9 1079.2 L2203.9 1079.2 L2205.9 1079.2 L2207.9 1079.2 L2209.9 1079.3 L2211.9 1079.3 L2213.9 1079.3 L2215.9 1079.3 L2217.9 1079.3 L2219.9 1079.4 L2221.9 1079.4 L2223.9 1079.4 L2225.9 1079.5 L2227.9 1079.5 L2229.9 1079.6 L2232.0 1079.6 L2234.0 1079.7 L2236.0 1079.7 L2238.0 1079.8 L2240.0 1079.8 L2242.1 1079.9 L2244.1 1080.0 L2246.1 1080.1 L2248.2 1080.2 L2250.2 1080.2 L2252.2 1080.3 L2254.3 1080.4 L2256.3 1080.5 L2258.3 1080.6 L2260.4 1080.8 L2262.4 1080.9 L2264.5 1081.0 L2266.5 1081.1 L2268.6 1081.2 L2270.6 1081.4 L2272.7 1081.5 L2274.7 1081.7 L2276.8 1081.8 L2278.8 1082.0 L2279.5 1082.0" stroke="#18ea18"/>
<path d="M377.6 1088.2 L379.6 1088.0 L381.6 1087.8 L383.6 1087.7 L385.6 1087.5 L387.6 1087.4 L389.6 1087.2 L391.6 1087.1 L393.6 1087.0 L395.6 1086.9 L397.6 1086.7 L399.6 1086.6 L401.6 1086.5 L403.6 1086.4 L405.6 1086.3 L407.6 1086.3 L409.6 1086.2 L411.6 1086.1 L413.6 1086.0 L415.6 1086.0 L417.6 1085.9 L419.6 1085.9 L421.6 1085.8 L423.6 1085.8 L425.6 1085.7 L427.6 1085.7 L429.6 1085.6 L431.6 1085.6 L433.6 1085.6 L435.6 1085.6 L437.6 1085.6 L439.6 1085.5 L441.6 1085.5 L443.6 1085.5 L445.6 1085.5 L447.6 1085.5 L449.6 1085.5 L451.6 1085.5 L453.6 1085.6 L455.6 1085.6 L457.6 1085.6 L459.6 1085.6 L461.6 1085.6 L463.6 1085.7 L465.6 1085.7 L467.6 1085.7 L469.6 1085.8 L471.6 1085.8 L473.6 1085.8 L475.6 1085.9 L477.6 1085.9 L479.6 1086.0 L481.6 1086.0 L483.6 1086.1 L485.6 1086.1 L487.6 1086.2 L489.6 1086.2 L491.6 1086.3 L493.6 1086.3 L495.6 1086.4 L497.6 1086.5 L499.6 1086.5 L501.6 1086.6 L503.6 1086.7 L505.6 1086.7 L507.6 1086.8 L509.6 1086.8 L511.6 1086.9 L513.6 1087.0 L515.6 1087.1 L517.6 1087.1 L519.6 1087.2 L521.6 1087.3 L523.6 1087.3 L525.6 1087.4 L527.6 1087.5 L529.6 1087.5 L531.6 1087.6 L533.6 1087.7 L535.6 1087.7 L537.6 1087.8 L539.6 1087.9 L541.6 1087.9 L543.6 1088.0 L545.6 1088.1 L547.6 1088.1 L549.6 1088.2 L551.6 1088.2 L553.6 1088.3 L555.6 1088.4 L557.6 1088.4 L559.6 1088.5 L561.6 1088.5 L563.6 1088.6 L565.6 1088.6 L567.6 1088.7 L569.6 1088.7 L571.6 1088.7 L573.6 1088.8 L575.6 1088.8 L577.6 1088.9 L579.6 1088.9 L581.6 1088.9 L583.6 1088.9 L585.6 1089.0 L587.6 1089.0 L589.6 1089.0 L591.6 1089.0 L593.6 1089.0 L595.6 1089.0 L597.6 1089.1 L599.6 1089.1 L601.6 1089.1 L603.6 1089.0 L605.6 1089.0 L607.6 1089.0 L609.6 1089.0 L611.6 1089.0 L613.6 1089.0 L615.6 1088.9 L617.6 1088.9 L619.6 1088.9 L621.6 1088.8 L623.6 1088.8 L625.6 1088.7 L627.6 1088.7 L629.6 1088.6 L631.6 1088.5 L633.6 1088.5 L635.6 1088.4 L637.6 1088.3 L639.6 1088.2 L641.6 1088.1 L643.6 1088.0 L645.6 1087.9 L647.6 1087.8 L649.6 1087.7 L651.6 1087.6 L653.6 1087.5 L655.6 1087.3 L657.7 1087.2 L659.7 1087.0 L661.7 1086.9 L663.7 1086.7 L665.7 1086.6 L667.7 1086.4 L669.7 1086.2 L671.7 1086.0 L673.7 1085.8 L675.7 1085.6 L677.7 1085.4 L679.7 1085.2 L681.7 1085.0 L683.7 1084.8 L685.7 1084.5 L687.7 1084.3 L689.7 1084.0 L691.7 1083.8 L693.7 1083.5 L695.7 1083.2 L697.7 1082.8 L699.6 1082.5 L701.6 1082.1 L703.6 1081.8 L705.5 1081.4 L707.4 1080.9 L709.4 1080.5 L711.3 1080.0 L713.1 1079.5 L715.0 1078.9 L716.9 1078.4 L718.7 1077.8 L720.5 1077.1 L722.4 1076.5 L724.1 1075.7 L725.9 1075.0 L727.7 1074.2 L729.4 1073.4 L731.1 1072.5 L732.8 1071.6 L734.4 1070.7 L736.0 1069.7 L737.6 1068.6 L739.2 1067.6 L740.8 1066.4 L742.3 1065.2 L743.8 1064.0 L745.2 1062.7 L746.6 1061.4 L748.0 1060.0 L749.4 1058.6 L750.8 1057.1 L752.1 1055.6 L753.4 1054.0 L754.6 1052.5 L755.9 1050.9 L757.1 1049.2 L758.3 1047.6 L759.5 1045.9 L760.7 1044.1 L761.8 1042.4 L763.0 1040.6 L764.1 1038.9 L765.2 1037.1 L766.2 1035.3 L767.3 1033.5 L768.4 1031.6 L769.4 1029.8 L770.4 1028.0 L771.4 1026.1 L772.4 1024.3 L773.4 1022.4 L774.4 1020.6 L775.4 1018.8 L776.4 1017.0 L777.3 1015.2 L778.3 1013.4 L779.2 1011.6 L780.2 1009.8 L781.1 1008.0 L782.1 1006.3 L783.0 1004.5 L783.9 1002.8 L784.8 1001.1 L785.8 999.3 L786.7 997.6 L787.6 995.9 L788.5 994.2 L789.4 992.4 L790.3 990.7 L791.2 989.0 L792.0 987.3 L792.9 985.6 L793.8 983.9 L794.7 982.1 L795.6 980.4 L796.4 978.7 L797.3 977.0 L798.2 975.2 L799.0 973.5 L799.9 971.7 L800.8 970.0 L801.6 968.2 L802.5 966.4 L803.3 964.7 L804.2 962.9 L805.0 961.1 L805.9 959.3 L806.8 957.5 L807.6 955.7 L808.5 953.9 L809.4 952.1 L810.2 950.2 L811.1 948.4 L812.0 946.6 L812.9 944.8 L813.8 943.0 L814.7 941.2 L815.6 939.4 L816.5 937.6 L817.4 935.8 L818.3 934.0 L819.3 932.2 L820.2 930.4 L821.2 928.7 L822.1 926.9 L823.1 925.1 L824.1 923.4 L825.1 921.7 L826.2 919.9 L827.2 918.2 L828.3 916.5 L829.4 914.9 L830.5 913.2 L831.6 911.6 L832.8 910.0 L834.0 908.4 L835.2 906.8 L836.4 905.2 L837.7 903.7 L839.0 902.2 L840.3 900.7 L841.7 899.3 L843.1 897.9 L844.5 896.5 L846.0 895.1 L847.5 893.8 L849.1 892.5 L850.7 891.3 L852.3 890.1 L854.0 889.0 L855.7 887.9 L857.5 886.9 L859.2 886.0 L861.1 885.2 L862.9 884.5 L864.8 883.9 L866.8 883.4 L868.7 883.0 L870.7 882.7 L872.7 882.6 L874.7 882.6 L876.6 882.7 L878.6 882.9 L880.6 883.3 L882.5 883.7 L884.4 884.3 L886.3 885.0 L888.2 885.8 L890.0 886.7 L891.7 887.6 L893.5 888.6 L895.2 889.7 L896.8 890.8 L898.4 892.0 L899.9 893.3 L901.4 894.5 L902.9 895.9 L904.4 897.3 L905.8 898.7 L907.1 900.1 L908.5 901.6 L909.8 903.2 L911.1 904.7 L912.3 906.3 L913.6 907.9 L914.8 909.5 L916.0 911.2 L917.2 912.9 L918.3 914.5 L919.5 916.2 L920.6 917.9 L921.7 919.6 L922.8 921.3 L923.9 923.0 L925.0 924.7 L926.1 926.4 L927.2 928.1 L928.3 929.8 L929.4 931.5 L930.5 933.1 L931.6 934.7 L932.7 936.3 L933.8 938.0 L934.9 939.6 L936.0 941.2 L937.1 942.8 L938.2 944.4 L939.2 946.0 L940.3 947.6 L941.4 949.3 L942.4 950.9 L943.5 952.6 L944.5 954.3 L945.6 956.0 L946.6 957.6 L947.7 959.3 L948.7 961.1 L949.7 962.8 L950.8 964.5 L951.8 966.2 L952.9 967.9 L953.9 969.6 L955.0 971.3 L956.0 973.0 L957.1 974.7 L958.2 976.4 L959.3 978.1 L960.4 979.8 L961.5 981.5 L962.6 983.1 L963.7 984.8 L964.9 986.5 L966.0 988.1 L967.1 989.8 L968.3 991.5 L969.4 993.1 L970.6 994.8 L971.7 996.4 L972.9 998.0 L974.1 999.7 L975.3 1001.3 L976.4 1002.9 L977.6 1004.5 L978.8 1006.1 L980.1 1007.7 L981.3 1009.3 L982.5 1010.9 L983.7 1012.5 L985.0 1014.1 L986.3 1015.6 L987.5 1017.2 L988.8 1018.7 L990.1 1020.2 L991.4 1021.8 L992.7 1023.3 L994.0 1024.8 L995.3 1026.3 L996.7 1027.7 L998.0 1029.2 L999.4 1030.6 L1000.8 1032.1 L1002.2 1033.5 L1003.6 1034.9 L1005.0 1036.3 L1006.4 1037.7 L1007.8 1039.1 L1009.3 1040.4 L1010.8 1041.8 L1012.3 1043.1 L1013.7 1044.4 L1015.3 1045.7 L1016.8 1047.0 L1018.3 1048.3 L1019.9 1049.5 L1021.4 1050.8 L1023.0 1052.0 L1024.6 1053.2 L1026.2 1054.4 L1027.9 1055.5 L1029.5 1056.7 L1031.2 1057.8 L1032.9 1058.9 L1034.6 1060.0 L1036.3 1061.1 L1038.0 1062.1 L1039.8 1063.1 L1041.6 1064.1 L1043.4 1065.1 L1045.2 1066.1 L1047.0 1067.0 L1048.8 1067.9 L1050.7 1068.8 L1052.5 1069.7 L1054.4 1070.5 L1056.3 1071.3 L1058.2 1072.1 L1060.1 1072.9 L1062.0 1073.6 L1063.9 1074.3 L1065.9 1074.9 L1067.8 1075.5 L1069.7 1076.1 L1071.7 1076.7 L1073.6 1077.2 L1075.6 1077.7 L1077.5 1078.1 L1079.5 1078.5 L1081.4 1078.8 L1083.4 1079.2 L1085.3 1079.4 L1087.2 1079.7 L1089.2 1079.9 L1091.1 1080.0 L1093.1 1080.2 L1095.0 1080.2 L1097.0 1080.3 L1098.9 1080.3 L1100.8 1080.3 L1102.8 1080.3 L1104.7 1080.2 L1106.6 1080.1 L1108.6 1079.9 L1110.5 1079.8 L1112.5 1079.6 L1114.4 1079.4 L1116.3 1079.1 L1118.3 1078.9 L1120.2 1078.6 L1122.1 1078.2 L1124.1 1077.9 L1126.0 1077.5 L1127.9 1077.1 L1129.9 1076.7 L1131.8 1076.3 L1133.7 1075.9 L1135.7 1075.4 L1137.6 1074.9 L1139.5 1074.4 L1141.5 1073.9 L1143.4 1073.4 L1145.4 1072.9 L1147.3 1072.3 L1149.2 1071.7 L1151.2 1071.2 L1153.1 1070.6 L1155.1 1070.0 L1157.0 1069.4 L1158.9 1068.8 L1160.9 1068.1 L1162.8 1067.5 L1164.8 1066.9 L1166.7 1066.2 L1168.7 1065.6 L1170.6 1064.9 L1172.5 1064.3 L1174.5 1063.6 L1176.4 1062.9 L1178.4 1062.2 L1180.3 1061.5 L1182.2 1060.8 L1184.1 1060.1 L1186.0 1059.3 L1188.0 1058.6 L1189.9 1057.8 L1191.8 1057.1 L1193.7 1056.3 L1195.5 1055.5 L1197.4 1054.7 L1199.3 1053.9 L1201.2 1053.0 L1203.0 1052.2 L1204.8 1051.3 L1206.7 1050.5 L1208.5 1049.6 L1210.3 1048.7 L1212.1 1047.8 L1213.9 1046.8 L1215.7 1045.9 L1217.4 1044.9 L1219.2 1043.9 L1220.9 1042.9 L1222.7 1041.9 L1224.4 1040.9 L1226.1 1039.8 L1227.7 1038.7 L1229.4 1037.7 L1231.1 1036.6 L1232.7 1035.4 L1234.3 1034.3 L1235.9 1033.1 L1237.5 1031.9 L1239.0 1030.7 L1240.6 1029.5 L1242.1 1028.3 L1243.6 1027.0 L1245.1 1025.7 L1246.6 1024.5 L1248.1 1023.2 L1249.5 1021.8 L1251.0 1020.5 L1252.4 1019.2 L1253.8 1017.8 L1255.2 1016.4 L1256.6 1015.0 L1258.0 1013.6 L1259.4 1012.2 L1260.7 1010.7 L1262.1 1009.3 L1263.4 1007.8 L1264.7 1006.4 L1266.0 1004.9 L1267.3 1003.4 L1268.6 1001.9 L1269.8 1000.3 L1271.1 998.8 L1272.3 997.3 L1273.6 995.7 L1274.8 994.2 L1276.0 992.6 L1277.2 991.0 L1278.4 989.4 L1279.6 987.8 L1280.8 986.2 L1282.0 984.6 L1283.1 983.0 L1284.3 981.3 L1285.5 979.7 L1286.6 978.1 L1287.7 976.4 L1288.9 974.7 L1290.0 973.1 L1291.1 971.4 L1292.2 969.7 L1293.3 968.1 L1294.4 966.4 L1295.5 964.7 L1296.6 963.0 L1297.6 961.3 L1298.7 959.6 L1299.8 957.9 L1300.8 956.2 L1301.9 954.5 L1303.0 952.8 L1304.0 951.1 L1305.1 949.3 L1306.1 947.6 L1307.1 945.9 L1308.2 944.2 L1309.2 942.5 L1310.2 940.8 L1311.3 939.0 L1312.3 937.3 L1313.3 935.6 L1314.3 933.9 L1315.4 932.1 L1316.4 930.4 L1317.4 928.7 L1318.4 927.0 L1319.4 925.2 L1320.4 923.5 L1321.4 921.8 L1322.4 920.1 L1323.4 918.3 L1324.4 916.6 L1325.4 914.9 L1326.4 913.1 L1327.4 911.4 L1328.4 909.7 L1329.4 907.9 L1330.4 906.2 L1331.4 904.5 L1332.4 902.8 L1333.4 901.0 L1334.4 899.3 L1335.4 897.6 L1336.4 895.8 L1337.4 894.1 L1338.4 892.4 L1339.4 890.7 L1340.4 888.9 L1341.4 887.2 L1342.4 885.5 L1343.4 883.7 L1344.4 882.0 L1345.4 880.3 L1346.4 878.6 L1347.4 876.9 L1348.4 875.1 L1349.4 873.4 L1350.4 871.7 L1351.4 870.0 L1352.5 868.3 L1353.5 866.5 L1354.5 864.8 L1355.5 863.1 L1356.5 861.4 L1357.6 859.7 L1358.6 858.0 L1359.6 856.3 L1360.6 854.6 L1361.7 852.9 L1362.7 851.2 L1363.8 849.5 L1364.8 847.8 L1365.8 846.1 L1366.9 844.4 L1368.0 842.7 L1369.0 841.0 L1370.1 839.3 L1371.1 837.6 L1372.2 835.9 L1373.3 834.3 L1374.4 832.6 L1375.5 830.9 L1376.5 829.2 L1377.6 827.6 L1378.7 825.9 L1379.8 824.2 L1381.0 822.6 L1382.1 820.9 L1383.2 819.2 L1384.3 817.6 L1385.4 815.9 L1386.6 814.3 L1387.7 812.7 L1388.9 811.0 L1390.0 809.4 L1391.2 807.8 L1392.4 806.1 L1393.6 804.5 L1394.8 802.9 L1396.0 801.3 L1397.2 799.7 L1398.4 798.1 L1399.6 796.5 L1400.8 795.0 L1402.1 793.4 L1403.3 791.8 L1404.6 790.3 L1405.9 788.8 L1407.2 787.2 L1408.5 785.7 L1409.8 784.2 L1411.1 782.7 L1412.4 781.2 L1413.8 779.7 L1415.1 778.2 L1416.5 776.7 L1417.9 775.3 L1419.3 773.9 L1420.7 772.4 L1422.1 771.0 L1423.6 769.6 L1425.0 768.2 L1426.5 766.8 L1428.0 765.4 L1429.5 764.1 L1431.0 762.7 L1432.5 761.4 L1434.1 760.1 L1435.6 758.8 L1437.2 757.5 L1438.8 756.2 L1440.4 755.0 L1442.0 753.7 L1443.7 752.5 L1445.3 751.3 L1447.0 750.1 L1448.7 748.9 L1450.4 747.8 L1452.2 746.6 L1453.9 745.5 L1455.7 744.4 L1457.5 743.3 L1459.3 742.3 L1461.1 741.2 L1462.9 740.3 L1464.7 739.3 L1466.6 738.4 L1468.4 737.4 L1470.3 736.6 L1472.1 735.7 L1474.0 734.9 L1475.9 734.2 L1477.7 733.5 L1479.6 732.8 L1481.5 732.2 L1483.4 731.6 L1485.3 731.0 L1487.2 730.5 L1489.1 730.1 L1490.9 729.7 L1492.8 729.4 L1494.7 729.1 L1496.6 728.8 L1498.4 728.7 L1500.3 728.6 L1502.2 728.5 L1504.0 728.5 L1505.9 728.6 L1507.7 728.7 L1509.5 728.9 L1511.3 729.1 L1513.1 729.4 L1514.9 729.7 L1516.7 730.1 L1518.5 730.6 L1520.3 731.1 L1522.1 731.7 L1523.8 732.3 L1525.6 732.9 L1527.3 733.6 L1529.1 734.3 L1530.8 735.1 L1532.5 735.9 L1534.2 736.8 L1535.9 737.7 L1537.6 738.7 L1539.3 739.6 L1541.0 740.7 L1542.7 741.7 L1544.4 742.8 L1546.0 743.9 L1547.7 745.1 L1549.3 746.2 L1551.0 747.4 L1552.6 748.7 L1554.3 749.9 L1555.9 751.2 L1557.5 752.5 L1559.1 753.9 L1560.7 755.2 L1562.3 756.6 L1563.9 758.0 L1565.4 759.4 L1567.0 760.8 L1568.6 762.2 L1570.1 763.7 L1571.7 765.2 L1573.2 766.6 L1574.8 768.1 L1576.3 769.6 L1577.8 771.1 L1579.3 772.7 L1580.8 774.2 L1582.3 775.7 L1583.8 777.2 L1585.3 778.8 L1586.8 780.3 L1588.3 781.8 L1589.8 783.3 L1591.2 784.9 L1592.7 786.4 L1594.1 787.9 L1595.6 789.4 L1597.0 790.9 L1598.4 792.4 L1599.9 793.9 L1601.3 795.4 L1602.7 796.8 L1604.1 798.3 L1605.5 799.8 L1606.9 801.2 L1608.3 802.7 L1609.6 804.1 L1611.0 805.6 L1612.4 807.0 L1613.7 808.5 L1615.1 809.9 L1616.4 811.4 L1617.8 812.8 L1619.1 814.2 L1620.4 815.7 L1621.8 817.1 L1623.1 818.5 L1624.4 820.0 L1625.7 821.4 L1627.0 822.9 L1628.3 824.3 L1629.6 825.8 L1630.9 827.2 L1632.1 828.7 L1633.4 830.1 L1634.7 831.6 L1635.9 833.0 L1637.2 834.5 L1638.4 836.0 L1639.7 837.5 L1640.9 838.9 L1642.1 840.4 L1643.4 841.9 L1644.6 843.4 L1645.8 844.9 L1647.0 846.5 L1648.2 848.0 L1649.4 849.5 L1650.6 851.1 L1651.8 852.6 L1653.0 854.2 L1654.1 855.7 L1655.3 857.3 L1656.5 858.9 L1657.7 860.5 L1658.8 862.1 L1660.0 863.7 L1661.1 865.3 L1662.3 866.9 L1663.4 868.5 L1664.6 870.2 L1665.7 871.8 L1666.9 873.4 L1668.0 875.1 L1669.1 876.7 L1670.3 878.4 L1671.4 880.0 L1672.5 881.7 L1673.7 883.3 L1674.8 885.0 L1675.9 886.7 L1677.1 888.3 L1678.2 890.0 L1679.3 891.7 L1680.5 893.3 L1681.6 895.0 L1682.7 896.7 L1683.9 898.4 L1685.0 900.0 L1686.1 901.7 L1687.3 903.4 L1688.4 905.1 L1689.6 906.7 L1690.7 908.4 L1691.9 910.1 L1693.0 911.7 L1694.2 913.4 L1695.3 915.0 L1696.5 916.7 L1697.6 918.4 L1698.8 920.0 L1700.0 921.7 L1701.2 923.3 L1702.4 924.9 L1703.6 926.6 L1704.7 928.2 L1705.9 929.8 L1707.2 931.4 L1708.4 933.0 L1709.6 934.7 L1710.8 936.3 L1712.0 937.8 L1713.3 939.4 L1714.5 941.0 L1715.8 942.6 L1717.0 944.1 L1718.3 945.7 L1719.6 947.2 L1720.9 948.8 L1722.2 950.3 L1723.5 951.8 L1724.8 953.3 L1726.1 954.8 L1727.4 956.3 L1728.8 957.8 L1730.1 959.2 L1731.5 960.7 L1732.9 962.1 L1734.2 963.6 L1735.6 965.0 L1737.0 966.4 L1738.4 967.8 L1739.9 969.2 L1741.3 970.5 L1742.7 971.9 L1744.2 973.3 L1745.6 974.6 L1747.1 975.9 L1748.6 977.3 L1750.0 978.6 L1751.5 979.9 L1753.0 981.2 L1754.5 982.5 L1756.0 983.8 L1757.6 985.1 L1759.1 986.4 L1760.6 987.6 L1762.2 988.9 L1763.7 990.1 L1765.2 991.4 L1766.8 992.6 L1768.4 993.9 L1769.9 995.1 L1771.5 996.4 L1773.1 997.6 L1774.6 998.8 L1776.2 1000.1 L1777.8 1001.3 L1779.4 1002.5 L1781.0 1003.7 L1782.6 1005.0 L1784.2 1006.2 L1785.8 1007.4 L1787.4 1008.6 L1789.0 1009.8 L1790.6 1011.0 L1792.2 1012.3 L1793.8 1013.5 L1795.4 1014.7 L1797.0 1015.9 L1798.6 1017.1 L1800.2 1018.3 L1801.8 1019.5 L1803.5 1020.7 L1805.1 1021.9 L1806.7 1023.1 L1808.3 1024.3 L1810.0 1025.5 L1811.6 1026.7 L1813.2 1027.9 L1814.9 1029.1 L1816.5 1030.2 L1818.2 1031.4 L1819.8 1032.6 L1821.5 1033.7 L1823.1 1034.8 L1824.8 1036.0 L1826.5 1037.1 L1828.1 1038.2 L1829.8 1039.3 L1831.5 1040.4 L1833.2 1041.5 L1834.9 1042.6 L1836.6 1043.6 L1838.3 1044.7 L1840.0 1045.7 L1841.7 1046.7 L1843.4 1047.8 L1845.2 1048.8 L1846.9 1049.7 L1848.6 1050.7 L1850.4 1051.7 L1852.1 1052.6 L1853.9 1053.6 L1855.6 1054.5 L1857.4 1055.4 L1859.2 1056.2 L1861.0 1057.1 L1862.7 1058.0 L1864.5 1058.8 L1866.3 1059.6 L1868.2 1060.4 L1870.0 1061.2 L1871.8 1061.9 L1873.6 1062.7 L1875.5 1063.4 L1877.3 1064.1 L1879.2 1064.8 L1881.0 1065.4 L1882.9 1066.1 L1884.8 1066.7 L1886.7 1067.3 L1888.5 1067.9 L1890.4 1068.5 L1892.3 1069.0 L1894.2 1069.6 L1896.2 1070.1 L1898.1 1070.6 L1900.0 1071.1 L1901.9 1071.6 L1903.9 1072.1 L1905.8 1072.5 L1907.7 1073.0 L1909.7 1073.4 L1911.6 1073.8 L1913.6 1074.2 L1915.6 1074.6 L1917.5 1075.0 L1919.5 1075.3 L1921.5 1075.7 L1923.4 1076.0 L1925.4 1076.3 L1927.4 1076.6 L1929.4 1076.9 L1931.4 1077.2 L1933.4 1077.5 L1935.4 1077.8 L1937.4 1078.0 L1939.4 1078.3 L1941.4 1078.5 L1943.4 1078.8 L1945.4 1079.0 L1947.4 1079.2 L1949.4 1079.4 L1951.5 1079.6 L1953.5 1079.8 L1955.5 1080.0 L1957.5 1080.1 L1959.5 1080.3 L1961.6 1080.5 L1963.6 1080.6 L1965.6 1080.8 L1967.6 1080.9 L1969.7 1081.1 L1971.7 1081.2 L1973.7 1081.3 L1975.7 1081.4 L1977.8 1081.5 L1979.8 1081.7 L1981.8 1081.8 L1983.9 1081.9 L1985.9 1082.0 L1987.9 1082.1 L1989.9 1082.2 L1992.0 1082.3 L1994.0 1082.3 L1996.0 1082.4 L1998.0 1082.5 L2000.0 1082.6 L2002.1 1082.7 L2004.1 1082.8 L2006.1 1082.8 L2008.1 1082.9 L2010.1 1083.0 L2012.1 1083.1 L2014.1 1083.1 L2016.1 1083.2 L2018.1 1083.3 L2020.1 1083.4 L2022.1 1083.4 L2024.1 1083.5 L2026.1 1083.6 L2028.1 1083.6 L2030.1 1083.7 L2032.1 1083.7 L2034.1 1083.8 L2036.1 1083.9 L2038.1 1083.9 L2040.1 1084.0 L2042.1 1084.0 L2044.1 1084.1 L2046.1 1084.1 L2048.1 1084.2 L2050.1 1084.2 L2052.0 1084.3 L2054.0 1084.3 L2056.0 1084.4 L2058.0 1084.4 L2060.0 1084.5 L2062.0 1084.5 L2063.9 1084.5 L2065.9 1084.6 L2067.9 1084.6 L2069.9 1084.7 L2071.9 1084.7 L2073.8 1084.7 L2075.8 1084.8 L2077.8 1084.8 L2079.8 1084.8 L2081.8 1084.9 L2083.7 1084.9 L2085.7 1084.9 L2087.7 1085.0 L2089.7 1085.0 L2091.6 1085.0 L2093.6 1085.0 L2095.6 1085.1 L2097.6 1085.1 L2099.5 1085.1 L2101.5 1085.1 L2103.5 1085.1 L2105.4 1085.2 L2107.4 1085.2 L2109.4 1085.2 L2111.4 1085.2 L2113.3 1085.2 L2115.3 1085.3 L2117.3 1085.3 L2119.3 1085.3 L2121.2 1085.3 L2123.2 1085.3 L2125.2 1085.3 L2127.1 1085.3 L2129.1 1085.3 L2131.1 1085.4 L2133.1 1085.4 L2135.0 1085.4 L2137.0 1085.4 L2139.0 1085.4 L2141.0 1085.4 L2142.9 1085.4 L2144.9 1085.4 L2146.9 1085.4 L2148.9 1085.4 L2150.8 1085.4 L2152.8 1085.4 L2154.8 1085.4 L2156.8 1085.4 L2158.8 1085.4 L2160.7 1085.4 L2162.7 1085.4 L2164.7 1085.4 L2166.7 1085.4 L2168.7 1085.4 L2170.6 1085.4 L2172.6 1085.4 L2174.6 1085.4 L2176.6 1085.4 L2178.6 1085.4 L2180.6 1085.4 L2182.6 1085.4 L2184.6 1085.4 L2186.5 1085.4 L2188.5 1085.4 L2190.5 1085.4 L2192.5 1085.4 L2194.5 1085.4 L2196.5 1085.4 L2198.5 1085.4 L2200.5 1085.4 L2202.5 1085.4 L2204.5 1085.3 L2206.5 1085.3 L2208.5 1085.3 L2210.5 1085.3 L2212.5 1085.3 L2214.5 1085.3 L2216.5 1085.3 L2218.5 1085.3 L2220.6 1085.3 L2222.6 1085.3 L2224.6 1085.3 L2226.6 1085.2 L2228.6 1085.2 L2230.6 1085.2 L2232.7 1085.2 L2234.7 1085.2 L2236.7 1085.2 L2238.7 1085.2 L2240.7 1085.2 L2242.8 1085.2 L2244.8 1085.2 L2246.8 1085.1 L2248.9 1085.1 L2250.9 1085.1 L2252.9 1085.1 L2255.0 1085.1 L2257.0 1085.1 L2259.1 1085.1 L2261.1 1085.1 L2263.2 1085.1 L2265.2 1085.1 L2267.3 1085.0 L2269.3 1085.0 L2271.4 1085.0 L2273.4 1085.0 L2275.5 1085.0 L2277.5 1085.0 L2279.5 1085.0" stroke="#f7f729"/>
<path d="M377.6 1088.0 L379.7 1088.1 L381.7 1088.2 L383.8 1088.3 L385.8 1088.4 L387.9 1088.5 L389.9 1088.6 L392.0 1088.6 L394.0 1088.7 L396.1 1088.8 L398.1 1088.8 L400.1 1088.9 L402.2 1089.0 L404.2 1089.0 L406.2 1089.0 L408.3 1089.1 L410.3 1089.1 L412.3 1089.1 L414.3 1089.2 L416.3 1089.2 L418.4 1089.2 L420.4 1089.2 L422.4 1089.2 L424.4 1089.2 L426.4 1089.2 L428.4 1089.2 L430.4 1089.2 L432.4 1089.2 L434.4 1089.2 L436.4 1089.2 L438.4 1089.1 L440.4 1089.1 L442.4 1089.1 L444.4 1089.1 L446.4 1089.0 L448.3 1089.0 L450.3 1089.0 L452.3 1088.9 L454.3 1088.9 L456.3 1088.8 L458.3 1088.8 L460.2 1088.8 L462.2 1088.7 L464.2 1088.7 L466.2 1088.6 L468.1 1088.6 L470.1 1088.5 L472.1 1088.4 L474.1 1088.4 L476.0 1088.3 L478.0 1088.3 L480.0 1088.2 L482.0 1088.1 L483.9 1088.1 L485.9 1088.0 L487.9 1088.0 L489.8 1087.9 L491.8 1087.8 L493.8 1087.8 L495.8 1087.7 L497.7 1087.6 L499.7 1087.6 L501.7 1087.5 L503.6 1087.4 L505.6 1087.4 L507.6 1087.3 L509.5 1087.3 L511.5 1087.2 L513.5 1087.1 L515.5 1087.1 L517.4 1087.0 L519.4 1087.0 L521.4 1086.9 L523.3 1086.8 L525.3 1086.8 L527.3 1086.7 L529.3 1086.7 L531.2 1086.6 L533.2 1086.6 L535.2 1086.5 L537.2 1086.5 L539.1 1086.5 L541.1 1086.4 L543.1 1086.4 L545.1 1086.3 L547.1 1086.3 L549.1 1086.3 L551.0 1086.3 L553.0 1086.2 L555.0 1086.2 L557.0 1086.2 L559.0 1086.2 L561.0 1086.2 L563.0 1086.2 L565.0 1086.2 L567.0 1086.2 L569.0 1086.2 L571.0 1086.2 L573.0 1086.2 L575.0 1086.2 L577.0 1086.2 L579.0 1086.2 L581.0 1086.3 L583.0 1086.3 L585.0 1086.3 L587.1 1086.4 L589.1 1086.4 L591.1 1086.5 L593.1 1086.5 L595.2 1086.6 L597.2 1086.6 L599.2 1086.7 L601.3 1086.8 L603.3 1086.9 L605.3 1086.9 L607.4 1087.0 L609.4 1087.1 L611.5 1087.2 L613.5 1087.3 L615.5 1087.4 L617.6 1087.5 L619.6 1087.6 L621.7 1087.7 L623.7 1087.8 L625.8 1087.9 L627.9 1088.0 L629.9 1088.1 L632.0 1088.2 L634.0 1088.3 L636.1 1088.3 L638.1 1088.4 L640.2 1088.5 L642.2 1088.6 L644.3 1088.6 L646.3 1088.7 L648.3 1088.7 L650.4 1088.8 L652.4 1088.8 L654.5 1088.8 L656.5 1088.8 L658.5 1088.8 L660.6 1088.8 L662.6 1088.8 L664.6 1088.7 L666.6 1088.7 L668.7 1088.6 L670.7 1088.6 L672.7 1088.5 L674.7 1088.4 L676.7 1088.3 L678.7 1088.1 L680.7 1088.0 L682.7 1087.8 L684.7 1087.6 L686.6 1087.4 L688.6 1087.2 L690.6 1087.0 L692.5 1086.7 L694.5 1086.4 L696.4 1086.1 L698.4 1085.8 L700.3 1085.5 L702.3 1085.1 L704.2 1084.7 L706.1 1084.3 L708.0 1083.9 L709.9 1083.4 L711.8 1083.0 L713.7 1082.4 L715.6 1081.9 L717.5 1081.3 L719.3 1080.8 L721.2 1080.1 L723.0 1079.5 L724.9 1078.8 L726.7 1078.1 L728.5 1077.4 L730.3 1076.6 L732.1 1075.8 L733.9 1075.0 L735.7 1074.1 L737.4 1073.3 L739.2 1072.4 L740.9 1071.4 L742.6 1070.5 L744.3 1069.5 L746.0 1068.4 L747.6 1067.4 L749.3 1066.3 L750.9 1065.2 L752.5 1064.1 L754.1 1062.9 L755.6 1061.7 L757.1 1060.5 L758.6 1059.3 L760.1 1058.0 L761.6 1056.7 L763.0 1055.4 L764.4 1054.0 L765.8 1052.6 L767.2 1051.2 L768.5 1049.8 L769.8 1048.4 L771.1 1046.9 L772.4 1045.4 L773.7 1043.9 L774.9 1042.3 L776.2 1040.8 L777.4 1039.2 L778.6 1037.7 L779.8 1036.1 L781.0 1034.4 L782.1 1032.8 L783.3 1031.2 L784.5 1029.5 L785.6 1027.9 L786.7 1026.2 L787.9 1024.5 L789.0 1022.8 L790.1 1021.1 L791.2 1019.4 L792.4 1017.7 L793.5 1016.0 L794.6 1014.3 L795.7 1012.6 L796.8 1010.8 L797.9 1009.1 L799.0 1007.4 L800.2 1005.7 L801.3 1003.9 L802.4 1002.2 L803.6 1000.5 L804.7 998.8 L805.9 997.1 L807.1 995.4 L808.2 993.7 L809.4 992.0 L810.6 990.3 L811.8 988.7 L813.1 987.0 L814.3 985.4 L815.6 983.7 L816.9 982.1 L818.2 980.5 L819.5 978.9 L820.8 977.4 L822.2 975.8 L823.6 974.3 L825.0 972.8 L826.4 971.3 L827.9 969.8 L829.3 968.3 L830.8 966.9 L832.4 965.5 L833.9 964.2 L835.5 962.9 L837.1 961.6 L838.7 960.4 L840.3 959.2 L842.0 958.0 L843.6 956.9 L845.3 955.9 L847.0 954.9 L848.7 954.0 L850.5 953.1 L852.2 952.3 L854.0 951.5 L855.8 950.9 L857.6 950.3 L859.4 949.8 L861.2 949.3 L863.1 949.0 L864.9 948.7 L866.8 948.5 L868.6 948.3 L870.5 948.3 L872.4 948.3 L874.2 948.4 L876.1 948.5 L878.0 948.7 L879.9 949.0 L881.8 949.4 L883.6 949.8 L885.5 950.2 L887.4 950.7 L889.2 951.3 L891.1 951.9 L892.9 952.6 L894.7 953.3 L896.6 954.1 L898.4 954.9 L900.1 955.8 L901.9 956.7 L903.7 957.7 L905.4 958.6 L907.1 959.7 L908.8 960.7 L910.4 961.8 L912.1 963.0 L913.7 964.1 L915.3 965.3 L916.9 966.5 L918.4 967.8 L919.9 969.0 L921.4 970.3 L922.9 971.6 L924.4 973.0 L925.9 974.3 L927.3 975.7 L928.7 977.1 L930.2 978.6 L931.6 980.0 L933.0 981.5 L934.3 982.9 L935.7 984.4 L937.1 985.9 L938.4 987.4 L939.8 988.9 L941.1 990.5 L942.4 992.0 L943.8 993.6 L945.1 995.1 L946.4 996.7 L947.7 998.2 L949.0 999.8 L950.3 1001.4 L951.7 1002.9 L953.0 1004.5 L954.3 1006.1 L955.6 1007.6 L956.9 1009.2 L958.3 1010.8 L959.6 1012.3 L960.9 1013.8 L962.3 1015.4 L963.6 1016.9 L965.0 1018.4 L966.4 1019.9 L967.7 1021.4 L969.1 1022.9 L970.5 1024.3 L972.0 1025.8 L973.4 1027.2 L974.8 1028.6 L976.3 1030.0 L977.8 1031.4 L979.3 1032.7 L980.8 1034.0 L982.3 1035.3 L983.9 1036.6 L985.4 1037.9 L987.0 1039.1 L988.6 1040.3 L990.2 1041.5 L991.8 1042.7 L993.5 1043.9 L995.1 1045.0 L996.8 1046.1 L998.5 1047.2 L1000.1 1048.3 L1001.8 1049.3 L1003.5 1050.4 L1005.3 1051.4 L1007.0 1052.4 L1008.7 1053.3 L1010.5 1054.3 L1012.3 1055.2 L1014.0 1056.1 L1015.8 1057.0 L1017.6 1057.9 L1019.4 1058.7 L1021.2 1059.6 L1023.1 1060.4 L1024.9 1061.2 L1026.7 1061.9 L1028.6 1062.7 L1030.4 1063.4 L1032.3 1064.1 L1034.1 1064.8 L1036.0 1065.5 L1037.9 1066.1 L1039.8 1066.8 L1041.7 1067.4 L1043.5 1068.0 L1045.4 1068.5 L1047.3 1069.1 L1049.3 1069.6 L1051.2 1070.1 L1053.1 1070.6 L1055.0 1071.1 L1056.9 1071.6 L1058.8 1072.0 L1060.8 1072.5 L1062.7 1072.9 L1064.7 1073.3 L1066.6 1073.7 L1068.5 1074.0 L1070.5 1074.4 L1072.4 1074.7 L1074.4 1075.1 L1076.4 1075.4 L1078.3 1075.7 L1080.3 1076.0 L1082.2 1076.3 L1084.2 1076.5 L1086.2 1076.8 L1088.2 1077.1 L1090.1 1077.3 L1092.1 1077.6 L1094.1 1077.8 L1096.1 1078.0 L1098.1 1078.2 L1100.1 1078.5 L1102.1 1078.7 L1104.0 1078.9 L1106.0 1079.1 L1108.0 1079.3 L1110.0 1079.5 L1112.0 1079.6 L1114.0 1079.8 L1116.0 1080.0 L1118.0 1080.2 L1120.0 1080.4 L1122.0 1080.5 L1124.0 1080.7 L1126.0 1080.8 L1128.0 1081.0 L1130.0 1081.1 L1132.1 1081.2 L1134.1 1081.4 L1136.1 1081.5 L1138.1 1081.6 L1140.1 1081.7 L1142.1 1081.7 L1144.1 1081.8 L1146.1 1081.9 L1148.1 1081.9 L1150.1 1081.9 L1152.1 1081.9 L1154.1 1081.9 L1156.1 1081.9 L1158.2 1081.8 L1160.2 1081.7 L1162.2 1081.6 L1164.2 1081.5 L1166.2 1081.4 L1168.2 1081.3 L1170.2 1081.1 L1172.2 1080.9 L1174.2 1080.7 L1176.2 1080.4 L1178.2 1080.1 L1180.2 1079.8 L1182.2 1079.5 L1184.2 1079.2 L1186.2 1078.8 L1188.1 1078.4 L1190.1 1078.0 L1192.1 1077.5 L1194.0 1077.0 L1196.0 1076.5 L1197.9 1076.0 L1199.9 1075.4 L1201.8 1074.9 L1203.7 1074.3 L1205.6 1073.6 L1207.5 1073.0 L1209.4 1072.3 L1211.3 1071.5 L1213.1 1070.8 L1214.9 1070.0 L1216.8 1069.2 L1218.6 1068.4 L1220.3 1067.5 L1222.1 1066.7 L1223.9 1065.8 L1225.6 1064.8 L1227.3 1063.8 L1229.0 1062.8 L1230.7 1061.8 L1232.3 1060.8 L1233.9 1059.7 L1235.5 1058.6 L1237.1 1057.5 L1238.7 1056.3 L1240.2 1055.1 L1241.8 1053.9 L1243.3 1052.7 L1244.8 1051.4 L1246.2 1050.1 L1247.7 1048.8 L1249.1 1047.5 L1250.5 1046.1 L1251.9 1044.8 L1253.3 1043.4 L1254.7 1042.0 L1256.0 1040.6 L1257.4 1039.1 L1258.7 1037.6 L1260.0 1036.2 L1261.3 1034.7 L1262.6 1033.1 L1263.8 1031.6 L1265.1 1030.1 L1266.3 1028.5 L1267.6 1026.9 L1268.8 1025.3 L1270.0 1023.7 L1271.2 1022.1 L1272.4 1020.5 L1273.6 1018.8 L1274.7 1017.2 L1275.9 1015.5 L1277.0 1013.9 L1278.2 1012.2 L1279.3 1010.5 L1280.4 1008.8 L1281.5 1007.1 L1282.7 1005.4 L1283.8 1003.7 L1284.9 1001.9 L1285.9 1000.2 L1287.0 998.5 L1288.1 996.7 L1289.2 995.0 L1290.3 993.2 L1291.3 991.5 L1292.4 989.7 L1293.4 988.0 L1294.5 986.2 L1295.6 984.5 L1296.6 982.7 L1297.7 981.0 L1298.7 979.2 L1299.8 977.5 L1300.8 975.7 L1301.9 974.0 L1302.9 972.2 L1303.9 970.5 L1305.0 968.8 L1306.0 967.0 L1307.1 965.3 L1308.1 963.6 L1309.2 961.8 L1310.2 960.1 L1311.3 958.4 L1312.3 956.7 L1313.3 955.0 L1314.4 953.2 L1315.4 951.5 L1316.5 949.8 L1317.5 948.1 L1318.6 946.4 L1319.6 944.7 L1320.6 943.0 L1321.7 941.3 L1322.7 939.6 L1323.8 937.9 L1324.8 936.2 L1325.8 934.5 L1326.9 932.8 L1327.9 931.1 L1328.9 929.4 L1330.0 927.7 L1331.0 926.0 L1332.1 924.3 L1333.1 922.6 L1334.1 920.9 L1335.2 919.2 L1336.2 917.5 L1337.2 915.8 L1338.3 914.2 L1339.3 912.5 L1340.3 910.8 L1341.4 909.1 L1342.4 907.4 L1343.4 905.7 L1344.5 904.0 L1345.5 902.4 L1346.5 900.7 L1347.6 899.0 L1348.6 897.3 L1349.6 895.6 L1350.7 893.9 L1351.7 892.2 L1352.7 890.5 L1353.7 888.9 L1354.8 887.2 L1355.8 885.5 L1356.8 883.8 L1357.9 882.1 L1358.9 880.4 L1359.9 878.7 L1360.9 877.0 L1362.0 875.3 L1363.0 873.6 L1364.0 871.9 L1365.0 870.3 L1366.1 868.6 L1367.1 866.9 L1368.1 865.2 L1369.1 863.5 L1370.2 861.8 L1371.2 860.1 L1372.2 858.3 L1373.2 856.6 L1374.2 854.9 L1375.3 853.2 L1376.3 851.5 L1377.3 849.8 L1378.3 848.1 L1379.3 846.4 L1380.4 844.7 L1381.4 842.9 L1382.4 841.2 L1383.4 839.5 L1384.4 837.8 L1385.5 836.0 L1386.5 834.3 L1387.5 832.6 L1388.5 830.8 L1389.5 829.1 L1390.5 827.4 L1391.6 825.6 L1392.6 823.9 L1393.6 822.2 L1394.7 820.4 L1395.7 818.7 L1396.7 817.0 L1397.8 815.2 L1398.8 813.5 L1399.9 811.8 L1400.9 810.1 L1402.0 808.3 L1403.0 806.6 L1404.1 804.9 L1405.2 803.2 L1406.2 801.5 L1407.3 799.8 L1408.4 798.1 L1409.5 796.4 L1410.6 794.7 L1411.7 793.1 L1412.9 791.4 L1414.0 789.7 L1415.1 788.1 L1416.3 786.4 L1417.4 784.8 L1418.6 783.1 L1419.8 781.5 L1421.0 779.9 L1422.2 778.3 L1423.4 776.7 L1424.6 775.1 L1425.8 773.5 L1427.1 771.9 L1428.3 770.3 L1429.6 768.8 L1430.9 767.2 L1432.2 765.7 L1433.5 764.2 L1434.8 762.7 L1436.1 761.2 L1437.5 759.7 L1438.8 758.2 L1440.2 756.8 L1441.6 755.3 L1443.0 753.9 L1444.4 752.5 L1445.9 751.1 L1447.3 749.7 L1448.8 748.3 L1450.3 746.9 L1451.8 745.6 L1453.3 744.3 L1454.8 742.9 L1456.4 741.6 L1458.0 740.4 L1459.6 739.1 L1461.2 737.9 L1462.8 736.6 L1464.5 735.4 L1466.1 734.3 L1467.8 733.1 L1469.5 732.0 L1471.2 730.9 L1472.9 729.9 L1474.7 728.9 L1476.4 727.9 L1478.2 727.0 L1479.9 726.1 L1481.7 725.2 L1483.5 724.4 L1485.3 723.6 L1487.2 722.9 L1489.0 722.2 L1490.8 721.6 L1492.7 721.1 L1494.5 720.5 L1496.4 720.1 L1498.3 719.7 L1500.2 719.3 L1502.1 719.0 L1504.0 718.8 L1505.9 718.7 L1507.8 718.6 L1509.7 718.5 L1511.7 718.6 L1513.6 718.7 L1515.5 718.8 L1517.5 719.0 L1519.4 719.3 L1521.3 719.7 L1523.2 720.1 L1525.2 720.5 L1527.1 721.0 L1529.0 721.6 L1530.9 722.2 L1532.8 722.8 L1534.7 723.5 L1536.5 724.3 L1538.4 725.1 L1540.2 725.9 L1542.1 726.8 L1543.9 727.7 L1545.7 728.7 L1547.4 729.7 L1549.2 730.7 L1550.9 731.8 L1552.6 732.9 L1554.3 734.0 L1556.0 735.2 L1557.6 736.4 L1559.2 737.7 L1560.8 738.9 L1562.3 740.2 L1563.9 741.5 L1565.4 742.9 L1566.9 744.2 L1568.4 745.6 L1569.8 747.0 L1571.3 748.4 L1572.7 749.9 L1574.1 751.3 L1575.5 752.8 L1576.9 754.3 L1578.3 755.8 L1579.7 757.3 L1581.0 758.8 L1582.4 760.3 L1583.7 761.8 L1585.1 763.4 L1586.4 764.9 L1587.8 766.4 L1589.1 768.0 L1590.4 769.5 L1591.8 771.0 L1593.1 772.6 L1594.4 774.1 L1595.8 775.6 L1597.1 777.1 L1598.4 778.6 L1599.8 780.1 L1601.1 781.7 L1602.4 783.2 L1603.8 784.7 L1605.1 786.2 L1606.5 787.6 L1607.8 789.1 L1609.1 790.6 L1610.5 792.1 L1611.8 793.6 L1613.2 795.1 L1614.5 796.6 L1615.8 798.1 L1617.2 799.5 L1618.5 801.0 L1619.8 802.5 L1621.2 804.0 L1622.5 805.5 L1623.8 807.0 L1625.1 808.4 L1626.4 809.9 L1627.8 811.4 L1629.1 812.9 L1630.4 814.4 L1631.7 815.9 L1633.0 817.4 L1634.3 818.9 L1635.6 820.4 L1636.9 821.9 L1638.2 823.4 L1639.5 824.9 L1640.7 826.4 L1642.0 827.9 L1643.3 829.4 L1644.6 831.0 L1645.8 832.5 L1647.1 834.0 L1648.3 835.6 L1649.6 837.1 L1650.8 838.6 L1652.0 840.2 L1653.3 841.8 L1654.5 843.3 L1655.7 844.9 L1656.9 846.5 L1658.1 848.1 L1659.3 849.7 L1660.5 851.3 L1661.7 852.9 L1662.8 854.5 L1664.0 856.1 L1665.1 857.7 L1666.3 859.4 L1667.5 861.0 L1668.6 862.6 L1669.7 864.3 L1670.9 865.9 L1672.0 867.6 L1673.1 869.2 L1674.3 870.9 L1675.4 872.6 L1676.5 874.2 L1677.6 875.9 L1678.8 877.5 L1679.9 879.2 L1681.0 880.9 L1682.1 882.5 L1683.2 884.2 L1684.4 885.9 L1685.5 887.5 L1686.6 889.2 L1687.8 890.8 L1688.9 892.5 L1690.0 894.2 L1691.2 895.8 L1692.3 897.4 L1693.5 899.1 L1694.6 900.7 L1695.8 902.4 L1696.9 904.0 L1698.1 905.6 L1699.3 907.2 L1700.5 908.8 L1701.7 910.4 L1702.8 912.0 L1704.0 913.6 L1705.3 915.2 L1706.5 916.8 L1707.7 918.3 L1708.9 919.9 L1710.1 921.5 L1711.4 923.0 L1712.6 924.6 L1713.9 926.1 L1715.1 927.7 L1716.4 929.2 L1717.6 930.7 L1718.9 932.3 L1720.2 933.8 L1721.4 935.3 L1722.7 936.9 L1724.0 938.4 L1725.3 939.9 L1726.6 941.4 L1727.9 942.9 L1729.2 944.5 L1730.5 946.0 L1731.8 947.5 L1733.1 949.0 L1734.4 950.5 L1735.7 952.0 L1737.0 953.5 L1738.4 955.0 L1739.7 956.6 L1741.0 958.1 L1742.3 959.6 L1743.7 961.1 L1745.0 962.6 L1746.3 964.1 L1747.7 965.6 L1749.0 967.1 L1750.3 968.6 L1751.7 970.1 L1753.0 971.7 L1754.4 973.2 L1755.7 974.7 L1757.1 976.2 L1758.4 977.7 L1759.8 979.2 L1761.2 980.7 L1762.5 982.2 L1763.9 983.7 L1765.3 985.2 L1766.6 986.7 L1768.0 988.1 L1769.4 989.6 L1770.8 991.1 L1772.2 992.6 L1773.6 994.0 L1775.0 995.5 L1776.4 997.0 L1777.8 998.4 L1779.2 999.8 L1780.7 1001.3 L1782.1 1002.7 L1783.5 1004.1 L1785.0 1005.6 L1786.4 1007.0 L1787.9 1008.4 L1789.3 1009.8 L1790.8 1011.2 L1792.3 1012.5 L1793.7 1013.9 L1795.2 1015.3 L1796.7 1016.6 L1798.2 1018.0 L1799.7 1019.3 L1801.2 1020.6 L1802.7 1021.9 L1804.2 1023.2 L1805.8 1024.5 L1807.3 1025.8 L1808.8 1027.1 L1810.4 1028.3 L1812.0 1029.6 L1813.5 1030.8 L1815.1 1032.0 L1816.7 1033.3 L1818.3 1034.5 L1819.9 1035.6 L1821.5 1036.8 L1823.1 1038.0 L1824.7 1039.1 L1826.4 1040.2 L1828.0 1041.3 L1829.6 1042.4 L1831.3 1043.5 L1833.0 1044.6 L1834.7 1045.6 L1836.3 1046.7 L1838.0 1047.7 L1839.7 1048.7 L1841.5 1049.7 L1843.2 1050.7 L1844.9 1051.6 L1846.6 1052.6 L1848.4 1053.5 L1850.1 1054.4 L1851.9 1055.3 L1853.7 1056.2 L1855.5 1057.1 L1857.2 1058.0 L1859.0 1058.8 L1860.8 1059.6 L1862.6 1060.5 L1864.4 1061.3 L1866.3 1062.0 L1868.1 1062.8 L1869.9 1063.6 L1871.8 1064.3 L1873.6 1065.1 L1875.5 1065.8 L1877.3 1066.5 L1879.2 1067.2 L1881.0 1067.9 L1882.9 1068.5 L1884.8 1069.2 L1886.7 1069.8 L1888.6 1070.4 L1890.4 1071.0 L1892.3 1071.6 L1894.2 1072.2 L1896.2 1072.8 L1898.1 1073.4 L1900.0 1073.9 L1901.9 1074.4 L1903.8 1075.0 L1905.8 1075.5 L1907.7 1076.0 L1909.6 1076.4 L1911.6 1076.9 L1913.5 1077.4 L1915.4 1077.8 L1917.4 1078.3 L1919.3 1078.7 L1921.3 1079.1 L1923.3 1079.5 L1925.2 1079.9 L1927.2 1080.2 L1929.1 1080.6 L1931.1 1081.0 L1933.1 1081.3 L1935.0 1081.6 L1937.0 1081.9 L1939.0 1082.2 L1941.0 1082.5 L1942.9 1082.8 L1944.9 1083.1 L1946.9 1083.4 L1948.9 1083.6 L1950.9 1083.8 L1952.8 1084.1 L1954.8 1084.3 L1956.8 1084.5 L1958.8 1084.7 L1960.8 1084.9 L1962.8 1085.1 L1964.8 1085.3 L1966.8 1085.5 L1968.8 1085.6 L1970.8 1085.8 L1972.8 1085.9 L1974.8 1086.1 L1976.8 1086.2 L1978.8 1086.3 L1980.8 1086.4 L1982.8 1086.5 L1984.8 1086.6 L1986.8 1086.7 L1988.8 1086.8 L1990.8 1086.9 L1992.8 1087.0 L1994.8 1087.1 L1996.8 1087.1 L1998.8 1087.2 L2000.8 1087.3 L2002.8 1087.3 L2004.9 1087.4 L2006.9 1087.4 L2008.9 1087.5 L2010.9 1087.5 L2012.9 1087.5 L2014.9 1087.6 L2016.9 1087.6 L2018.9 1087.6 L2021.0 1087.6 L2023.0 1087.7 L2025.0 1087.7 L2027.0 1087.7 L2029.0 1087.7 L2031.0 1087.7 L2033.0 1087.7 L2035.0 1087.7 L2037.1 1087.7 L2039.1 1087.8 L2041.1 1087.8 L2043.1 1087.8 L2045.1 1087.8 L2047.1 1087.8 L2049.1 1087.8 L2051.1 1087.8 L2053.2 1087.8 L2055.2 1087.8 L2057.2 1087.8 L2059.2 1087.8 L2061.2 1087.8 L2063.2 1087.8 L2065.2 1087.8 L2067.2 1087.8 L2069.2 1087.8 L2071.2 1087.9 L2073.2 1087.9 L2075.2 1087.9 L2077.2 1087.9 L2079.2 1087.9 L2081.2 1087.9 L2083.2 1087.9 L2085.2 1088.0 L2087.2 1088.0 L2089.2 1088.0 L2091.2 1088.0 L2093.2 1088.0 L2095.2 1088.1 L2097.2 1088.1 L2099.2 1088.1 L2101.2 1088.1 L2103.2 1088.2 L2105.2 1088.2 L2107.2 1088.2 L2109.2 1088.2 L2111.2 1088.3 L2113.2 1088.3 L2115.2 1088.3 L2117.2 1088.3 L2119.2 1088.4 L2121.2 1088.4 L2123.2 1088.4 L2125.2 1088.4 L2127.2 1088.4 L2129.2 1088.5 L2131.2 1088.5 L2133.1 1088.5 L2135.1 1088.5 L2137.1 1088.6 L2139.1 1088.6 L2141.1 1088.6 L2143.1 1088.6 L2145.1 1088.6 L2147.1 1088.7 L2149.1 1088.7 L2151.1 1088.7 L2153.1 1088.7 L2155.1 1088.7 L2157.0 1088.8 L2159.0 1088.8 L2161.0 1088.8 L2163.0 1088.8 L2165.0 1088.8 L2167.0 1088.8 L2169.0 1088.8 L2171.0 1088.8 L2173.0 1088.8 L2175.0 1088.8 L2177.0 1088.9 L2179.0 1088.9 L2180.9 1088.9 L2182.9 1088.9 L2184.9 1088.9 L2186.9 1088.9 L2188.9 1088.9 L2190.9 1088.8 L2192.9 1088.8 L2194.9 1088.8 L2196.9 1088.8 L2198.9 1088.8 L2200.9 1088.8 L2202.9 1088.8 L2204.9 1088.8 L2206.9 1088.7 L2208.9 1088.7 L2210.9 1088.7 L2212.9 1088.7 L2214.9 1088.6 L2216.8 1088.6 L2218.8 1088.6 L2220.8 1088.5 L2222.8 1088.5 L2224.8 1088.5 L2226.8 1088.4 L2228.8 1088.4 L2230.8 1088.3 L2232.8 1088.3 L2234.8 1088.2 L2236.8 1088.2 L2238.8 1088.1 L2240.8 1088.1 L2242.8 1088.0 L2244.9 1087.9 L2246.9 1087.9 L2248.9 1087.8 L2250.9 1087.7 L2252.9 1087.6 L2254.9 1087.6 L2256.9 1087.5 L2258.9 1087.4 L2260.9 1087.3 L2262.9 1087.2 L2264.9 1087.1 L2266.9 1087.0 L2268.9 1086.9 L2271.0 1086.8 L2273.0 1086.7 L2275.0 1086.6 L2277.0 1086.5 L2279.0 1086.4 L2279.5 1086.3" stroke="#6208d4"/>
<path d="M377.6 1088.1 L379.6 1088.2 L381.6 1088.2 L383.6 1088.3 L385.6 1088.3 L387.6 1088.4 L389.6 1088.4 L391.6 1088.5 L393.6 1088.5 L395.6 1088.5 L397.6 1088.6 L399.6 1088.6 L401.6 1088.6 L403.6 1088.6 L405.6 1088.6 L407.6 1088.6 L409.7 1088.6 L411.7 1088.6 L413.7 1088.6 L415.7 1088.6 L417.7 1088.6 L419.7 1088.6 L421.7 1088.6 L423.7 1088.6 L425.7 1088.5 L427.7 1088.5 L429.7 1088.5 L431.7 1088.5 L433.7 1088.4 L435.7 1088.4 L437.7 1088.3 L439.7 1088.3 L441.7 1088.2 L443.7 1088.2 L445.6 1088.1 L447.6 1088.1 L449.6 1088.0 L451.6 1088.0 L453.6 1087.9 L455.6 1087.8 L457.6 1087.8 L459.6 1087.7 L461.6 1087.6 L463.6 1087.6 L465.6 1087.5 L467.6 1087.4 L469.6 1087.4 L471.6 1087.3 L473.6 1087.2 L475.6 1087.1 L477.6 1087.0 L479.6 1087.0 L481.6 1086.9 L483.6 1086.8 L485.6 1086.7 L487.6 1086.6 L489.6 1086.5 L491.6 1086.5 L493.6 1086.4 L495.6 1086.3 L497.6 1086.2 L499.6 1086.1 L501.6 1086.0 L503.5 1085.9 L505.5 1085.8 L507.5 1085.8 L509.5 1085.7 L511.5 1085.6 L513.5 1085.5 L515.5 1085.4 L517.5 1085.3 L519.5 1085.2 L521.5 1085.1 L523.5 1085.0 L525.5 1085.0 L527.5 1084.9 L529.5 1084.8 L531.5 1084.7 L533.5 1084.6 L535.5 1084.5 L537.5 1084.5 L539.5 1084.4 L541.5 1084.3 L543.5 1084.2 L545.5 1084.2 L547.5 1084.1 L549.5 1084.0 L551.5 1083.9 L553.5 1083.9 L555.5 1083.8 L557.5 1083.7 L559.5 1083.7 L561.5 1083.6 L563.5 1083.5 L565.5 1083.5 L567.5 1083.4 L569.5 1083.4 L571.5 1083.3 L573.5 1083.3 L575.5 1083.2 L577.5 1083.2 L579.5 1083.1 L581.5 1083.1 L583.5 1083.1 L585.5 1083.0 L587.5 1083.0 L589.5 1083.0 L591.5 1083.0 L593.5 1082.9 L595.5 1082.9 L597.5 1082.9 L599.5 1082.9 L601.5 1082.9 L603.5 1082.9 L605.5 1082.9 L607.5 1082.9 L609.5 1082.9 L611.5 1082.9 L613.5 1082.9 L615.5 1083.0 L617.5 1083.0 L619.5 1083.0 L621.6 1083.0 L623.6 1083.0 L625.6 1083.1 L627.6 1083.1 L629.6 1083.1 L631.6 1083.1 L633.6 1083.2 L635.6 1083.2 L637.6 1083.2 L639.6 1083.3 L641.6 1083.3 L643.6 1083.3 L645.6 1083.3 L647.6 1083.4 L649.7 1083.4 L651.7 1083.4 L653.7 1083.4 L655.7 1083.5 L657.7 1083.5 L659.7 1083.5 L661.7 1083.5 L663.7 1083.5 L665.7 1083.5 L667.7 1083.5 L669.7 1083.5 L671.7 1083.5 L673.7 1083.5 L675.7 1083.5 L677.7 1083.5 L679.7 1083.5 L681.7 1083.5 L683.7 1083.4 L685.7 1083.4 L687.7 1083.3 L689.7 1083.3 L691.7 1083.3 L693.7 1083.2 L695.6 1083.1 L697.6 1083.1 L699.6 1083.0 L701.6 1082.9 L703.6 1082.8 L705.6 1082.7 L707.6 1082.6 L709.6 1082.5 L711.5 1082.4 L713.5 1082.3 L715.5 1082.1 L717.5 1082.0 L719.5 1081.8 L721.5 1081.7 L723.4 1081.5 L725.4 1081.3 L727.4 1081.1 L729.4 1080.9 L731.3 1080.7 L733.3 1080.5 L735.3 1080.3 L737.3 1080.1 L739.2 1079.9 L741.2 1079.6 L743.2 1079.3 L745.1 1079.1 L747.1 1078.8 L749.1 1078.5 L751.0 1078.2 L753.0 1077.9 L755.0 1077.6 L756.9 1077.3 L758.9 1077.0 L760.9 1076.6 L762.8 1076.3 L764.8 1075.9 L766.7 1075.5 L768.7 1075.1 L770.7 1074.7 L772.6 1074.3 L774.6 1073.9 L776.5 1073.5 L778.5 1073.0 L780.4 1072.6 L782.4 1072.1 L784.3 1071.6 L786.3 1071.2 L788.2 1070.7 L790.2 1070.2 L792.1 1069.7 L794.1 1069.2 L796.0 1068.7 L798.0 1068.2 L799.9 1067.7 L801.9 1067.2 L803.8 1066.7 L805.8 1066.2 L807.7 1065.7 L809.7 1065.2 L811.6 1064.8 L813.5 1064.3 L815.5 1063.8 L817.4 1063.4 L819.4 1063.0 L821.3 1062.5 L823.3 1062.1 L825.2 1061.7 L827.1 1061.3 L829.1 1060.9 L831.0 1060.6 L833.0 1060.3 L834.9 1059.9 L836.9 1059.6 L838.8 1059.4 L840.7 1059.1 L842.7 1058.9 L844.6 1058.7 L846.6 1058.5 L848.5 1058.3 L850.5 1058.2 L852.4 1058.1 L854.3 1058.0 L856.3 1058.0 L858.2 1057.9 L860.2 1058.0 L862.1 1058.0 L864.1 1058.1 L866.0 1058.2 L867.9 1058.4 L869.9 1058.6 L871.8 1058.8 L873.8 1059.1 L875.7 1059.4 L877.7 1059.7 L879.6 1060.1 L881.6 1060.6 L883.5 1061.0 L885.5 1061.5 L887.4 1062.1 L889.4 1062.6 L891.3 1063.2 L893.3 1063.8 L895.2 1064.4 L897.2 1065.0 L899.1 1065.7 L901.1 1066.3 L903.0 1067.0 L905.0 1067.7 L906.9 1068.3 L908.9 1069.0 L910.8 1069.7 L912.8 1070.3 L914.7 1071.0 L916.7 1071.6 L918.6 1072.2 L920.6 1072.8 L922.6 1073.4 L924.5 1074.0 L926.5 1074.5 L928.4 1075.0 L930.4 1075.5 L932.3 1076.0 L934.3 1076.4 L936.3 1076.8 L938.2 1077.2 L940.2 1077.5 L942.1 1077.8 L944.1 1078.1 L946.1 1078.4 L948.0 1078.6 L950.0 1078.8 L951.9 1078.9 L953.9 1079.1 L955.9 1079.2 L957.8 1079.2 L959.8 1079.3 L961.8 1079.3 L963.7 1079.2 L965.7 1079.2 L967.6 1079.1 L969.6 1078.9 L971.6 1078.8 L973.5 1078.6 L975.5 1078.3 L977.4 1078.1 L979.4 1077.8 L981.4 1077.4 L983.3 1077.1 L985.3 1076.7 L987.2 1076.3 L989.2 1075.8 L991.2 1075.4 L993.1 1074.9 L995.1 1074.4 L997.0 1073.8 L999.0 1073.3 L1001.0 1072.7 L1002.9 1072.1 L1004.9 1071.6 L1006.8 1070.9 L1008.8 1070.3 L1010.7 1069.7 L1012.7 1069.1 L1014.7 1068.4 L1016.6 1067.8 L1018.6 1067.1 L1020.5 1066.5 L1022.5 1065.8 L1024.4 1065.2 L1026.4 1064.5 L1028.3 1063.8 L1030.3 1063.2 L1032.2 1062.6 L1034.2 1061.9 L1036.2 1061.3 L1038.1 1060.7 L1040.1 1060.1 L1042.0 1059.5 L1044.0 1059.0 L1045.9 1058.4 L1047.9 1057.9 L1049.8 1057.4 L1051.8 1056.9 L1053.7 1056.4 L1055.6 1056.0 L1057.6 1055.6 L1059.5 1055.2 L1061.5 1054.8 L1063.4 1054.5 L1065.4 1054.2 L1067.3 1053.9 L1069.3 1053.7 L1071.2 1053.5 L1073.1 1053.4 L1075.1 1053.2 L1077.0 1053.2 L1079.0 1053.1 L1080.9 1053.2 L1082.8 1053.2 L1084.8 1053.3 L1086.7 1053.5 L1088.7 1053.6 L1090.6 1053.9 L1092.5 1054.2 L1094.5 1054.5 L1096.4 1054.8 L1098.3 1055.2 L1100.3 1055.6 L1102.2 1056.1 L1104.1 1056.5 L1106.1 1057.0 L1108.0 1057.6 L1109.9 1058.1 L1111.8 1058.7 L1113.8 1059.3 L1115.7 1060.0 L1117.6 1060.6 L1119.6 1061.3 L1121.5 1061.9 L1123.4 1062.6 L1125.4 1063.3 L1127.3 1064.1 L1129.2 1064.8 L1131.1 1065.5 L1133.1 1066.3 L1135.0 1067.0 L1136.9 1067.7 L1138.8 1068.5 L1140.8 1069.2 L1142.7 1070.0 L1144.6 1070.7 L1146.6 1071.4 L1148.5 1072.2 L1150.4 1072.9 L1152.3 1073.6 L1154.3 1074.3 L1156.2 1075.0 L1158.1 1075.6 L1160.1 1076.3 L1162.0 1076.9 L1163.9 1077.5 L1165.8 1078.1 L1167.8 1078.7 L1169.7 1079.2 L1171.6 1079.7 L1173.6 1080.2 L1175.5 1080.6 L1177.4 1081.1 L1179.4 1081.5 L1181.3 1081.8 L1183.2 1082.1 L1185.1 1082.4 L1187.1 1082.6 L1189.0 1082.8 L1190.9 1083.0 L1192.9 1083.1 L1194.8 1083.1 L1196.7 1083.2 L1198.7 1083.1 L1200.6 1083.0 L1202.5 1082.9 L1204.4 1082.7 L1206.3 1082.5 L1208.2 1082.2 L1210.1 1081.8 L1211.9 1081.4 L1213.8 1080.9 L1215.7 1080.4 L1217.5 1079.8 L1219.3 1079.2 L1221.1 1078.5 L1223.0 1077.8 L1224.7 1077.0 L1226.5 1076.2 L1228.3 1075.3 L1230.1 1074.4 L1231.8 1073.5 L1233.5 1072.5 L1235.2 1071.4 L1236.9 1070.4 L1238.6 1069.3 L1240.2 1068.2 L1241.9 1067.0 L1243.5 1065.9 L1245.1 1064.7 L1246.7 1063.4 L1248.2 1062.2 L1249.8 1060.9 L1251.3 1059.6 L1252.8 1058.3 L1254.2 1057.0 L1255.7 1055.6 L1257.1 1054.2 L1258.6 1052.8 L1260.0 1051.4 L1261.4 1050.0 L1262.7 1048.5 L1264.1 1047.1 L1265.4 1045.6 L1266.7 1044.1 L1268.0 1042.6 L1269.3 1041.0 L1270.6 1039.5 L1271.9 1037.9 L1273.1 1036.4 L1274.3 1034.8 L1275.5 1033.2 L1276.7 1031.6 L1277.9 1029.9 L1279.1 1028.3 L1280.3 1026.6 L1281.4 1025.0 L1282.6 1023.3 L1283.7 1021.6 L1284.8 1019.9 L1285.9 1018.2 L1287.0 1016.5 L1288.1 1014.8 L1289.2 1013.1 L1290.2 1011.4 L1291.3 1009.6 L1292.3 1007.9 L1293.4 1006.1 L1294.4 1004.4 L1295.4 1002.6 L1296.4 1000.9 L1297.4 999.1 L1298.4 997.3 L1299.4 995.6 L1300.4 993.8 L1301.4 992.0 L1302.4 990.2 L1303.3 988.5 L1304.3 986.7 L1305.2 984.9 L1306.2 983.1 L1307.1 981.3 L1308.1 979.5 L1309.0 977.7 L1309.9 976.0 L1310.8 974.2 L1311.8 972.4 L1312.7 970.6 L1313.6 968.8 L1314.5 967.0 L1315.4 965.2 L1316.3 963.4 L1317.2 961.6 L1318.0 959.8 L1318.9 958.0 L1319.8 956.2 L1320.7 954.4 L1321.5 952.6 L1322.4 950.7 L1323.2 948.9 L1324.1 947.1 L1324.9 945.3 L1325.8 943.5 L1326.6 941.7 L1327.5 939.9 L1328.3 938.0 L1329.1 936.2 L1330.0 934.4 L1330.8 932.6 L1331.6 930.8 L1332.4 928.9 L1333.3 927.1 L1334.1 925.3 L1334.9 923.5 L1335.7 921.7 L1336.5 919.8 L1337.3 918.0 L1338.1 916.2 L1338.9 914.3 L1339.7 912.5 L1340.5 910.7 L1341.3 908.9 L1342.1 907.0 L1342.9 905.2 L1343.7 903.4 L1344.4 901.5 L1345.2 899.7 L1346.0 897.9 L1346.8 896.1 L1347.6 894.2 L1348.3 892.4 L1349.1 890.6 L1349.9 888.7 L1350.7 886.9 L1351.5 885.1 L1352.2 883.2 L1353.0 881.4 L1353.8 879.6 L1354.5 877.7 L1355.3 875.9 L1356.1 874.1 L1356.9 872.2 L1357.6 870.4 L1358.4 868.6 L1359.2 866.8 L1360.0 864.9 L1360.7 863.1 L1361.5 861.3 L1362.3 859.4 L1363.1 857.6 L1363.8 855.8 L1364.6 854.0 L1365.4 852.1 L1366.2 850.3 L1366.9 848.5 L1367.7 846.6 L1368.5 844.8 L1369.3 843.0 L1370.1 841.2 L1370.9 839.3 L1371.6 837.5 L1372.4 835.7 L1373.2 833.9 L1374.0 832.1 L1374.8 830.2 L1375.6 828.4 L1376.4 826.6 L1377.2 824.8 L1378.0 823.0 L1378.8 821.2 L1379.6 819.3 L1380.5 817.5 L1381.3 815.7 L1382.1 813.9 L1382.9 812.1 L1383.7 810.3 L1384.6 808.5 L1385.4 806.7 L1386.2 804.9 L1387.1 803.1 L1387.9 801.3 L1388.8 799.5 L1389.6 797.7 L1390.5 795.9 L1391.3 794.1 L1392.2 792.3 L1393.1 790.5 L1393.9 788.7 L1394.8 786.9 L1395.7 785.1 L1396.6 783.3 L1397.5 781.5 L1398.4 779.7 L1399.3 778.0 L1400.2 776.2 L1401.1 774.4 L1402.0 772.6 L1403.0 770.8 L1403.9 769.1 L1404.8 767.3 L1405.8 765.5 L1406.7 763.7 L1407.7 762.0 L1408.6 760.2 L1409.6 758.4 L1410.6 756.7 L1411.5 754.9 L1412.5 753.1 L1413.5 751.4 L1414.5 749.6 L1415.5 747.9 L1416.5 746.1 L1417.6 744.4 L1418.6 742.6 L1419.6 740.9 L1420.7 739.1 L1421.7 737.4 L1422.8 735.6 L1423.8 733.9 L1424.9 732.2 L1426.0 730.4 L1427.1 728.7 L1428.2 727.0 L1429.3 725.2 L1430.4 723.5 L1431.5 721.8 L1432.7 720.1 L1433.8 718.4 L1435.0 716.6 L1436.1 714.9 L1437.3 713.2 L1438.5 711.5 L1439.6 709.8 L1440.8 708.1 L1442.1 706.4 L1443.3 704.8 L1444.5 703.1 L1445.8 701.4 L1447.0 699.8 L1448.3 698.2 L1449.6 696.6 L1450.9 695.0 L1452.2 693.4 L1453.5 691.9 L1454.8 690.4 L1456.2 688.9 L1457.6 687.4 L1459.0 686.0 L1460.4 684.6 L1461.8 683.2 L1463.3 681.8 L1464.7 680.5 L1466.2 679.3 L1467.7 678.0 L1469.3 676.8 L1470.8 675.7 L1472.4 674.6 L1474.0 673.5 L1475.6 672.5 L1477.2 671.5 L1478.9 670.6 L1480.6 669.7 L1482.3 668.8 L1484.0 668.1 L1485.8 667.3 L1487.6 666.7 L1489.4 666.1 L1491.2 665.5 L1493.1 665.0 L1495.0 664.6 L1496.9 664.2 L1498.8 663.8 L1500.7 663.5 L1502.6 663.3 L1504.5 663.1 L1506.5 663.0 L1508.4 663.0 L1510.4 662.9 L1512.4 663.0 L1514.3 663.1 L1516.3 663.2 L1518.2 663.4 L1520.2 663.7 L1522.1 664.0 L1524.1 664.3 L1526.0 664.7 L1527.9 665.2 L1529.8 665.7 L1531.7 666.3 L1533.6 666.9 L1535.4 667.6 L1537.2 668.3 L1539.1 669.1 L1540.9 669.9 L1542.6 670.7 L1544.4 671.6 L1546.1 672.6 L1547.8 673.6 L1549.5 674.6 L1551.2 675.7 L1552.9 676.8 L1554.5 677.9 L1556.2 679.1 L1557.8 680.3 L1559.4 681.6 L1560.9 682.9 L1562.5 684.2 L1564.1 685.5 L1565.6 686.9 L1567.1 688.3 L1568.6 689.7 L1570.1 691.1 L1571.5 692.6 L1573.0 694.1 L1574.4 695.6 L1575.8 697.1 L1577.2 698.6 L1578.6 700.2 L1579.9 701.7 L1581.3 703.3 L1582.6 704.9 L1584.0 706.5 L1585.3 708.1 L1586.6 709.7 L1587.8 711.3 L1589.1 712.9 L1590.3 714.6 L1591.6 716.2 L1592.8 717.8 L1594.0 719.4 L1595.2 721.0 L1596.4 722.7 L1597.6 724.3 L1598.7 725.9 L1599.9 727.5 L1601.0 729.1 L1602.2 730.8 L1603.3 732.4 L1604.4 734.0 L1605.6 735.6 L1606.7 737.3 L1607.8 738.9 L1608.9 740.5 L1610.1 742.2 L1611.2 743.8 L1612.3 745.4 L1613.4 747.0 L1614.5 748.7 L1615.6 750.3 L1616.7 752.0 L1617.9 753.6 L1619.0 755.2 L1620.1 756.9 L1621.2 758.5 L1622.3 760.2 L1623.4 761.8 L1624.6 763.4 L1625.7 765.1 L1626.8 766.7 L1627.9 768.4 L1629.0 770.0 L1630.1 771.7 L1631.2 773.3 L1632.4 775.0 L1633.5 776.6 L1634.6 778.3 L1635.7 780.0 L1636.8 781.6 L1637.9 783.3 L1639.0 784.9 L1640.2 786.6 L1641.3 788.2 L1642.4 789.9 L1643.5 791.6 L1644.6 793.2 L1645.7 794.9 L1646.8 796.6 L1647.9 798.2 L1649.0 799.9 L1650.2 801.6 L1651.3 803.2 L1652.4 804.9 L1653.5 806.6 L1654.6 808.2 L1655.7 809.9 L1656.8 811.6 L1657.9 813.2 L1659.0 814.9 L1660.1 816.6 L1661.2 818.3 L1662.3 819.9 L1663.4 821.6 L1664.5 823.3 L1665.6 825.0 L1666.7 826.6 L1667.8 828.3 L1668.9 830.0 L1670.0 831.7 L1671.1 833.4 L1672.2 835.0 L1673.3 836.7 L1674.4 838.4 L1675.5 840.1 L1676.6 841.8 L1677.7 843.4 L1678.8 845.1 L1679.9 846.8 L1681.0 848.5 L1682.1 850.2 L1683.2 851.9 L1684.3 853.5 L1685.4 855.2 L1686.4 856.9 L1687.5 858.6 L1688.6 860.3 L1689.7 862.0 L1690.8 863.7 L1691.9 865.4 L1693.0 867.0 L1694.0 868.7 L1695.1 870.4 L1696.2 872.1 L1697.3 873.8 L1698.4 875.5 L1699.4 877.2 L1700.5 878.9 L1701.6 880.6 L1702.7 882.2 L1703.7 883.9 L1704.8 885.6 L1705.9 887.3 L1707.0 889.0 L1708.0 890.7 L1709.1 892.4 L1710.2 894.1 L1711.2 895.8 L1712.3 897.5 L1713.4 899.1 L1714.4 900.8 L1715.5 902.5 L1716.5 904.2 L1717.6 905.9 L1718.7 907.6 L1719.7 909.3 L1720.8 911.0 L1721.8 912.7 L1722.9 914.4 L1723.9 916.1 L1725.0 917.7 L1726.1 919.4 L1727.1 921.1 L1728.2 922.8 L1729.2 924.5 L1730.3 926.2 L1731.3 927.9 L1732.4 929.5 L1733.5 931.2 L1734.5 932.9 L1735.6 934.6 L1736.7 936.3 L1737.7 937.9 L1738.8 939.6 L1739.9 941.3 L1741.0 942.9 L1742.1 944.6 L1743.1 946.3 L1744.2 947.9 L1745.3 949.6 L1746.4 951.2 L1747.5 952.9 L1748.6 954.5 L1749.8 956.2 L1750.9 957.8 L1752.0 959.4 L1753.1 961.1 L1754.3 962.7 L1755.4 964.3 L1756.5 965.9 L1757.7 967.6 L1758.9 969.2 L1760.0 970.8 L1761.2 972.4 L1762.4 974.0 L1763.6 975.6 L1764.8 977.2 L1766.0 978.8 L1767.2 980.3 L1768.4 981.9 L1769.6 983.5 L1770.9 985.0 L1772.1 986.6 L1773.4 988.1 L1774.6 989.7 L1775.9 991.2 L1777.2 992.8 L1778.5 994.3 L1779.8 995.8 L1781.1 997.3 L1782.4 998.9 L1783.8 1000.4 L1785.1 1001.9 L1786.5 1003.3 L1787.8 1004.8 L1789.2 1006.3 L1790.6 1007.8 L1792.0 1009.2 L1793.4 1010.7 L1794.9 1012.1 L1796.3 1013.6 L1797.8 1015.0 L1799.2 1016.4 L1800.7 1017.9 L1802.2 1019.3 L1803.7 1020.7 L1805.2 1022.0 L1806.7 1023.4 L1808.2 1024.8 L1809.7 1026.1 L1811.3 1027.5 L1812.8 1028.8 L1814.4 1030.2 L1816.0 1031.5 L1817.5 1032.8 L1819.1 1034.1 L1820.7 1035.4 L1822.3 1036.6 L1824.0 1037.9 L1825.6 1039.1 L1827.2 1040.4 L1828.9 1041.6 L1830.5 1042.8 L1832.2 1044.0 L1833.8 1045.2 L1835.5 1046.4 L1837.2 1047.5 L1838.9 1048.7 L1840.6 1049.8 L1842.3 1050.9 L1844.0 1052.0 L1845.7 1053.1 L1847.4 1054.2 L1849.2 1055.2 L1850.9 1056.3 L1852.7 1057.3 L1854.4 1058.3 L1856.2 1059.3 L1857.9 1060.3 L1859.7 1061.2 L1861.5 1062.2 L1863.3 1063.1 L1865.1 1064.0 L1866.9 1064.9 L1868.7 1065.8 L1870.5 1066.7 L1872.3 1067.5 L1874.1 1068.3 L1875.9 1069.1 L1877.7 1069.9 L1879.6 1070.7 L1881.4 1071.4 L1883.2 1072.2 L1885.1 1072.9 L1886.9 1073.6 L1888.8 1074.3 L1890.6 1075.0 L1892.5 1075.6 L1894.3 1076.2 L1896.2 1076.9 L1898.1 1077.5 L1900.0 1078.0 L1901.8 1078.6 L1903.7 1079.2 L1905.6 1079.7 L1907.5 1080.2 L1909.4 1080.8 L1911.3 1081.2 L1913.2 1081.7 L1915.1 1082.2 L1917.0 1082.6 L1918.9 1083.1 L1920.9 1083.5 L1922.8 1083.9 L1924.7 1084.3 L1926.6 1084.7 L1928.6 1085.1 L1930.5 1085.4 L1932.4 1085.8 L1934.4 1086.1 L1936.3 1086.4 L1938.3 1086.7 L1940.2 1087.0 L1942.2 1087.3 L1944.1 1087.6 L1946.1 1087.8 L1948.0 1088.1 L1950.0 1088.3 L1952.0 1088.5 L1953.9 1088.8 L1955.9 1089.0 L1957.9 1089.2 L1959.8 1089.3 L1961.8 1089.5 L1963.8 1089.7 L1965.8 1089.8 L1967.8 1090.0 L1969.7 1090.1 L1971.7 1090.2 L1973.7 1090.3 L1975.7 1090.4 L1977.7 1090.5 L1979.7 1090.6 L1981.7 1090.7 L1983.7 1090.8 L1985.7 1090.8 L1987.7 1090.9 L1989.7 1090.9 L1991.7 1090.9 L1993.7 1091.0 L1995.7 1091.0 L1997.7 1091.0 L1999.7 1091.0 L2001.7 1091.0 L2003.7 1091.0 L2005.7 1091.0 L2007.7 1091.0 L2009.7 1091.0 L2011.8 1090.9 L2013.8 1090.9 L2015.8 1090.8 L2017.8 1090.8 L2019.8 1090.7 L2021.8 1090.7 L2023.8 1090.6 L2025.9 1090.5 L2027.9 1090.5 L2029.9 1090.4 L2031.9 1090.3 L2033.9 1090.2 L2035.9 1090.1 L2037.9 1090.0 L2040.0 1089.9 L2042.0 1089.8 L2044.0 1089.7 L2046.0 1089.6 L2048.0 1089.5 L2050.0 1089.4 L2052.0 1089.3 L2054.1 1089.1 L2056.1 1089.0 L2058.1 1088.9 L2060.1 1088.8 L2062.1 1088.6 L2064.1 1088.5 L2066.1 1088.4 L2068.1 1088.2 L2070.1 1088.1 L2072.1 1088.0 L2074.1 1087.8 L2076.2 1087.7 L2078.2 1087.6 L2080.2 1087.4 L2082.2 1087.3 L2084.2 1087.1 L2086.2 1087.0 L2088.2 1086.9 L2090.2 1086.7 L2092.2 1086.6 L2094.2 1086.4 L2096.2 1086.3 L2098.2 1086.1 L2100.1 1086.0 L2102.1 1085.8 L2104.1 1085.7 L2106.1 1085.5 L2108.1 1085.4 L2110.1 1085.3 L2112.1 1085.1 L2114.1 1085.0 L2116.1 1084.8 L2118.1 1084.7 L2120.1 1084.5 L2122.1 1084.4 L2124.1 1084.2 L2126.1 1084.1 L2128.0 1083.9 L2130.0 1083.8 L2132.0 1083.7 L2134.0 1083.5 L2136.0 1083.4 L2138.0 1083.2 L2140.0 1083.1 L2142.0 1083.0 L2144.0 1082.8 L2145.9 1082.7 L2147.9 1082.6 L2149.9 1082.4 L2151.9 1082.3 L2153.9 1082.2 L2155.9 1082.0 L2157.9 1081.9 L2159.9 1081.8 L2161.8 1081.7 L2163.8 1081.6 L2165.8 1081.4 L2167.8 1081.3 L2169.8 1081.2 L2171.8 1081.1 L2173.8 1081.0 L2175.8 1080.9 L2177.7 1080.8 L2179.7 1080.7 L2181.7 1080.6 L2183.7 1080.5 L2185.7 1080.4 L2187.7 1080.3 L2189.7 1080.2 L2191.7 1080.1 L2193.7 1080.0 L2195.7 1079.9 L2197.6 1079.8 L2199.6 1079.8 L2201.6 1079.7 L2203.6 1079.6 L2205.6 1079.5 L2207.6 1079.5 L2209.6 1079.4 L2211.6 1079.4 L2213.6 1079.3 L2215.6 1079.3 L2217.6 1079.2 L2219.6 1079.2 L2221.6 1079.1 L2223.6 1079.1 L2225.6 1079.1 L2227.6 1079.0 L2229.6 1079.0 L2231.6 1079.0 L2233.6 1079.0 L2235.6 1079.0 L2237.6 1078.9 L2239.6 1078.9 L2241.6 1078.9 L2243.6 1079.0 L2245.6 1079.0 L2247.6 1079.0 L2249.6 1079.0 L2251.6 1079.0 L2253.6 1079.0 L2255.6 1079.1 L2257.6 1079.1 L2259.6 1079.2 L2261.7 1079.2 L2263.7 1079.3 L2265.7 1079.3 L2267.7 1079.4 L2269.7 1079.5 L2271.7 1079.5 L2273.8 1079.6 L2275.8 1079.7 L2277.8 1079.8 L2279.5 1079.9" stroke="#2ae7e7"/>
</g>
<line x1="1823" x2="1974" y1="136.4" y2="136.4" stroke="#000000" stroke-width="7"/>
<text transform="translate(1987.3 158.1) scale(0.955 1)" font-size="66.5" font-weight="bold" xml:space="preserve">n = 2.4</text>
<line x1="1823" x2="1974" y1="216.6" y2="216.6" stroke="#e4423e" stroke-width="7"/>
<text transform="translate(1987.3 238.2) scale(0.955 1)" font-size="66.5" font-weight="bold" xml:space="preserve">n = 2.5</text>
<line x1="1823" x2="1974" y1="296.7" y2="296.7" stroke="#0c08e2" stroke-width="7"/>
<text transform="translate(1987.3 318.4) scale(0.955 1)" font-size="66.5" font-weight="bold" xml:space="preserve">n = 2.6</text>
<line x1="1823" x2="1974" y1="376.9" y2="376.9" stroke="#18ea18" stroke-width="7"/>
<text transform="translate(1987.3 398.6) scale(0.955 1)" font-size="66.5" font-weight="bold" xml:space="preserve">n = 2.7</text>
<line x1="1823" x2="1974" y1="457.0" y2="457.0" stroke="#f7f729" stroke-width="7"/>
<text transform="translate(1987.3 478.7) scale(0.955 1)" font-size="66.5" font-weight="bold" xml:space="preserve">n = 2.8</text>
<line x1="1823" x2="1974" y1="537.1" y2="537.1" stroke="#6208d4" stroke-width="7"/>
<text transform="translate(1987.3 558.9) scale(0.955 1)" font-size="66.5" font-weight="bold" xml:space="preserve">n = 2.9</text>
<line x1="1823" x2="1974" y1="617.3" y2="617.3" stroke="#2ae7e7" stroke-width="7"/>
<text transform="translate(1987.3 639.0) scale(0.955 1)" font-size="66.5" font-weight="bold" xml:space="preserve">n = 3.07</text>
<text x="377.6" y="1184.2" font-size="89" font-weight="bold" text-anchor="middle">5</text>
<text x="937.0" y="1184.2" font-size="89" font-weight="bold" text-anchor="middle">10</text>
<text x="1496.4" y="1184.2" font-size="89" font-weight="bold" text-anchor="middle">15</text>
<text x="2055.7" y="1184.2" font-size="89" font-weight="bold" text-anchor="middle">20</text>
<text x="355.3" y="1118.8" font-size="89" font-weight="bold" text-anchor="end">0</text>
<text x="355.3" y="910.5" font-size="89" font-weight="bold" text-anchor="end">500</text>
<text x="355.3" y="702.2" font-size="89" font-weight="bold" text-anchor="end">1000</text>
<text x="355.3" y="493.8" font-size="89" font-weight="bold" text-anchor="end">1500</text>
<text x="355.3" y="285.5" font-size="89" font-weight="bold" text-anchor="end">2000</text>
<text x="355.3" y="77.2" font-size="89" font-weight="bold" text-anchor="end">2500</text>
<text x="1328.5" y="1288.2" font-size="118.5" text-anchor="middle">z(microns)</text>
<text transform="translate(106.4 538.3) rotate(-90)" font-size="118" text-anchor="middle">intensity(a.u.)</text>
</svg></body></html>
